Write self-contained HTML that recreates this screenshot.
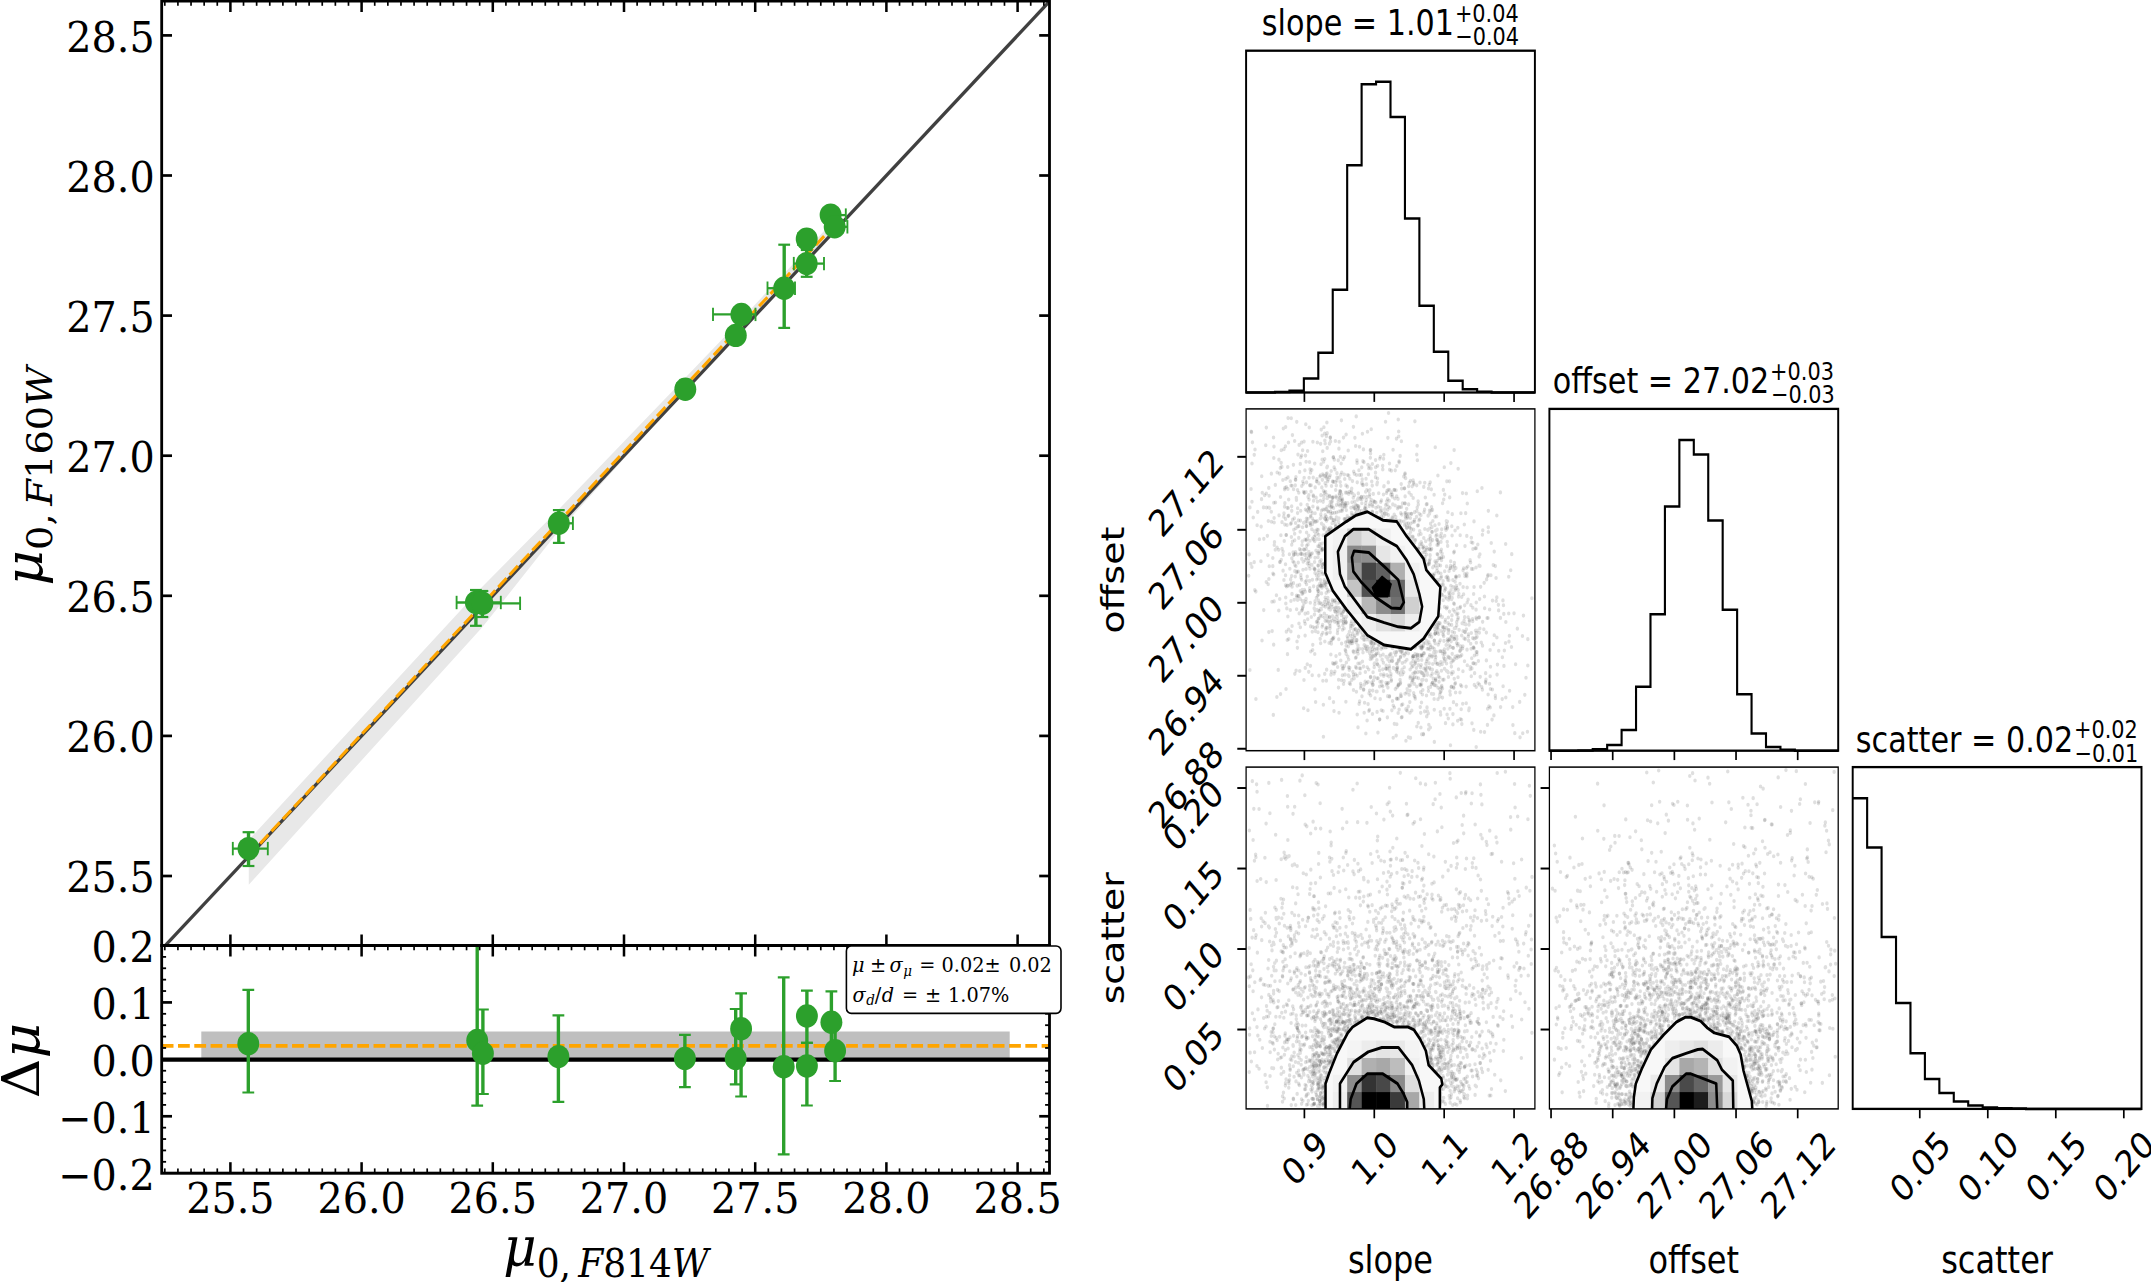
<!DOCTYPE html>
<html lang="en"><head><meta charset="utf-8"><title>mu0 F814W vs F160W and posterior corner plot</title>
<style>html,body{margin:0;padding:0;background:#fff}svg{display:block}text{fill:#000}</style></head><body>
<svg width="2151" height="1282" viewBox="0 0 2151 1282">
<defs><filter id="bl" x="-5%" y="-5%" width="110%" height="110%"><feGaussianBlur stdDeviation="0.45"/></filter><clipPath id="clipMain"><rect x="172.66" y="1" width="948" height="944.5"/></clipPath><clipPath id="clipLow"><rect x="172.66" y="945.5" width="948" height="227.7"/></clipPath><clipPath id="c10"><polygon points="1614.95,511.76 1633.19,520.18 1649.76,521.58 1661.37,536.32 1672.97,548.96 1681.26,558.78 1684.58,570.01 1701.16,586.86 1698.67,616.33 1681.26,638.79 1666.34,649.32 1634.84,645.11 1614.95,635.28 1590.08,609.31 1574.33,591.07 1565.21,572.82 1565.21,536.32 1590.08,521.58 1601.69,515.27"/></clipPath><clipPath id="c20"><polygon points="1565.53,1108.9 1565.53,1083.57 1569.91,1072.85 1579.12,1053.35 1591.78,1032.88 1597.53,1027.04 1614.8,1017.78 1622.86,1018.75 1635.52,1022.16 1647.03,1027.04 1663.15,1027.04 1670.05,1029.96 1676.96,1038.73 1683.87,1050.43 1687.32,1065.05 1702.29,1078.69 1703.44,1084.54 1700.56,1087.47 1700.56,1108.9"/></clipPath><clipPath id="c21"><polygon points="1929.13,1108.9 1929.7,1097.21 1932,1083.57 1939.49,1067.97 1949.85,1049.45 1964.81,1034.83 1979.78,1022.16 1990.14,1017.29 1997.04,1017.29 2008.55,1021.19 2016.61,1028.01 2024.67,1032.88 2041.94,1036.78 2051.15,1045.56 2055.75,1054.33 2059.2,1070.9 2064.96,1088.44 2068.99,1101.11 2069.56,1108.9"/></clipPath></defs>
<rect width="2151" height="1282" fill="#fff"/>
<g transform="scale(0.9365,1)">
<polygon points="265.64,839.85 509.4,592.48 515.01,586.83 596.26,509.87 730.75,378.72 786.79,323.9 893.27,217.81 893.27,226.81 786.79,334.2 730.75,391.72 596.26,531.37 515.01,627.33 509.4,632.98 265.64,884.85" fill="#e8e8e8"/>
<line x1="161.96" y1="960.06" x2="1131.43" y2="-9.43" stroke="#404040" stroke-width="3.4" clip-path="url(#clipMain)"/>
<line x1="265.64" y1="855.85" x2="893.27" y2="222.81" stroke="#ffa500" stroke-width="3.2" stroke-dasharray="12.6 4.6"/>
<line x1="248.59" y1="848.6" x2="285.96" y2="848.6" stroke="#2ca02c" stroke-width="2.3"/>
<line x1="248.59" y1="841.9" x2="248.59" y2="855.3" stroke="#2ca02c" stroke-width="2.0"/>
<line x1="285.96" y1="841.9" x2="285.96" y2="855.3" stroke="#2ca02c" stroke-width="2.0"/>
<line x1="265.35" y1="832.2" x2="265.35" y2="866" stroke="#2ca02c" stroke-width="3.6"/>
<line x1="259.05" y1="832.2" x2="271.65" y2="832.2" stroke="#2ca02c" stroke-width="2.2"/>
<line x1="259.05" y1="866" x2="271.65" y2="866" stroke="#2ca02c" stroke-width="2.2"/>
<line x1="487.56" y1="602.5" x2="534.76" y2="602.5" stroke="#2ca02c" stroke-width="2.3"/>
<line x1="487.56" y1="595.8" x2="487.56" y2="609.2" stroke="#2ca02c" stroke-width="2.0"/>
<line x1="534.76" y1="595.8" x2="534.76" y2="609.2" stroke="#2ca02c" stroke-width="2.0"/>
<line x1="508.17" y1="590" x2="508.17" y2="625.8" stroke="#2ca02c" stroke-width="3.6"/>
<line x1="501.87" y1="590" x2="514.47" y2="590" stroke="#2ca02c" stroke-width="2.2"/>
<line x1="501.87" y1="625.8" x2="514.47" y2="625.8" stroke="#2ca02c" stroke-width="2.2"/>
<line x1="508.28" y1="603.3" x2="555.37" y2="603.3" stroke="#2ca02c" stroke-width="2.3"/>
<line x1="508.28" y1="596.6" x2="508.28" y2="610" stroke="#2ca02c" stroke-width="2.0"/>
<line x1="555.37" y1="596.6" x2="555.37" y2="610" stroke="#2ca02c" stroke-width="2.0"/>
<line x1="515.11" y1="591" x2="515.11" y2="617" stroke="#2ca02c" stroke-width="3.6"/>
<line x1="508.81" y1="591" x2="521.41" y2="591" stroke="#2ca02c" stroke-width="2.2"/>
<line x1="508.81" y1="617" x2="521.41" y2="617" stroke="#2ca02c" stroke-width="2.2"/>
<line x1="589.43" y1="523.3" x2="611.75" y2="523.3" stroke="#2ca02c" stroke-width="2.3"/>
<line x1="589.43" y1="516.6" x2="589.43" y2="530" stroke="#2ca02c" stroke-width="2.0"/>
<line x1="611.75" y1="516.6" x2="611.75" y2="530" stroke="#2ca02c" stroke-width="2.0"/>
<line x1="596.69" y1="510.1" x2="596.69" y2="542.9" stroke="#2ca02c" stroke-width="3.6"/>
<line x1="590.39" y1="510.1" x2="602.99" y2="510.1" stroke="#2ca02c" stroke-width="2.2"/>
<line x1="590.39" y1="542.9" x2="602.99" y2="542.9" stroke="#2ca02c" stroke-width="2.2"/>
<line x1="722.9" y1="389.3" x2="739.99" y2="389.3" stroke="#2ca02c" stroke-width="2.3"/>
<line x1="722.9" y1="382.6" x2="722.9" y2="396" stroke="#2ca02c" stroke-width="2.0"/>
<line x1="739.99" y1="382.6" x2="739.99" y2="396" stroke="#2ca02c" stroke-width="2.0"/>
<line x1="731.77" y1="380" x2="731.77" y2="398" stroke="#2ca02c" stroke-width="3.6"/>
<line x1="725.47" y1="380" x2="738.07" y2="380" stroke="#2ca02c" stroke-width="2.2"/>
<line x1="725.47" y1="398" x2="738.07" y2="398" stroke="#2ca02c" stroke-width="2.2"/>
<line x1="777.36" y1="335.4" x2="794.45" y2="335.4" stroke="#2ca02c" stroke-width="2.3"/>
<line x1="777.36" y1="328.7" x2="777.36" y2="342.1" stroke="#2ca02c" stroke-width="2.0"/>
<line x1="794.45" y1="328.7" x2="794.45" y2="342.1" stroke="#2ca02c" stroke-width="2.0"/>
<line x1="785.69" y1="327" x2="785.69" y2="344" stroke="#2ca02c" stroke-width="3.6"/>
<line x1="779.39" y1="327" x2="791.99" y2="327" stroke="#2ca02c" stroke-width="2.2"/>
<line x1="779.39" y1="344" x2="791.99" y2="344" stroke="#2ca02c" stroke-width="2.2"/>
<line x1="761.35" y1="314.4" x2="806.73" y2="314.4" stroke="#2ca02c" stroke-width="2.3"/>
<line x1="761.35" y1="307.7" x2="761.35" y2="321.1" stroke="#2ca02c" stroke-width="2.0"/>
<line x1="806.73" y1="307.7" x2="806.73" y2="321.1" stroke="#2ca02c" stroke-width="2.0"/>
<line x1="791.67" y1="308" x2="791.67" y2="322" stroke="#2ca02c" stroke-width="3.6"/>
<line x1="785.37" y1="308" x2="797.97" y2="308" stroke="#2ca02c" stroke-width="2.2"/>
<line x1="785.37" y1="322" x2="797.97" y2="322" stroke="#2ca02c" stroke-width="2.2"/>
<line x1="819.54" y1="288.2" x2="848.91" y2="288.2" stroke="#2ca02c" stroke-width="2.3"/>
<line x1="819.54" y1="281.5" x2="819.54" y2="294.9" stroke="#2ca02c" stroke-width="2.0"/>
<line x1="848.91" y1="281.5" x2="848.91" y2="294.9" stroke="#2ca02c" stroke-width="2.0"/>
<line x1="837.37" y1="244.7" x2="837.37" y2="327.9" stroke="#2ca02c" stroke-width="3.6"/>
<line x1="831.07" y1="244.7" x2="843.67" y2="244.7" stroke="#2ca02c" stroke-width="2.2"/>
<line x1="831.07" y1="327.9" x2="843.67" y2="327.9" stroke="#2ca02c" stroke-width="2.2"/>
<line x1="847.62" y1="263.6" x2="879.87" y2="263.6" stroke="#2ca02c" stroke-width="2.3"/>
<line x1="847.62" y1="256.9" x2="847.62" y2="270.3" stroke="#2ca02c" stroke-width="2.0"/>
<line x1="879.87" y1="256.9" x2="879.87" y2="270.3" stroke="#2ca02c" stroke-width="2.0"/>
<line x1="861.4" y1="250" x2="861.4" y2="276.8" stroke="#2ca02c" stroke-width="3.6"/>
<line x1="855.1" y1="250" x2="867.7" y2="250" stroke="#2ca02c" stroke-width="2.2"/>
<line x1="855.1" y1="276.8" x2="867.7" y2="276.8" stroke="#2ca02c" stroke-width="2.2"/>
<line x1="852.11" y1="239.1" x2="869.19" y2="239.1" stroke="#2ca02c" stroke-width="2.3"/>
<line x1="852.11" y1="232.4" x2="852.11" y2="245.8" stroke="#2ca02c" stroke-width="2.0"/>
<line x1="869.19" y1="232.4" x2="869.19" y2="245.8" stroke="#2ca02c" stroke-width="2.0"/>
<line x1="861.4" y1="230" x2="861.4" y2="248" stroke="#2ca02c" stroke-width="3.6"/>
<line x1="855.1" y1="230" x2="867.7" y2="230" stroke="#2ca02c" stroke-width="2.2"/>
<line x1="855.1" y1="248" x2="867.7" y2="248" stroke="#2ca02c" stroke-width="2.2"/>
<line x1="884.14" y1="215.1" x2="903.15" y2="215.1" stroke="#2ca02c" stroke-width="2.3"/>
<line x1="884.14" y1="208.4" x2="884.14" y2="221.8" stroke="#2ca02c" stroke-width="2.0"/>
<line x1="903.15" y1="208.4" x2="903.15" y2="221.8" stroke="#2ca02c" stroke-width="2.0"/>
<line x1="886.92" y1="209" x2="886.92" y2="222" stroke="#2ca02c" stroke-width="3.6"/>
<line x1="880.62" y1="209" x2="893.22" y2="209" stroke="#2ca02c" stroke-width="2.2"/>
<line x1="880.62" y1="222" x2="893.22" y2="222" stroke="#2ca02c" stroke-width="2.2"/>
<line x1="886.28" y1="226.8" x2="904.86" y2="226.8" stroke="#2ca02c" stroke-width="2.3"/>
<line x1="886.28" y1="220.1" x2="886.28" y2="233.5" stroke="#2ca02c" stroke-width="2.0"/>
<line x1="904.86" y1="220.1" x2="904.86" y2="233.5" stroke="#2ca02c" stroke-width="2.0"/>
<line x1="891.3" y1="220" x2="891.3" y2="232" stroke="#2ca02c" stroke-width="3.6"/>
<line x1="885" y1="220" x2="897.6" y2="220" stroke="#2ca02c" stroke-width="2.2"/>
<line x1="885" y1="232" x2="897.6" y2="232" stroke="#2ca02c" stroke-width="2.2"/>
<circle cx="265.35" cy="848.6" r="11.7" fill="#2ca02c"/>
<circle cx="508.17" cy="602.5" r="11.7" fill="#2ca02c"/>
<circle cx="515.11" cy="603.3" r="11.7" fill="#2ca02c"/>
<circle cx="596.69" cy="523.3" r="11.7" fill="#2ca02c"/>
<circle cx="731.77" cy="389.3" r="11.7" fill="#2ca02c"/>
<circle cx="785.69" cy="335.4" r="11.7" fill="#2ca02c"/>
<circle cx="791.67" cy="314.4" r="11.7" fill="#2ca02c"/>
<circle cx="837.37" cy="288.2" r="11.7" fill="#2ca02c"/>
<circle cx="861.4" cy="263.6" r="11.7" fill="#2ca02c"/>
<circle cx="861.4" cy="239.1" r="11.7" fill="#2ca02c"/>
<circle cx="886.92" cy="215.1" r="11.7" fill="#2ca02c"/>
<circle cx="891.3" cy="226.8" r="11.7" fill="#2ca02c"/>
<rect x="214.95" y="1031.5" width="863.21" height="27.9" fill="#bfbfbf"/>
<line x1="172.66" y1="1059.65" x2="1120.66" y2="1059.65" stroke="#000" stroke-width="4.1"/>
<line x1="172.66" y1="1045.9" x2="1120.66" y2="1045.9" stroke="#ffa500" stroke-width="3.7" stroke-dasharray="12.6 4.8"/>
<line x1="265.14" y1="989.8" x2="265.14" y2="1092.5" stroke="#2ca02c" stroke-width="3.6" clip-path="url(#clipLow)"/>
<line x1="258.84" y1="989.8" x2="271.44" y2="989.8" stroke="#2ca02c" stroke-width="2.2" clip-path="url(#clipLow)"/>
<line x1="258.84" y1="1092.5" x2="271.44" y2="1092.5" stroke="#2ca02c" stroke-width="2.2" clip-path="url(#clipLow)"/>
<line x1="509.56" y1="900" x2="509.56" y2="1105.7" stroke="#2ca02c" stroke-width="3.6" clip-path="url(#clipLow)"/>
<line x1="503.26" y1="900" x2="515.86" y2="900" stroke="#2ca02c" stroke-width="2.2" clip-path="url(#clipLow)"/>
<line x1="503.26" y1="1105.7" x2="515.86" y2="1105.7" stroke="#2ca02c" stroke-width="2.2" clip-path="url(#clipLow)"/>
<line x1="515.64" y1="1009.5" x2="515.64" y2="1094" stroke="#2ca02c" stroke-width="3.6" clip-path="url(#clipLow)"/>
<line x1="509.34" y1="1009.5" x2="521.94" y2="1009.5" stroke="#2ca02c" stroke-width="2.2" clip-path="url(#clipLow)"/>
<line x1="509.34" y1="1094" x2="521.94" y2="1094" stroke="#2ca02c" stroke-width="2.2" clip-path="url(#clipLow)"/>
<line x1="596.26" y1="1015.3" x2="596.26" y2="1101.9" stroke="#2ca02c" stroke-width="3.6" clip-path="url(#clipLow)"/>
<line x1="589.96" y1="1015.3" x2="602.56" y2="1015.3" stroke="#2ca02c" stroke-width="2.2" clip-path="url(#clipLow)"/>
<line x1="589.96" y1="1101.9" x2="602.56" y2="1101.9" stroke="#2ca02c" stroke-width="2.2" clip-path="url(#clipLow)"/>
<line x1="731.34" y1="1034.9" x2="731.34" y2="1087.2" stroke="#2ca02c" stroke-width="3.6" clip-path="url(#clipLow)"/>
<line x1="725.04" y1="1034.9" x2="737.64" y2="1034.9" stroke="#2ca02c" stroke-width="2.2" clip-path="url(#clipLow)"/>
<line x1="725.04" y1="1087.2" x2="737.64" y2="1087.2" stroke="#2ca02c" stroke-width="2.2" clip-path="url(#clipLow)"/>
<line x1="785.58" y1="1009" x2="785.58" y2="1084.4" stroke="#2ca02c" stroke-width="3.6" clip-path="url(#clipLow)"/>
<line x1="779.28" y1="1009" x2="791.88" y2="1009" stroke="#2ca02c" stroke-width="2.2" clip-path="url(#clipLow)"/>
<line x1="779.28" y1="1084.4" x2="791.88" y2="1084.4" stroke="#2ca02c" stroke-width="2.2" clip-path="url(#clipLow)"/>
<line x1="791.35" y1="993.4" x2="791.35" y2="1096.5" stroke="#2ca02c" stroke-width="3.6" clip-path="url(#clipLow)"/>
<line x1="785.05" y1="993.4" x2="797.65" y2="993.4" stroke="#2ca02c" stroke-width="2.2" clip-path="url(#clipLow)"/>
<line x1="785.05" y1="1096.5" x2="797.65" y2="1096.5" stroke="#2ca02c" stroke-width="2.2" clip-path="url(#clipLow)"/>
<line x1="836.84" y1="977.3" x2="836.84" y2="1154.4" stroke="#2ca02c" stroke-width="3.6" clip-path="url(#clipLow)"/>
<line x1="830.54" y1="977.3" x2="843.14" y2="977.3" stroke="#2ca02c" stroke-width="2.2" clip-path="url(#clipLow)"/>
<line x1="830.54" y1="1154.4" x2="843.14" y2="1154.4" stroke="#2ca02c" stroke-width="2.2" clip-path="url(#clipLow)"/>
<line x1="861.61" y1="990.6" x2="861.61" y2="1042.8" stroke="#2ca02c" stroke-width="3.6" clip-path="url(#clipLow)"/>
<line x1="855.31" y1="990.6" x2="867.91" y2="990.6" stroke="#2ca02c" stroke-width="2.2" clip-path="url(#clipLow)"/>
<line x1="855.31" y1="1042.8" x2="867.91" y2="1042.8" stroke="#2ca02c" stroke-width="2.2" clip-path="url(#clipLow)"/>
<line x1="861.61" y1="1042.8" x2="861.61" y2="1105.5" stroke="#2ca02c" stroke-width="3.6" clip-path="url(#clipLow)"/>
<line x1="855.31" y1="1042.8" x2="867.91" y2="1042.8" stroke="#2ca02c" stroke-width="2.2" clip-path="url(#clipLow)"/>
<line x1="855.31" y1="1105.5" x2="867.91" y2="1105.5" stroke="#2ca02c" stroke-width="2.2" clip-path="url(#clipLow)"/>
<line x1="887.77" y1="991.4" x2="887.77" y2="1055" stroke="#2ca02c" stroke-width="3.6" clip-path="url(#clipLow)"/>
<line x1="881.47" y1="991.4" x2="894.07" y2="991.4" stroke="#2ca02c" stroke-width="2.2" clip-path="url(#clipLow)"/>
<line x1="881.47" y1="1055" x2="894.07" y2="1055" stroke="#2ca02c" stroke-width="2.2" clip-path="url(#clipLow)"/>
<line x1="891.72" y1="1022" x2="891.72" y2="1081" stroke="#2ca02c" stroke-width="3.6" clip-path="url(#clipLow)"/>
<line x1="885.42" y1="1022" x2="898.02" y2="1022" stroke="#2ca02c" stroke-width="2.2" clip-path="url(#clipLow)"/>
<line x1="885.42" y1="1081" x2="898.02" y2="1081" stroke="#2ca02c" stroke-width="2.2" clip-path="url(#clipLow)"/>
<circle cx="265.14" cy="1043.7" r="11.7" fill="#2ca02c"/>
<circle cx="509.56" cy="1040.5" r="11.7" fill="#2ca02c"/>
<circle cx="515.64" cy="1053.3" r="11.7" fill="#2ca02c"/>
<circle cx="596.26" cy="1056.6" r="11.7" fill="#2ca02c"/>
<circle cx="731.34" cy="1058.4" r="11.7" fill="#2ca02c"/>
<circle cx="785.58" cy="1058.4" r="11.7" fill="#2ca02c"/>
<circle cx="791.35" cy="1028.7" r="11.7" fill="#2ca02c"/>
<circle cx="836.84" cy="1066.8" r="11.7" fill="#2ca02c"/>
<circle cx="861.61" cy="1016" r="11.7" fill="#2ca02c"/>
<circle cx="861.61" cy="1066" r="11.7" fill="#2ca02c"/>
<circle cx="887.77" cy="1022.2" r="11.7" fill="#2ca02c"/>
<circle cx="891.72" cy="1050.8" r="11.7" fill="#2ca02c"/>
<line x1="246.02" y1="1" x2="246.02" y2="12" stroke="#000" stroke-width="2.7"/>
<line x1="246.02" y1="934.5" x2="246.02" y2="956.5" stroke="#000" stroke-width="2.7"/>
<line x1="246.02" y1="1162.2" x2="246.02" y2="1173.2" stroke="#000" stroke-width="2.7"/>
<line x1="386.12" y1="1" x2="386.12" y2="12" stroke="#000" stroke-width="2.7"/>
<line x1="386.12" y1="934.5" x2="386.12" y2="956.5" stroke="#000" stroke-width="2.7"/>
<line x1="386.12" y1="1162.2" x2="386.12" y2="1173.2" stroke="#000" stroke-width="2.7"/>
<line x1="526.21" y1="1" x2="526.21" y2="12" stroke="#000" stroke-width="2.7"/>
<line x1="526.21" y1="934.5" x2="526.21" y2="956.5" stroke="#000" stroke-width="2.7"/>
<line x1="526.21" y1="1162.2" x2="526.21" y2="1173.2" stroke="#000" stroke-width="2.7"/>
<line x1="666.31" y1="1" x2="666.31" y2="12" stroke="#000" stroke-width="2.7"/>
<line x1="666.31" y1="934.5" x2="666.31" y2="956.5" stroke="#000" stroke-width="2.7"/>
<line x1="666.31" y1="1162.2" x2="666.31" y2="1173.2" stroke="#000" stroke-width="2.7"/>
<line x1="806.41" y1="1" x2="806.41" y2="12" stroke="#000" stroke-width="2.7"/>
<line x1="806.41" y1="934.5" x2="806.41" y2="956.5" stroke="#000" stroke-width="2.7"/>
<line x1="806.41" y1="1162.2" x2="806.41" y2="1173.2" stroke="#000" stroke-width="2.7"/>
<line x1="946.5" y1="1" x2="946.5" y2="12" stroke="#000" stroke-width="2.7"/>
<line x1="946.5" y1="934.5" x2="946.5" y2="956.5" stroke="#000" stroke-width="2.7"/>
<line x1="946.5" y1="1162.2" x2="946.5" y2="1173.2" stroke="#000" stroke-width="2.7"/>
<line x1="1086.6" y1="1" x2="1086.6" y2="12" stroke="#000" stroke-width="2.7"/>
<line x1="1086.6" y1="934.5" x2="1086.6" y2="956.5" stroke="#000" stroke-width="2.7"/>
<line x1="1086.6" y1="1162.2" x2="1086.6" y2="1173.2" stroke="#000" stroke-width="2.7"/>
<line x1="175.97" y1="1" x2="175.97" y2="5.8" stroke="#000" stroke-width="1.8"/>
<line x1="175.97" y1="945.5" x2="175.97" y2="950.3" stroke="#000" stroke-width="1.8"/>
<line x1="175.97" y1="1168.4" x2="175.97" y2="1173.2" stroke="#000" stroke-width="1.8"/>
<line x1="189.98" y1="1" x2="189.98" y2="5.8" stroke="#000" stroke-width="1.8"/>
<line x1="189.98" y1="945.5" x2="189.98" y2="950.3" stroke="#000" stroke-width="1.8"/>
<line x1="189.98" y1="1168.4" x2="189.98" y2="1173.2" stroke="#000" stroke-width="1.8"/>
<line x1="203.99" y1="1" x2="203.99" y2="5.8" stroke="#000" stroke-width="1.8"/>
<line x1="203.99" y1="945.5" x2="203.99" y2="950.3" stroke="#000" stroke-width="1.8"/>
<line x1="203.99" y1="1168.4" x2="203.99" y2="1173.2" stroke="#000" stroke-width="1.8"/>
<line x1="218" y1="1" x2="218" y2="5.8" stroke="#000" stroke-width="1.8"/>
<line x1="218" y1="945.5" x2="218" y2="950.3" stroke="#000" stroke-width="1.8"/>
<line x1="218" y1="1168.4" x2="218" y2="1173.2" stroke="#000" stroke-width="1.8"/>
<line x1="232.01" y1="1" x2="232.01" y2="5.8" stroke="#000" stroke-width="1.8"/>
<line x1="232.01" y1="945.5" x2="232.01" y2="950.3" stroke="#000" stroke-width="1.8"/>
<line x1="232.01" y1="1168.4" x2="232.01" y2="1173.2" stroke="#000" stroke-width="1.8"/>
<line x1="260.03" y1="1" x2="260.03" y2="5.8" stroke="#000" stroke-width="1.8"/>
<line x1="260.03" y1="945.5" x2="260.03" y2="950.3" stroke="#000" stroke-width="1.8"/>
<line x1="260.03" y1="1168.4" x2="260.03" y2="1173.2" stroke="#000" stroke-width="1.8"/>
<line x1="274.04" y1="1" x2="274.04" y2="5.8" stroke="#000" stroke-width="1.8"/>
<line x1="274.04" y1="945.5" x2="274.04" y2="950.3" stroke="#000" stroke-width="1.8"/>
<line x1="274.04" y1="1168.4" x2="274.04" y2="1173.2" stroke="#000" stroke-width="1.8"/>
<line x1="288.05" y1="1" x2="288.05" y2="5.8" stroke="#000" stroke-width="1.8"/>
<line x1="288.05" y1="945.5" x2="288.05" y2="950.3" stroke="#000" stroke-width="1.8"/>
<line x1="288.05" y1="1168.4" x2="288.05" y2="1173.2" stroke="#000" stroke-width="1.8"/>
<line x1="302.06" y1="1" x2="302.06" y2="5.8" stroke="#000" stroke-width="1.8"/>
<line x1="302.06" y1="945.5" x2="302.06" y2="950.3" stroke="#000" stroke-width="1.8"/>
<line x1="302.06" y1="1168.4" x2="302.06" y2="1173.2" stroke="#000" stroke-width="1.8"/>
<line x1="316.07" y1="1" x2="316.07" y2="5.8" stroke="#000" stroke-width="1.8"/>
<line x1="316.07" y1="945.5" x2="316.07" y2="950.3" stroke="#000" stroke-width="1.8"/>
<line x1="316.07" y1="1168.4" x2="316.07" y2="1173.2" stroke="#000" stroke-width="1.8"/>
<line x1="330.08" y1="1" x2="330.08" y2="5.8" stroke="#000" stroke-width="1.8"/>
<line x1="330.08" y1="945.5" x2="330.08" y2="950.3" stroke="#000" stroke-width="1.8"/>
<line x1="330.08" y1="1168.4" x2="330.08" y2="1173.2" stroke="#000" stroke-width="1.8"/>
<line x1="344.09" y1="1" x2="344.09" y2="5.8" stroke="#000" stroke-width="1.8"/>
<line x1="344.09" y1="945.5" x2="344.09" y2="950.3" stroke="#000" stroke-width="1.8"/>
<line x1="344.09" y1="1168.4" x2="344.09" y2="1173.2" stroke="#000" stroke-width="1.8"/>
<line x1="358.1" y1="1" x2="358.1" y2="5.8" stroke="#000" stroke-width="1.8"/>
<line x1="358.1" y1="945.5" x2="358.1" y2="950.3" stroke="#000" stroke-width="1.8"/>
<line x1="358.1" y1="1168.4" x2="358.1" y2="1173.2" stroke="#000" stroke-width="1.8"/>
<line x1="372.11" y1="1" x2="372.11" y2="5.8" stroke="#000" stroke-width="1.8"/>
<line x1="372.11" y1="945.5" x2="372.11" y2="950.3" stroke="#000" stroke-width="1.8"/>
<line x1="372.11" y1="1168.4" x2="372.11" y2="1173.2" stroke="#000" stroke-width="1.8"/>
<line x1="400.13" y1="1" x2="400.13" y2="5.8" stroke="#000" stroke-width="1.8"/>
<line x1="400.13" y1="945.5" x2="400.13" y2="950.3" stroke="#000" stroke-width="1.8"/>
<line x1="400.13" y1="1168.4" x2="400.13" y2="1173.2" stroke="#000" stroke-width="1.8"/>
<line x1="414.14" y1="1" x2="414.14" y2="5.8" stroke="#000" stroke-width="1.8"/>
<line x1="414.14" y1="945.5" x2="414.14" y2="950.3" stroke="#000" stroke-width="1.8"/>
<line x1="414.14" y1="1168.4" x2="414.14" y2="1173.2" stroke="#000" stroke-width="1.8"/>
<line x1="428.15" y1="1" x2="428.15" y2="5.8" stroke="#000" stroke-width="1.8"/>
<line x1="428.15" y1="945.5" x2="428.15" y2="950.3" stroke="#000" stroke-width="1.8"/>
<line x1="428.15" y1="1168.4" x2="428.15" y2="1173.2" stroke="#000" stroke-width="1.8"/>
<line x1="442.16" y1="1" x2="442.16" y2="5.8" stroke="#000" stroke-width="1.8"/>
<line x1="442.16" y1="945.5" x2="442.16" y2="950.3" stroke="#000" stroke-width="1.8"/>
<line x1="442.16" y1="1168.4" x2="442.16" y2="1173.2" stroke="#000" stroke-width="1.8"/>
<line x1="456.17" y1="1" x2="456.17" y2="5.8" stroke="#000" stroke-width="1.8"/>
<line x1="456.17" y1="945.5" x2="456.17" y2="950.3" stroke="#000" stroke-width="1.8"/>
<line x1="456.17" y1="1168.4" x2="456.17" y2="1173.2" stroke="#000" stroke-width="1.8"/>
<line x1="470.18" y1="1" x2="470.18" y2="5.8" stroke="#000" stroke-width="1.8"/>
<line x1="470.18" y1="945.5" x2="470.18" y2="950.3" stroke="#000" stroke-width="1.8"/>
<line x1="470.18" y1="1168.4" x2="470.18" y2="1173.2" stroke="#000" stroke-width="1.8"/>
<line x1="484.19" y1="1" x2="484.19" y2="5.8" stroke="#000" stroke-width="1.8"/>
<line x1="484.19" y1="945.5" x2="484.19" y2="950.3" stroke="#000" stroke-width="1.8"/>
<line x1="484.19" y1="1168.4" x2="484.19" y2="1173.2" stroke="#000" stroke-width="1.8"/>
<line x1="498.2" y1="1" x2="498.2" y2="5.8" stroke="#000" stroke-width="1.8"/>
<line x1="498.2" y1="945.5" x2="498.2" y2="950.3" stroke="#000" stroke-width="1.8"/>
<line x1="498.2" y1="1168.4" x2="498.2" y2="1173.2" stroke="#000" stroke-width="1.8"/>
<line x1="512.21" y1="1" x2="512.21" y2="5.8" stroke="#000" stroke-width="1.8"/>
<line x1="512.21" y1="945.5" x2="512.21" y2="950.3" stroke="#000" stroke-width="1.8"/>
<line x1="512.21" y1="1168.4" x2="512.21" y2="1173.2" stroke="#000" stroke-width="1.8"/>
<line x1="540.22" y1="1" x2="540.22" y2="5.8" stroke="#000" stroke-width="1.8"/>
<line x1="540.22" y1="945.5" x2="540.22" y2="950.3" stroke="#000" stroke-width="1.8"/>
<line x1="540.22" y1="1168.4" x2="540.22" y2="1173.2" stroke="#000" stroke-width="1.8"/>
<line x1="554.23" y1="1" x2="554.23" y2="5.8" stroke="#000" stroke-width="1.8"/>
<line x1="554.23" y1="945.5" x2="554.23" y2="950.3" stroke="#000" stroke-width="1.8"/>
<line x1="554.23" y1="1168.4" x2="554.23" y2="1173.2" stroke="#000" stroke-width="1.8"/>
<line x1="568.24" y1="1" x2="568.24" y2="5.8" stroke="#000" stroke-width="1.8"/>
<line x1="568.24" y1="945.5" x2="568.24" y2="950.3" stroke="#000" stroke-width="1.8"/>
<line x1="568.24" y1="1168.4" x2="568.24" y2="1173.2" stroke="#000" stroke-width="1.8"/>
<line x1="582.25" y1="1" x2="582.25" y2="5.8" stroke="#000" stroke-width="1.8"/>
<line x1="582.25" y1="945.5" x2="582.25" y2="950.3" stroke="#000" stroke-width="1.8"/>
<line x1="582.25" y1="1168.4" x2="582.25" y2="1173.2" stroke="#000" stroke-width="1.8"/>
<line x1="596.26" y1="1" x2="596.26" y2="5.8" stroke="#000" stroke-width="1.8"/>
<line x1="596.26" y1="945.5" x2="596.26" y2="950.3" stroke="#000" stroke-width="1.8"/>
<line x1="596.26" y1="1168.4" x2="596.26" y2="1173.2" stroke="#000" stroke-width="1.8"/>
<line x1="610.27" y1="1" x2="610.27" y2="5.8" stroke="#000" stroke-width="1.8"/>
<line x1="610.27" y1="945.5" x2="610.27" y2="950.3" stroke="#000" stroke-width="1.8"/>
<line x1="610.27" y1="1168.4" x2="610.27" y2="1173.2" stroke="#000" stroke-width="1.8"/>
<line x1="624.28" y1="1" x2="624.28" y2="5.8" stroke="#000" stroke-width="1.8"/>
<line x1="624.28" y1="945.5" x2="624.28" y2="950.3" stroke="#000" stroke-width="1.8"/>
<line x1="624.28" y1="1168.4" x2="624.28" y2="1173.2" stroke="#000" stroke-width="1.8"/>
<line x1="638.29" y1="1" x2="638.29" y2="5.8" stroke="#000" stroke-width="1.8"/>
<line x1="638.29" y1="945.5" x2="638.29" y2="950.3" stroke="#000" stroke-width="1.8"/>
<line x1="638.29" y1="1168.4" x2="638.29" y2="1173.2" stroke="#000" stroke-width="1.8"/>
<line x1="652.3" y1="1" x2="652.3" y2="5.8" stroke="#000" stroke-width="1.8"/>
<line x1="652.3" y1="945.5" x2="652.3" y2="950.3" stroke="#000" stroke-width="1.8"/>
<line x1="652.3" y1="1168.4" x2="652.3" y2="1173.2" stroke="#000" stroke-width="1.8"/>
<line x1="680.32" y1="1" x2="680.32" y2="5.8" stroke="#000" stroke-width="1.8"/>
<line x1="680.32" y1="945.5" x2="680.32" y2="950.3" stroke="#000" stroke-width="1.8"/>
<line x1="680.32" y1="1168.4" x2="680.32" y2="1173.2" stroke="#000" stroke-width="1.8"/>
<line x1="694.33" y1="1" x2="694.33" y2="5.8" stroke="#000" stroke-width="1.8"/>
<line x1="694.33" y1="945.5" x2="694.33" y2="950.3" stroke="#000" stroke-width="1.8"/>
<line x1="694.33" y1="1168.4" x2="694.33" y2="1173.2" stroke="#000" stroke-width="1.8"/>
<line x1="708.34" y1="1" x2="708.34" y2="5.8" stroke="#000" stroke-width="1.8"/>
<line x1="708.34" y1="945.5" x2="708.34" y2="950.3" stroke="#000" stroke-width="1.8"/>
<line x1="708.34" y1="1168.4" x2="708.34" y2="1173.2" stroke="#000" stroke-width="1.8"/>
<line x1="722.35" y1="1" x2="722.35" y2="5.8" stroke="#000" stroke-width="1.8"/>
<line x1="722.35" y1="945.5" x2="722.35" y2="950.3" stroke="#000" stroke-width="1.8"/>
<line x1="722.35" y1="1168.4" x2="722.35" y2="1173.2" stroke="#000" stroke-width="1.8"/>
<line x1="736.36" y1="1" x2="736.36" y2="5.8" stroke="#000" stroke-width="1.8"/>
<line x1="736.36" y1="945.5" x2="736.36" y2="950.3" stroke="#000" stroke-width="1.8"/>
<line x1="736.36" y1="1168.4" x2="736.36" y2="1173.2" stroke="#000" stroke-width="1.8"/>
<line x1="750.37" y1="1" x2="750.37" y2="5.8" stroke="#000" stroke-width="1.8"/>
<line x1="750.37" y1="945.5" x2="750.37" y2="950.3" stroke="#000" stroke-width="1.8"/>
<line x1="750.37" y1="1168.4" x2="750.37" y2="1173.2" stroke="#000" stroke-width="1.8"/>
<line x1="764.38" y1="1" x2="764.38" y2="5.8" stroke="#000" stroke-width="1.8"/>
<line x1="764.38" y1="945.5" x2="764.38" y2="950.3" stroke="#000" stroke-width="1.8"/>
<line x1="764.38" y1="1168.4" x2="764.38" y2="1173.2" stroke="#000" stroke-width="1.8"/>
<line x1="778.39" y1="1" x2="778.39" y2="5.8" stroke="#000" stroke-width="1.8"/>
<line x1="778.39" y1="945.5" x2="778.39" y2="950.3" stroke="#000" stroke-width="1.8"/>
<line x1="778.39" y1="1168.4" x2="778.39" y2="1173.2" stroke="#000" stroke-width="1.8"/>
<line x1="792.4" y1="1" x2="792.4" y2="5.8" stroke="#000" stroke-width="1.8"/>
<line x1="792.4" y1="945.5" x2="792.4" y2="950.3" stroke="#000" stroke-width="1.8"/>
<line x1="792.4" y1="1168.4" x2="792.4" y2="1173.2" stroke="#000" stroke-width="1.8"/>
<line x1="820.42" y1="1" x2="820.42" y2="5.8" stroke="#000" stroke-width="1.8"/>
<line x1="820.42" y1="945.5" x2="820.42" y2="950.3" stroke="#000" stroke-width="1.8"/>
<line x1="820.42" y1="1168.4" x2="820.42" y2="1173.2" stroke="#000" stroke-width="1.8"/>
<line x1="834.43" y1="1" x2="834.43" y2="5.8" stroke="#000" stroke-width="1.8"/>
<line x1="834.43" y1="945.5" x2="834.43" y2="950.3" stroke="#000" stroke-width="1.8"/>
<line x1="834.43" y1="1168.4" x2="834.43" y2="1173.2" stroke="#000" stroke-width="1.8"/>
<line x1="848.44" y1="1" x2="848.44" y2="5.8" stroke="#000" stroke-width="1.8"/>
<line x1="848.44" y1="945.5" x2="848.44" y2="950.3" stroke="#000" stroke-width="1.8"/>
<line x1="848.44" y1="1168.4" x2="848.44" y2="1173.2" stroke="#000" stroke-width="1.8"/>
<line x1="862.45" y1="1" x2="862.45" y2="5.8" stroke="#000" stroke-width="1.8"/>
<line x1="862.45" y1="945.5" x2="862.45" y2="950.3" stroke="#000" stroke-width="1.8"/>
<line x1="862.45" y1="1168.4" x2="862.45" y2="1173.2" stroke="#000" stroke-width="1.8"/>
<line x1="876.45" y1="1" x2="876.45" y2="5.8" stroke="#000" stroke-width="1.8"/>
<line x1="876.45" y1="945.5" x2="876.45" y2="950.3" stroke="#000" stroke-width="1.8"/>
<line x1="876.45" y1="1168.4" x2="876.45" y2="1173.2" stroke="#000" stroke-width="1.8"/>
<line x1="890.46" y1="1" x2="890.46" y2="5.8" stroke="#000" stroke-width="1.8"/>
<line x1="890.46" y1="945.5" x2="890.46" y2="950.3" stroke="#000" stroke-width="1.8"/>
<line x1="890.46" y1="1168.4" x2="890.46" y2="1173.2" stroke="#000" stroke-width="1.8"/>
<line x1="904.47" y1="1" x2="904.47" y2="5.8" stroke="#000" stroke-width="1.8"/>
<line x1="904.47" y1="945.5" x2="904.47" y2="950.3" stroke="#000" stroke-width="1.8"/>
<line x1="904.47" y1="1168.4" x2="904.47" y2="1173.2" stroke="#000" stroke-width="1.8"/>
<line x1="918.48" y1="1" x2="918.48" y2="5.8" stroke="#000" stroke-width="1.8"/>
<line x1="918.48" y1="945.5" x2="918.48" y2="950.3" stroke="#000" stroke-width="1.8"/>
<line x1="918.48" y1="1168.4" x2="918.48" y2="1173.2" stroke="#000" stroke-width="1.8"/>
<line x1="932.49" y1="1" x2="932.49" y2="5.8" stroke="#000" stroke-width="1.8"/>
<line x1="932.49" y1="945.5" x2="932.49" y2="950.3" stroke="#000" stroke-width="1.8"/>
<line x1="932.49" y1="1168.4" x2="932.49" y2="1173.2" stroke="#000" stroke-width="1.8"/>
<line x1="960.51" y1="1" x2="960.51" y2="5.8" stroke="#000" stroke-width="1.8"/>
<line x1="960.51" y1="945.5" x2="960.51" y2="950.3" stroke="#000" stroke-width="1.8"/>
<line x1="960.51" y1="1168.4" x2="960.51" y2="1173.2" stroke="#000" stroke-width="1.8"/>
<line x1="974.52" y1="1" x2="974.52" y2="5.8" stroke="#000" stroke-width="1.8"/>
<line x1="974.52" y1="945.5" x2="974.52" y2="950.3" stroke="#000" stroke-width="1.8"/>
<line x1="974.52" y1="1168.4" x2="974.52" y2="1173.2" stroke="#000" stroke-width="1.8"/>
<line x1="988.53" y1="1" x2="988.53" y2="5.8" stroke="#000" stroke-width="1.8"/>
<line x1="988.53" y1="945.5" x2="988.53" y2="950.3" stroke="#000" stroke-width="1.8"/>
<line x1="988.53" y1="1168.4" x2="988.53" y2="1173.2" stroke="#000" stroke-width="1.8"/>
<line x1="1002.54" y1="1" x2="1002.54" y2="5.8" stroke="#000" stroke-width="1.8"/>
<line x1="1002.54" y1="945.5" x2="1002.54" y2="950.3" stroke="#000" stroke-width="1.8"/>
<line x1="1002.54" y1="1168.4" x2="1002.54" y2="1173.2" stroke="#000" stroke-width="1.8"/>
<line x1="1016.55" y1="1" x2="1016.55" y2="5.8" stroke="#000" stroke-width="1.8"/>
<line x1="1016.55" y1="945.5" x2="1016.55" y2="950.3" stroke="#000" stroke-width="1.8"/>
<line x1="1016.55" y1="1168.4" x2="1016.55" y2="1173.2" stroke="#000" stroke-width="1.8"/>
<line x1="1030.56" y1="1" x2="1030.56" y2="5.8" stroke="#000" stroke-width="1.8"/>
<line x1="1030.56" y1="945.5" x2="1030.56" y2="950.3" stroke="#000" stroke-width="1.8"/>
<line x1="1030.56" y1="1168.4" x2="1030.56" y2="1173.2" stroke="#000" stroke-width="1.8"/>
<line x1="1044.57" y1="1" x2="1044.57" y2="5.8" stroke="#000" stroke-width="1.8"/>
<line x1="1044.57" y1="945.5" x2="1044.57" y2="950.3" stroke="#000" stroke-width="1.8"/>
<line x1="1044.57" y1="1168.4" x2="1044.57" y2="1173.2" stroke="#000" stroke-width="1.8"/>
<line x1="1058.58" y1="1" x2="1058.58" y2="5.8" stroke="#000" stroke-width="1.8"/>
<line x1="1058.58" y1="945.5" x2="1058.58" y2="950.3" stroke="#000" stroke-width="1.8"/>
<line x1="1058.58" y1="1168.4" x2="1058.58" y2="1173.2" stroke="#000" stroke-width="1.8"/>
<line x1="1072.59" y1="1" x2="1072.59" y2="5.8" stroke="#000" stroke-width="1.8"/>
<line x1="1072.59" y1="945.5" x2="1072.59" y2="950.3" stroke="#000" stroke-width="1.8"/>
<line x1="1072.59" y1="1168.4" x2="1072.59" y2="1173.2" stroke="#000" stroke-width="1.8"/>
<line x1="1100.61" y1="1" x2="1100.61" y2="5.8" stroke="#000" stroke-width="1.8"/>
<line x1="1100.61" y1="945.5" x2="1100.61" y2="950.3" stroke="#000" stroke-width="1.8"/>
<line x1="1100.61" y1="1168.4" x2="1100.61" y2="1173.2" stroke="#000" stroke-width="1.8"/>
<line x1="1114.62" y1="1" x2="1114.62" y2="5.8" stroke="#000" stroke-width="1.8"/>
<line x1="1114.62" y1="945.5" x2="1114.62" y2="950.3" stroke="#000" stroke-width="1.8"/>
<line x1="1114.62" y1="1168.4" x2="1114.62" y2="1173.2" stroke="#000" stroke-width="1.8"/>
<line x1="172.66" y1="876" x2="183.66" y2="876" stroke="#000" stroke-width="2.7"/>
<line x1="1109.66" y1="876" x2="1120.66" y2="876" stroke="#000" stroke-width="2.7"/>
<line x1="172.66" y1="735.9" x2="183.66" y2="735.9" stroke="#000" stroke-width="2.7"/>
<line x1="1109.66" y1="735.9" x2="1120.66" y2="735.9" stroke="#000" stroke-width="2.7"/>
<line x1="172.66" y1="595.8" x2="183.66" y2="595.8" stroke="#000" stroke-width="2.7"/>
<line x1="1109.66" y1="595.8" x2="1120.66" y2="595.8" stroke="#000" stroke-width="2.7"/>
<line x1="172.66" y1="455.7" x2="183.66" y2="455.7" stroke="#000" stroke-width="2.7"/>
<line x1="1109.66" y1="455.7" x2="1120.66" y2="455.7" stroke="#000" stroke-width="2.7"/>
<line x1="172.66" y1="315.6" x2="183.66" y2="315.6" stroke="#000" stroke-width="2.7"/>
<line x1="1109.66" y1="315.6" x2="1120.66" y2="315.6" stroke="#000" stroke-width="2.7"/>
<line x1="172.66" y1="175.5" x2="183.66" y2="175.5" stroke="#000" stroke-width="2.7"/>
<line x1="1109.66" y1="175.5" x2="1120.66" y2="175.5" stroke="#000" stroke-width="2.7"/>
<line x1="172.66" y1="35.4" x2="183.66" y2="35.4" stroke="#000" stroke-width="2.7"/>
<line x1="1109.66" y1="35.4" x2="1120.66" y2="35.4" stroke="#000" stroke-width="2.7"/>
<line x1="172.66" y1="1161.81" x2="177.36" y2="1161.81" stroke="#000" stroke-width="1.8"/>
<line x1="1115.96" y1="1161.81" x2="1120.66" y2="1161.81" stroke="#000" stroke-width="1.8"/>
<line x1="172.66" y1="1150.43" x2="177.36" y2="1150.43" stroke="#000" stroke-width="1.8"/>
<line x1="1115.96" y1="1150.43" x2="1120.66" y2="1150.43" stroke="#000" stroke-width="1.8"/>
<line x1="172.66" y1="1139.04" x2="177.36" y2="1139.04" stroke="#000" stroke-width="1.8"/>
<line x1="1115.96" y1="1139.04" x2="1120.66" y2="1139.04" stroke="#000" stroke-width="1.8"/>
<line x1="172.66" y1="1127.66" x2="177.36" y2="1127.66" stroke="#000" stroke-width="1.8"/>
<line x1="1115.96" y1="1127.66" x2="1120.66" y2="1127.66" stroke="#000" stroke-width="1.8"/>
<line x1="172.66" y1="1116.27" x2="183.66" y2="1116.27" stroke="#000" stroke-width="2.7"/>
<line x1="1109.66" y1="1116.27" x2="1120.66" y2="1116.27" stroke="#000" stroke-width="2.7"/>
<line x1="172.66" y1="1104.89" x2="177.36" y2="1104.89" stroke="#000" stroke-width="1.8"/>
<line x1="1115.96" y1="1104.89" x2="1120.66" y2="1104.89" stroke="#000" stroke-width="1.8"/>
<line x1="172.66" y1="1093.5" x2="177.36" y2="1093.5" stroke="#000" stroke-width="1.8"/>
<line x1="1115.96" y1="1093.5" x2="1120.66" y2="1093.5" stroke="#000" stroke-width="1.8"/>
<line x1="172.66" y1="1082.12" x2="177.36" y2="1082.12" stroke="#000" stroke-width="1.8"/>
<line x1="1115.96" y1="1082.12" x2="1120.66" y2="1082.12" stroke="#000" stroke-width="1.8"/>
<line x1="172.66" y1="1070.73" x2="177.36" y2="1070.73" stroke="#000" stroke-width="1.8"/>
<line x1="1115.96" y1="1070.73" x2="1120.66" y2="1070.73" stroke="#000" stroke-width="1.8"/>
<line x1="172.66" y1="1059.35" x2="183.66" y2="1059.35" stroke="#000" stroke-width="2.7"/>
<line x1="1109.66" y1="1059.35" x2="1120.66" y2="1059.35" stroke="#000" stroke-width="2.7"/>
<line x1="172.66" y1="1047.96" x2="177.36" y2="1047.96" stroke="#000" stroke-width="1.8"/>
<line x1="1115.96" y1="1047.96" x2="1120.66" y2="1047.96" stroke="#000" stroke-width="1.8"/>
<line x1="172.66" y1="1036.58" x2="177.36" y2="1036.58" stroke="#000" stroke-width="1.8"/>
<line x1="1115.96" y1="1036.58" x2="1120.66" y2="1036.58" stroke="#000" stroke-width="1.8"/>
<line x1="172.66" y1="1025.19" x2="177.36" y2="1025.19" stroke="#000" stroke-width="1.8"/>
<line x1="1115.96" y1="1025.19" x2="1120.66" y2="1025.19" stroke="#000" stroke-width="1.8"/>
<line x1="172.66" y1="1013.81" x2="177.36" y2="1013.81" stroke="#000" stroke-width="1.8"/>
<line x1="1115.96" y1="1013.81" x2="1120.66" y2="1013.81" stroke="#000" stroke-width="1.8"/>
<line x1="172.66" y1="1002.42" x2="183.66" y2="1002.42" stroke="#000" stroke-width="2.7"/>
<line x1="1109.66" y1="1002.42" x2="1120.66" y2="1002.42" stroke="#000" stroke-width="2.7"/>
<line x1="172.66" y1="991.04" x2="177.36" y2="991.04" stroke="#000" stroke-width="1.8"/>
<line x1="1115.96" y1="991.04" x2="1120.66" y2="991.04" stroke="#000" stroke-width="1.8"/>
<line x1="172.66" y1="979.65" x2="177.36" y2="979.65" stroke="#000" stroke-width="1.8"/>
<line x1="1115.96" y1="979.65" x2="1120.66" y2="979.65" stroke="#000" stroke-width="1.8"/>
<line x1="172.66" y1="968.27" x2="177.36" y2="968.27" stroke="#000" stroke-width="1.8"/>
<line x1="1115.96" y1="968.27" x2="1120.66" y2="968.27" stroke="#000" stroke-width="1.8"/>
<line x1="172.66" y1="956.88" x2="177.36" y2="956.88" stroke="#000" stroke-width="1.8"/>
<line x1="1115.96" y1="956.88" x2="1120.66" y2="956.88" stroke="#000" stroke-width="1.8"/>
<rect x="172.66" y="1" width="948" height="944.5" fill="none" stroke="#000" stroke-width="3"/>
<rect x="172.66" y="945.5" width="948" height="227.7" fill="none" stroke="#000" stroke-width="3"/>
<text x="165.19" y="892.3" font-family="'DejaVu Serif', 'Liberation Serif', serif" font-size="42.4" text-anchor="end">25.5</text>
<text x="165.19" y="752.2" font-family="'DejaVu Serif', 'Liberation Serif', serif" font-size="42.4" text-anchor="end">26.0</text>
<text x="165.19" y="612.1" font-family="'DejaVu Serif', 'Liberation Serif', serif" font-size="42.4" text-anchor="end">26.5</text>
<text x="165.19" y="472" font-family="'DejaVu Serif', 'Liberation Serif', serif" font-size="42.4" text-anchor="end">27.0</text>
<text x="165.19" y="331.9" font-family="'DejaVu Serif', 'Liberation Serif', serif" font-size="42.4" text-anchor="end">27.5</text>
<text x="165.19" y="191.8" font-family="'DejaVu Serif', 'Liberation Serif', serif" font-size="42.4" text-anchor="end">28.0</text>
<text x="165.19" y="51.7" font-family="'DejaVu Serif', 'Liberation Serif', serif" font-size="42.4" text-anchor="end">28.5</text>
<text x="165.19" y="1189.7" font-family="'DejaVu Serif', 'Liberation Serif', serif" font-size="42.4" text-anchor="end">−0.2</text>
<text x="165.19" y="1132.77" font-family="'DejaVu Serif', 'Liberation Serif', serif" font-size="42.4" text-anchor="end">−0.1</text>
<text x="165.19" y="1075.85" font-family="'DejaVu Serif', 'Liberation Serif', serif" font-size="42.4" text-anchor="end">0.0</text>
<text x="165.19" y="1018.92" font-family="'DejaVu Serif', 'Liberation Serif', serif" font-size="42.4" text-anchor="end">0.1</text>
<text x="165.19" y="962" font-family="'DejaVu Serif', 'Liberation Serif', serif" font-size="42.4" text-anchor="end">0.2</text>
<text x="246.02" y="1213.5" font-family="'DejaVu Serif', 'Liberation Serif', serif" font-size="42.4" text-anchor="middle">25.5</text>
<text x="386.12" y="1213.5" font-family="'DejaVu Serif', 'Liberation Serif', serif" font-size="42.4" text-anchor="middle">26.0</text>
<text x="526.21" y="1213.5" font-family="'DejaVu Serif', 'Liberation Serif', serif" font-size="42.4" text-anchor="middle">26.5</text>
<text x="666.31" y="1213.5" font-family="'DejaVu Serif', 'Liberation Serif', serif" font-size="42.4" text-anchor="middle">27.0</text>
<text x="806.41" y="1213.5" font-family="'DejaVu Serif', 'Liberation Serif', serif" font-size="42.4" text-anchor="middle">27.5</text>
<text x="946.5" y="1213.5" font-family="'DejaVu Serif', 'Liberation Serif', serif" font-size="42.4" text-anchor="middle">28.0</text>
<text x="1086.6" y="1213.5" font-family="'DejaVu Serif', 'Liberation Serif', serif" font-size="42.4" text-anchor="middle">28.5</text>
<text x="647.09" y="1266.2" font-family="'DejaVu Serif', 'Liberation Serif', serif" text-anchor="middle"><tspan font-size="55" font-style="italic">μ</tspan><tspan font-size="38.4" dy="10.5">0,</tspan><tspan font-size="38.4" font-style="italic"> F</tspan><tspan font-size="38.4">814</tspan><tspan font-size="38.4" font-style="italic">W</tspan></text>
<text transform="translate(45.38,476) rotate(-90)" font-family="'DejaVu Serif', 'Liberation Serif', serif" text-anchor="middle"><tspan font-size="55" font-style="italic">μ</tspan><tspan font-size="38.4" dy="10.5">0,</tspan><tspan font-size="38.4" font-style="italic"> F</tspan><tspan font-size="38.4">160</tspan><tspan font-size="38.4" font-style="italic">W</tspan></text>
<text transform="translate(41.32,1060.4) rotate(-90)" font-family="'DejaVu Serif', 'Liberation Serif', serif" text-anchor="middle"><tspan font-size="55">Δ</tspan><tspan font-size="55" font-style="italic">μ</tspan></text>
<rect x="903.79" y="946" width="229.15" height="67.3" rx="5.2" ry="5" fill="#fff" stroke="#000" stroke-width="1.7"/>
<text x="909.74" y="972.1" font-family="'DejaVu Serif', 'Liberation Serif', serif" font-size="20.6" text-anchor="start" font-style="italic">μ</text>
<text x="928.93" y="972.1" font-family="'DejaVu Serif', 'Liberation Serif', serif" font-size="20.6" text-anchor="start">±</text>
<text x="949.71" y="972.1" font-family="'DejaVu Serif', 'Liberation Serif', serif" font-size="20.6" text-anchor="start" font-style="italic">σ</text>
<text x="964.55" y="975.9" font-family="'DejaVu Serif', 'Liberation Serif', serif" font-size="14.4" text-anchor="start" font-style="italic">μ</text>
<text x="981.45" y="972.1" font-family="'DejaVu Serif', 'Liberation Serif', serif" font-size="20.6" text-anchor="start">=</text>
<text x="1005.43" y="972.1" font-family="'DejaVu Serif', 'Liberation Serif', serif" font-size="20.6" text-anchor="start">0.02±</text>
<text x="1077.36" y="972.1" font-family="'DejaVu Serif', 'Liberation Serif', serif" font-size="20.6" text-anchor="start">0.02</text>
<text x="910.2" y="1001.7" font-family="'DejaVu Serif', 'Liberation Serif', serif" font-size="20.6" text-anchor="start" font-style="italic">σ</text>
<text x="925.04" y="1005.5" font-family="'DejaVu Serif', 'Liberation Serif', serif" font-size="14.4" text-anchor="start" font-style="italic">d</text>
<text x="934.18" y="1001.7" font-family="'DejaVu Serif', 'Liberation Serif', serif" font-size="20.6" text-anchor="start">/</text>
<text x="941.49" y="1001.7" font-family="'DejaVu Serif', 'Liberation Serif', serif" font-size="20.6" text-anchor="start" font-style="italic">d</text>
<text x="963.18" y="1001.7" font-family="'DejaVu Serif', 'Liberation Serif', serif" font-size="20.6" text-anchor="start">=</text>
<text x="987.73" y="1001.7" font-family="'DejaVu Serif', 'Liberation Serif', serif" font-size="20.6" text-anchor="start">±</text>
<text x="1012.28" y="1001.7" font-family="'DejaVu Serif', 'Liberation Serif', serif" font-size="20.6" text-anchor="start">1.07%</text>
</g>
<g transform="scale(0.8467,1)">
<path d="M1471.71 392.5V392.5H1488.77V392.5H1505.82V391.88H1522.88V390.64H1539.93V378.52H1556.99V352.73H1574.04V289.65H1591.09V165.36H1608.15V84.26H1625.2V81.77H1642.26V116.88H1659.31V218.49H1676.37V305.81H1693.42V351.79H1710.48V380.85H1727.53V389.18H1744.58V391.66H1761.64V392.5H1778.69V392.5H1795.75V392.5H1812.8V392.5" fill="none" stroke="#000" stroke-width="2.5" stroke-linejoin="miter"/>
<path d="M1829.93 750.7V750.7H1846.98V750.7H1864.04V750.39H1881.09V749.3H1898.15V745.11H1915.2V729.88H1932.25V686.69H1949.31V614.29H1966.36V506.47H1983.42V439.97H2000.47V454.58H2017.53V520.45H2034.58V609.63H2051.64V694.15H2068.69V733.45H2085.74V747.1H2102.8V749.86H2119.85V750.7H2136.91V750.7H2153.96V750.7H2171.02V750.7" fill="none" stroke="#000" stroke-width="2.5" stroke-linejoin="miter"/>
<path d="M2188.14 798.17V798.17H2205.2V847.58H2222.25V937.07H2239.31V1002.94H2256.36V1053.28H2273.41V1079.07H2290.47V1093.05H2307.52V1101.44H2324.58V1105.54H2341.63V1107.5H2358.69V1108.28H2375.74V1108.59H2392.8V1108.9H2409.85V1108.9H2426.9V1108.9H2443.96V1108.9H2461.01V1108.9H2478.07V1108.9H2495.12V1108.9H2512.18V1108.9H2529.23V1108.9" fill="none" stroke="#000" stroke-width="2.5" stroke-linejoin="miter"/>
<path d="M1585.41 508.83h0M1743.35 617.6h0M1535.05 670.94h0M1720.31 545.25h0M1659.54 496.42h0M1549.32 469.99h0M1701.07 692.3h0M1580.66 622.45h0M1718.85 587.08h0M1716.28 659.96h0M1671.75 656.65h0M1546.68 554.56h0M1680 647.62h0M1552.78 628.04h0M1533.3 562.59h0M1552.59 561.93h0M1608.61 482.62h0M1641.64 507.72h0M1584.46 680.28h0M1554.87 621.94h0M1666.28 684.8h0M1670.76 512.16h0M1572.27 471h0M1693.46 652.27h0M1669.04 498.03h0M1645.05 517.96h0M1733.89 599.45h0M1694.97 623.87h0M1576.61 663.47h0M1561.21 567.49h0M1611.19 645.11h0M1737.68 632.98h0M1710.01 512.32h0M1578.91 480.5h0M1774.38 657.19h0M1675.06 504.47h0M1558.71 561.54h0M1590.02 645.69h0M1574.74 519.87h0M1485.39 511.9h0M1564.26 518.24h0M1606.29 663.35h0M1516.45 513.22h0M1506.19 549.8h0M1570.06 505.37h0M1697.25 544.93h0M1608.85 479.18h0M1618.82 695.47h0M1518.33 518.94h0M1629.28 719.6h0M1702.44 558.96h0M1676.21 513.79h0M1686.82 713.39h0M1583.06 505.23h0M1649.09 669.75h0M1574.32 496.93h0M1557.12 594.39h0M1697.92 633.24h0M1553.81 701.97h0M1614.61 720.5h0M1695.49 662.46h0M1703.94 679.68h0M1681.83 668.54h0M1639.19 659.5h0M1679.12 544.16h0M1700.34 608.39h0M1555.12 579.57h0M1694.97 660.54h0M1613.37 508.72h0M1675.2 525.31h0M1711.68 597.76h0M1533.9 596.13h0M1623.01 667.14h0M1577.53 527.61h0M1648.69 519.99h0M1694.79 525.25h0M1694.51 629.33h0M1731.59 686.61h0M1559.97 586.08h0M1703.18 584.66h0M1696.7 539.71h0M1708.39 670.87h0M1685.1 640.99h0M1663.79 685.33h0M1517.14 506.76h0M1536.51 577.77h0M1559.56 475.39h0M1540.16 441.59h0M1538.68 481.43h0M1698.75 676.47h0M1645.29 449.72h0M1555.45 539.01h0M1715.19 514.16h0M1526.51 541.53h0M1661.92 527.47h0M1776.74 650.44h0M1585.99 625.37h0M1655.41 488.62h0M1685.84 711.41h0M1654.51 651.94h0M1595.13 625.75h0M1680.4 690.06h0M1599.57 473.85h0M1478.17 432.17h0M1527.85 555.1h0M1753.44 608.19h0M1719.63 577.86h0M1745.63 683.34h0M1695.12 447.28h0M1625.51 691.51h0M1602.73 632.62h0M1729.97 573.93h0M1584.34 420.36h0M1629.59 458.77h0M1671.05 663.94h0M1600.19 635.51h0M1683.37 497.56h0M1673.39 726.57h0M1595.67 492.44h0M1517.17 489.44h0M1698.5 628.98h0M1766.06 695.64h0M1589.56 701.78h0M1715.96 724.38h0M1720.22 585.73h0M1720.58 639.12h0M1529.99 479.56h0M1658.04 521.53h0M1698.1 554.61h0M1583.37 491.89h0M1529.04 441.05h0M1546.1 555.19h0M1480.17 517.46h0M1786.61 707.09h0M1609.11 661.52h0M1628.92 666.3h0M1666.61 513.68h0M1595.2 635.8h0M1483.3 698.96h0M1550.08 524.26h0M1727.4 648.45h0M1677.5 647.82h0M1566.27 477.67h0M1685.82 643.79h0M1647.74 505.52h0M1610.28 449.4h0M1730.26 576.16h0M1633.96 647.66h0M1556 589.42h0M1691.65 682.76h0M1548.74 616.94h0M1542.55 602.04h0M1581.89 493.47h0M1478.63 501.73h0M1754.43 681.74h0M1564.56 673.9h0M1565.66 584.41h0M1647.7 669.09h0M1614.16 649.25h0M1675.93 520.39h0M1481.98 590.11h0M1518.27 564.23h0M1598.25 515.99h0M1757.08 576.08h0M1625.08 507.75h0M1492.32 507.42h0M1744.55 630.6h0M1678.09 655.86h0M1688.54 528.45h0M1586.09 605.38h0M1586.89 616.88h0M1594.79 684.21h0M1546.99 591.04h0M1694.04 741.91h0M1644.28 519.16h0M1732.62 649.67h0M1474.75 575.76h0M1562.04 474.28h0M1605.19 510.63h0M1565.32 519.44h0M1761.23 542.97h0M1641.65 654.54h0M1531.39 609.31h0M1706.06 668.69h0M1560.82 510.54h0M1543.95 504.73h0M1556.62 632.25h0M1809.22 598.31h0M1747.82 554.33h0M1587.94 665.88h0M1661.32 527.2h0M1589.94 622.24h0M1638.15 675.1h0M1747.8 628.43h0M1711.28 639.3h0M1636.48 505.07h0M1538.15 609.72h0M1733.55 566.49h0M1720.45 636.6h0M1645.66 667.9h0M1623.93 698.21h0M1567.18 620.58h0M1732.93 503.43h0M1673.18 485.37h0M1746.9 556.6h0M1552.2 536.7h0M1546.55 580.91h0M1570.32 698.17h0M1577.47 526.01h0M1627.05 664.52h0M1670.12 484.34h0M1710.42 672.44h0M1698.57 644.72h0M1524.21 584.83h0M1608.41 503.19h0M1557.9 539.22h0M1639.75 515.03h0M1547.92 516.04h0M1569.63 607.22h0M1545.65 535.5h0M1537.42 486.02h0M1703.18 537.65h0M1561.91 548.92h0M1626.34 691.57h0M1664.49 538.73h0M1541.55 667.89h0M1685.37 707.4h0M1659.45 473.29h0M1628.41 645.48h0M1617.34 709.85h0M1606.51 498.43h0M1589.3 642.26h0M1663.68 486.22h0M1728.58 594.31h0M1478.53 567.06h0M1559.69 443.85h0M1713.69 637.13h0M1549.88 631.72h0M1715.99 714.11h0M1724.92 656.24h0M1709.74 545.91h0M1570.42 496.5h0M1713.54 585.71h0M1758.58 706.3h0M1587.24 606.96h0M1532.06 585.63h0M1677.58 684.48h0M1545.57 561.01h0M1709.55 639.42h0M1737.96 568.91h0M1477.34 563.8h0M1530.49 566.24h0M1552.79 541.22h0M1689.12 482.29h0M1542.72 548.93h0M1553.73 631.22h0M1689.99 675.79h0M1504.44 458.01h0M1508.26 547.5h0M1581.61 441.81h0M1655.92 717.03h0M1718.94 682.93h0M1617.06 506.1h0M1519.19 535.05h0M1527.78 489.28h0M1498.49 487.89h0M1604.77 506.44h0M1564.13 613.52h0M1576.88 600.17h0M1567.38 627.72h0M1719.02 588.64h0M1675.81 655.15h0M1646.91 490.04h0M1549.82 522.53h0M1568 604.39h0M1707.22 723.15h0M1525.02 418.21h0M1580.85 687.62h0M1618.57 656.19h0M1727.55 703.74h0M1704.45 600.29h0M1798.45 733.26h0M1775.26 686.3h0M1547.66 523.6h0M1572.3 640.17h0M1641.07 661.57h0M1558.03 611.1h0M1608.3 483.11h0M1713.98 637.45h0M1642.81 674.06h0M1561.12 604.17h0M1676.84 655.63h0M1705.25 627.39h0M1534.81 549.12h0M1707.18 619.83h0M1551.58 520.77h0M1529.06 533.69h0M1668.89 661h0M1562.36 632.76h0M1513.1 462.83h0M1688.16 562.42h0M1611.18 712.79h0M1634.4 486.54h0M1693.02 575.21h0M1734.39 634.18h0M1644.98 504.41h0M1557.56 534.91h0M1557.69 603.36h0M1724.49 650.51h0M1576.16 520.13h0M1781.88 613.46h0M1553.47 627.8h0M1634.61 486.02h0M1642.67 494.66h0M1742.69 630.57h0M1660.52 518.53h0M1639.14 437.86h0M1552.72 463.62h0M1718.09 636.9h0M1535.87 520.59h0M1516.46 449.17h0M1553.08 572.99h0M1678.24 534.02h0M1528.68 518.33h0M1605.47 511.23h0M1511.44 598.97h0M1695.39 659.52h0M1601.07 446.05h0M1574.6 457.56h0M1667.41 682.32h0M1549.36 529.18h0M1633.01 465.69h0M1495.84 507.59h0M1723.37 575.94h0M1699.58 681.71h0M1699.04 634.12h0M1490.15 476.21h0M1755.51 660.41h0M1527.27 552.34h0M1522 515.59h0M1668.6 656.16h0M1683.26 560.84h0M1566.53 436.14h0M1674.45 672.13h0M1531.8 571.6h0M1581.8 627.26h0M1564.05 563.72h0M1518.33 585.37h0M1532.51 513.09h0M1742.36 548.37h0M1504.42 502.81h0M1610.48 689.88h0M1476.21 507.42h0M1528.06 529.71h0M1691.5 656.76h0M1481.33 454.84h0M1580.55 460.33h0M1504.64 446.58h0M1545.69 671.83h0M1702.52 560.16h0M1605.71 668.27h0M1701.35 565.47h0M1686.42 529.92h0M1511.23 473.67h0M1618.78 695.24h0M1716.34 609.75h0M1759.89 649.97h0M1673.77 445.82h0M1594.15 667.81h0M1566.59 533.05h0M1683.05 642.93h0M1722.23 617.78h0M1709.71 671.6h0M1747.19 617.18h0M1620.35 658.51h0M1717.36 659.4h0M1691.84 509.92h0M1603.94 653.73h0M1624.6 477.13h0M1706.08 606.87h0M1695.67 680.11h0M1597.26 643.29h0M1582.41 505.68h0M1606.66 499.08h0" stroke="#000" stroke-opacity="0.125" stroke-width="4.1" stroke-linecap="round" fill="none" filter="url(#bl)"/>
<path d="M1682.7 638.24h0M1627.06 465.68h0M1712.47 708.86h0M1549.38 564.9h0M1597.8 671.69h0M1775.69 605.31h0M1633.15 669.35h0M1711.71 624.7h0M1525.19 537h0M1696.01 536.07h0M1544 563.47h0M1586.58 668.35h0M1603.62 505.77h0M1712.55 593.66h0M1626.93 478.49h0M1696.8 516.39h0M1770.07 650.75h0M1757.77 527.35h0M1567.08 615.75h0M1685.68 659.53h0M1589.59 622.04h0M1701.47 714.71h0M1623.09 663.9h0M1538.91 592.02h0M1715.06 597.91h0M1706.63 587.72h0M1569.73 528.19h0M1684.05 669.84h0M1546.33 427.55h0M1680.49 552.49h0M1643.85 710.35h0M1728.66 568.28h0M1714.37 599.16h0M1525.61 510.83h0M1732.94 665.27h0M1551.01 477.59h0M1541.58 582.08h0M1605.64 648.69h0M1571.54 527.56h0M1678.13 727.48h0M1559.59 580.11h0M1680.25 547.48h0M1619.49 429.31h0M1506.41 502.56h0M1735.02 624.7h0M1537.53 558.89h0M1572.91 604.44h0M1601.69 657.23h0M1632.36 659.66h0M1697.01 571.02h0M1565.04 604.57h0M1572.07 507.55h0M1741.27 684.88h0M1603.86 727.33h0M1800.87 694.83h0M1714.31 686.66h0M1600.29 514.38h0M1537.28 579.82h0M1566.54 680.63h0M1530.48 528.32h0M1565.04 583.26h0M1529.3 571.15h0M1703.77 503.19h0M1710.52 718.56h0M1650.57 508.45h0M1542.71 553.75h0M1601.1 629.42h0M1717.28 639.14h0M1613.2 646.42h0M1703.18 553.62h0M1623.6 663.27h0M1605.73 446.77h0M1714.49 620.12h0M1531.29 572.39h0M1532.47 490.03h0M1632.3 513.24h0M1700.41 677.45h0M1565.23 515.08h0M1701.11 711.96h0M1643.22 680.97h0M1618.97 643.3h0M1584.58 494.57h0M1679.05 646.6h0M1750.81 534.73h0M1553.33 487.42h0M1648.78 652.03h0M1666.21 523.52h0M1690 549.75h0M1555.51 529.55h0M1651.94 431.48h0M1504.76 518.01h0M1536.46 554.07h0M1578.18 497.5h0M1711.26 657.3h0M1618 641.12h0M1668.78 666.07h0M1609.18 648.93h0M1552.43 614.6h0M1661.92 689.03h0M1580.4 498.53h0M1653.25 507.29h0M1712.48 568.24h0M1669 480.41h0M1530.76 670.6h0M1713.18 565.85h0M1564.19 617.55h0M1638.92 509.79h0M1708.46 524.24h0M1636.42 647.42h0M1637.74 684.88h0M1606.97 668.5h0M1659.83 516.7h0M1729.88 605.34h0M1620.71 485.6h0M1620.19 682.65h0M1585.55 629.81h0M1646.64 514.5h0M1665.3 527.93h0M1656.48 503.39h0M1615.61 464.69h0M1592.91 493.88h0M1518.62 603.48h0M1542.52 598.89h0M1652.57 650.29h0M1564.19 564.26h0M1718.34 611.67h0M1519.27 631.64h0M1681.82 512.23h0M1607.22 631.64h0M1569.08 600.93h0M1708.62 598.5h0M1639.17 687.58h0M1566.42 633.93h0M1730.66 639.08h0M1786.86 725.08h0M1739.41 542.85h0M1545.79 495.15h0M1751.26 530.34h0M1618.81 449.88h0M1630.72 502.07h0M1558.69 583.86h0M1601.03 509.55h0M1588.84 504.74h0M1685.12 549.74h0M1553.52 535.1h0M1576.7 469.56h0M1641.26 469.82h0M1591.86 656.6h0M1678.33 685.56h0M1633.1 469.38h0M1673.27 686.49h0M1706.02 654.27h0M1519.22 487h0M1748.21 676.83h0M1717.57 551.62h0M1663.63 504.4h0M1601.79 416.39h0M1693.82 699.02h0M1697.41 571.01h0M1759.96 676.22h0M1556.77 578.56h0M1571.08 437.87h0M1699.13 565.15h0M1601.67 630.04h0M1592.34 450.52h0M1575.79 609.16h0M1619.32 468.54h0M1693.92 648.98h0M1612.98 502.93h0M1695.18 633.19h0M1647.04 652.39h0M1735.42 621.34h0M1766.16 698.18h0M1722.62 596.76h0M1570.25 477.3h0M1690.91 636.97h0M1541.5 613.66h0M1484.74 525.25h0M1736.56 667.06h0M1675.76 547.2h0M1691.39 532.06h0M1676.74 530.96h0M1671.15 647.85h0M1698.25 475.46h0M1620.49 651.8h0M1656.67 704.32h0M1605.62 475.07h0M1542.96 518.54h0M1710.11 656.63h0M1737.54 648.7h0M1778.11 642.93h0M1483.24 591.59h0M1593.58 669.94h0M1709.55 641.53h0M1582.83 497.75h0M1713.36 561.32h0M1729.17 620.86h0M1755.45 632.6h0M1757.48 618.07h0M1545.83 551.72h0M1706.64 622.07h0M1650.56 520.82h0M1578.98 607.29h0M1714.11 597.19h0M1680.19 655.73h0M1739.71 568.98h0M1570.35 530.79h0M1658.46 488.54h0M1772.1 617.91h0M1702.22 687.39h0M1563.96 579.97h0M1739.19 619.05h0M1651.49 684.38h0M1687.91 663.31h0M1641 696.02h0M1591.82 638.41h0M1637.56 492.93h0M1663.35 653.34h0M1590.13 662.57h0M1566.28 474.11h0M1703.75 626.68h0M1539.38 483.75h0M1556.99 618.86h0M1692.26 520.99h0M1577.9 656.08h0M1714.17 666.61h0M1661.51 513.76h0M1652.97 520.7h0M1614.19 496.88h0M1588.49 674.66h0M1719.79 576.54h0M1639.53 489.78h0M1616.69 711.04h0M1655.62 514.6h0M1692.15 664.02h0M1682.68 559.26h0M1598.8 471.44h0M1541.62 591.67h0M1579.83 630.15h0M1604.63 649.48h0M1734.12 636.46h0M1736.38 669.19h0M1531.87 641.43h0M1538.35 527.28h0M1653.67 683.84h0M1744.23 654.44h0M1541.87 455.58h0M1504.34 574.44h0M1573.78 513h0M1740.33 647.26h0M1539.62 522.83h0M1701.69 662.03h0M1583.07 456.71h0M1567.31 582.06h0M1613.62 636.77h0M1539.77 549.22h0M1650.52 669.2h0M1725.41 513.18h0M1781.92 576.68h0M1594.22 478.76h0M1594.05 642.65h0M1560.59 563.63h0M1584.51 643.58h0M1724.93 606.83h0M1766.08 566.12h0M1734.51 640.64h0M1526.45 435.12h0M1584.95 498.97h0M1512.8 535.31h0M1565.33 582.68h0M1670.75 542.52h0M1555.31 478.95h0M1611.63 509.36h0M1525.9 593.89h0M1580.05 611.3h0M1564.54 458.95h0M1535.78 627.3h0M1558.03 585.32h0M1778.41 697.47h0M1538.07 541.22h0M1703.92 651.19h0M1527.6 464.84h0M1583.8 620.71h0M1544.95 496.91h0M1721.14 655.69h0M1710.9 599.64h0M1686.63 658.68h0M1638.9 498.94h0M1740.88 521.42h0M1745.37 544.54h0M1564.7 641.48h0M1698.28 699.27h0M1544.32 450.96h0M1708.3 627.73h0M1693.13 575.91h0M1573.9 481.2h0M1695.76 656.93h0M1685.78 667.67h0M1596.95 626.03h0M1617.64 466.66h0M1638.96 696.15h0M1712.87 658.35h0M1598.57 676.97h0M1688.08 656.91h0M1587.94 457.08h0M1752.9 582.85h0M1689.9 647.15h0M1625.99 512.74h0M1736.82 562.56h0M1541.98 521.85h0M1562.06 624.83h0M1616.56 669.52h0M1651.46 672.79h0M1568.03 481.36h0M1607.51 686h0M1614.01 484.41h0M1750.02 687.01h0M1646.53 489.71h0M1541.14 470.33h0M1585.14 498.29h0M1546.91 590.99h0M1530.28 480.03h0M1720.63 614.52h0M1720.42 622.15h0M1717.62 604.1h0M1706.51 653.33h0M1567.8 616.91h0M1690.67 684.27h0M1567.59 498.3h0M1624.44 655.69h0M1561.38 543.62h0M1501.71 521.68h0M1497.78 584.27h0M1601.69 642.44h0M1689.01 558.98h0M1525.97 485.79h0M1722.59 669.31h0M1561.35 550.51h0M1543.03 558.03h0M1675.28 678.19h0M1611.64 702.74h0M1750.24 487.95h0M1713.82 662.78h0M1660.33 513.04h0M1603.8 645.44h0M1694.94 580.48h0M1661.14 651.88h0M1661.36 508.86h0M1585 503.42h0M1527.07 561.48h0M1599.29 678.54h0M1477.69 431.5h0M1609.03 484.85h0M1517.43 524.62h0M1547.53 602.82h0M1658.48 667.25h0M1623.78 501.76h0M1688.8 629.75h0M1671.04 540.18h0M1578.2 616.57h0M1676.2 645.34h0M1524.35 579.42h0M1629.91 681.81h0M1575.21 637.6h0M1579.48 617.77h0M1589.35 651.07h0M1565.68 491.88h0M1668.81 679.66h0M1647.33 498.57h0M1517.47 503.14h0M1720.29 643.12h0M1515.39 570.66h0M1554.21 521.63h0M1539.21 561.7h0M1560.75 593.38h0M1624.56 472.66h0M1601.09 666.92h0M1555.81 533.35h0M1652.47 462.38h0M1586.58 611h0M1594.48 517.76h0M1671.5 698.8h0M1699.2 625h0M1713.78 590.04h0" stroke="#000" stroke-opacity="0.125" stroke-width="4.1" stroke-linecap="round" fill="none" filter="url(#bl)"/>
<path d="M1713.09 745.27h0M1740.42 593.95h0M1684.78 554.52h0M1599.67 637.73h0M1681.21 643.27h0M1582.98 609.2h0M1651.31 685.62h0M1638.58 717.42h0M1532.32 647.85h0M1726.31 635.49h0M1700.74 536.18h0M1535.58 531.75h0M1556.62 565.36h0M1668.72 537.2h0M1570.81 626.06h0M1699.69 642.37h0M1732.81 602.44h0M1550.02 579.79h0M1646.8 723.83h0M1673.8 507.49h0M1660.51 709.15h0M1602.62 460.42h0M1717.03 688.06h0M1712.81 694.65h0M1489.22 561.3h0M1697.3 529.65h0M1544.49 619.24h0M1567.3 473.2h0M1665.67 676.5h0M1735.42 620.12h0M1560.44 429.62h0M1640.69 500.69h0M1665.66 535.97h0M1701.74 573.59h0M1743.47 687.02h0M1617.55 496.66h0M1714.55 636.04h0M1547.93 626.4h0M1784.24 570.27h0M1705.94 649.19h0M1516.18 516.65h0M1591.25 641.47h0M1757.79 532.06h0M1561.62 573.85h0M1538.05 554.12h0M1689.09 544.87h0M1689.08 555.15h0M1585.09 665.75h0M1624.66 643.15h0M1596.7 515.16h0M1709.56 526.8h0M1606.99 683.73h0M1565.2 597.53h0M1689.74 634.42h0M1759.31 609.46h0M1554.1 531.27h0M1684.77 565.98h0M1727.35 493.12h0M1607.96 474.9h0M1635.3 513.59h0M1518.18 446.34h0M1511.8 561.74h0M1649.73 465.97h0M1579.98 620.95h0M1769.95 610.41h0M1545.64 507.98h0M1567.3 633.01h0M1688.34 513.68h0M1621.68 672.26h0M1536.17 510.79h0M1647.99 689.1h0M1699.6 524.01h0M1697.09 628.47h0M1651.82 659.68h0M1724.24 607.91h0M1637.7 513.71h0M1695.28 565.38h0M1635.61 508.95h0M1670.42 683.88h0M1575.9 459.64h0M1596.82 502.2h0M1601.37 640.22h0M1530.14 523.04h0M1596.44 488.49h0M1598.87 651.59h0M1577.99 496.34h0M1679.54 556.57h0M1524.78 485.49h0M1670.3 677.15h0M1565.12 483.14h0M1697.36 553.94h0M1637.17 665.62h0M1600.87 674.18h0M1623.42 649.83h0M1654.91 484.12h0M1616.18 474.19h0M1720.45 625.54h0M1715.76 566.6h0M1507.54 595.32h0M1695.52 530.77h0M1574.05 638.42h0M1615.79 704.11h0M1594.48 641.05h0M1596.02 490.34h0M1542.86 580.53h0M1501.56 473.67h0M1716.06 660.99h0M1741.04 648.34h0M1552.19 531.35h0M1709.93 648.82h0M1570.94 475.28h0M1543.96 664.28h0M1538.28 601.08h0M1639.65 482.41h0M1647.84 470.36h0M1697.58 539.82h0M1585.48 675.29h0M1536.42 504.33h0M1684.62 504.38h0M1577.39 612.05h0M1638.11 491.04h0M1579.64 633.18h0M1599.41 637.8h0M1663.43 737.29h0M1606.97 687.95h0M1503.26 558.05h0M1537.81 545.02h0M1587.7 506.51h0M1557.59 570.24h0M1479.19 442.36h0M1729.18 638.41h0M1573.77 616.31h0M1630.27 456.71h0M1566.2 627.62h0M1633.87 662.8h0M1567.14 467.56h0M1710.5 578.17h0M1565.43 606.78h0M1510.13 549.73h0M1670.6 521.79h0M1583.51 660.52h0M1565.15 621.07h0M1598.24 640.96h0M1629.44 686.43h0M1691.7 669.54h0M1621.64 684.43h0M1571.23 437.25h0M1524.34 523.98h0M1592.77 667.38h0M1717.72 562.85h0M1678.97 683.98h0M1544.76 710.29h0M1694.06 640.67h0M1743.49 548.19h0M1704.76 557h0M1513.95 466.89h0M1575.68 467.24h0M1658.93 525.02h0M1721.16 608.55h0M1677.95 712.87h0M1687.12 648.43h0M1687.08 690.97h0M1665.85 737.89h0M1566.76 520.83h0M1543.63 521.68h0M1521.04 616.52h0M1531.29 595.53h0M1701.39 551.56h0M1601.96 640.14h0M1569.76 643.01h0M1600.23 437.87h0M1651.41 419.43h0M1599.99 621h0M1613.32 478.8h0M1709.27 541.85h0M1541.45 623.85h0M1520.05 525.09h0M1702.39 576.45h0M1729.82 631.87h0M1514.14 522.15h0M1534.94 584.91h0M1685.95 564.88h0M1788.16 613.36h0M1551.98 568.38h0M1599.57 495.18h0M1539.78 601.03h0M1604.27 493.42h0M1738.19 658.22h0M1648.24 654.96h0M1562.56 509.45h0M1551.45 586.36h0M1536.31 457.21h0M1590.1 609.47h0M1802.28 677.75h0M1534.94 471.91h0M1570.98 632.37h0M1661.09 710.03h0M1618.4 659.2h0M1686.7 515.63h0M1515.46 554.98h0M1697.41 560.71h0M1708.48 608.52h0M1689.54 669.19h0M1646.83 707.48h0M1743.61 642.8h0M1698.46 687.77h0M1477.57 488.98h0M1521.05 488.91h0M1803.98 731.74h0M1540.32 492.87h0M1711.18 580.15h0M1677.09 482.44h0M1567.72 466.54h0M1669.65 692.93h0M1533.49 520.41h0M1605.27 628.36h0M1542.6 461.78h0M1566.31 587.37h0M1690.29 510.58h0M1587.77 505.91h0M1624.69 467.29h0M1542.73 526.08h0M1559.93 514.4h0M1619.87 641.05h0M1681.41 653.19h0M1659.03 503.23h0M1589.84 505.91h0M1596.22 621.33h0M1763.68 565.1h0M1683.9 566.75h0M1603.2 499.74h0M1576.19 601.02h0M1621.33 506.2h0M1555.97 501.61h0M1702.72 529.26h0M1563.64 563.6h0M1634.37 454.78h0M1726.34 686.29h0M1663.52 534.79h0M1737.66 676.22h0M1572.52 590.26h0M1712.44 691.35h0M1547.82 525.15h0M1672.07 661.06h0M1518.27 575.19h0M1574.62 520.31h0M1543.09 584.22h0M1720.49 587.85h0M1679.94 694.49h0M1549.8 675.32h0M1578.56 512.54h0M1750.95 645.66h0M1679.27 680.11h0M1620.89 655.87h0M1682.71 482.72h0M1590.5 609.95h0M1609.78 652.56h0M1663.27 523.18h0M1583.53 485.83h0M1581.34 448.67h0M1624.82 467.22h0M1616.97 693.4h0M1693.01 578.19h0M1501.51 511.68h0M1559.84 608.92h0M1541.65 559.97h0M1680.66 679.78h0M1532.85 526.39h0M1530.06 552.05h0M1678.47 664.93h0M1746.69 617.45h0M1538.36 608.08h0M1717.55 678.76h0M1782.72 635.68h0M1665.27 690.73h0M1695.66 678.77h0M1598.96 652.54h0M1580.98 679.79h0M1540.01 603.59h0M1589.03 619.33h0M1566.28 593.03h0M1607.65 496.83h0M1667.82 486.37h0M1682.63 711.38h0M1555.71 621.2h0M1651.96 436.52h0M1705.04 657.62h0M1626.63 664.11h0M1687.48 539.49h0M1703.66 688.4h0M1716.28 672.17h0M1640.86 666.15h0M1731.8 575.26h0M1731.88 629.33h0M1742.91 663.81h0M1547.07 540.8h0M1547.2 485.01h0M1657.93 476.6h0M1529.27 673.85h0M1612.54 510.09h0M1700.74 558.21h0M1602.96 649.09h0M1684.06 663.89h0M1541.24 539.49h0M1611.97 508.08h0M1601.11 651.75h0M1597.76 493.71h0M1741.07 638.66h0M1604.13 498.33h0M1759.24 683.82h0M1546.06 563.2h0M1703.57 595.15h0M1619.43 642.65h0M1575.08 618.34h0M1598.37 506.54h0M1567.5 476.62h0M1695 643.33h0M1548.54 485.24h0M1591.57 475.06h0M1760.3 689.03h0M1615.75 681.92h0M1521.72 442.54h0M1661.64 692.51h0M1649.69 724.21h0M1618.7 453.57h0M1568.19 597.71h0M1718.65 656.63h0M1598.55 689.99h0M1601.91 512.48h0M1667.71 539.79h0M1710.24 623.01h0M1571.8 654.47h0M1725.16 646.18h0M1666.48 663.41h0M1620.36 657.01h0M1688.57 654.94h0M1538.9 569.75h0M1538.48 450.2h0M1711.81 639.56h0M1609.72 461.16h0M1591.38 486.63h0M1627.65 653.14h0M1717.01 552.58h0M1673.03 516.83h0M1675.1 660.2h0M1644.32 494.66h0M1665.68 518.07h0M1714.89 672.25h0M1626.57 642.14h0M1608.4 499.21h0M1727.98 570.35h0M1724.56 719h0M1586.61 612h0M1572.21 506.61h0M1649.28 652.21h0M1659.44 513.03h0M1706.47 629.87h0M1726.34 596.88h0M1675.84 549.13h0M1669.41 656.26h0M1620.95 713.93h0M1548.29 511.14h0M1628.93 517.52h0M1756.28 618.05h0M1598.89 629.82h0M1694.91 561.19h0M1587.66 522.77h0M1681.18 646h0M1757.58 694.44h0M1685.04 716.4h0M1792.09 628.67h0M1576.51 619.39h0M1694.57 573.53h0M1551.29 496.4h0M1636.4 421.82h0M1697.74 632.62h0M1708.82 481.33h0M1532.57 508.27h0M1518.53 597.57h0M1633.5 654.61h0M1724.89 646.34h0M1510.61 515.33h0M1560.45 609.57h0" stroke="#000" stroke-opacity="0.125" stroke-width="4.1" stroke-linecap="round" fill="none" filter="url(#bl)"/>
<path d="M1593.67 683.3h0M1653.65 455.88h0M1743.53 602.43h0M1656.26 663.05h0M1687.07 563.89h0M1705.4 640.92h0M1596.45 641.07h0M1581.54 477.67h0M1687.16 488.47h0M1747.15 632.77h0M1577.93 602.8h0M1757.82 510.87h0M1664.22 492.62h0M1649.54 671.6h0M1587.4 628.46h0M1557.13 600.18h0M1681.18 734.51h0M1617.87 503.99h0M1629.41 670.25h0M1573.01 529.05h0M1508.43 472.44h0M1615.09 431.73h0M1639.97 682.81h0M1737.74 537.72h0M1668.61 536.67h0M1559.19 602.86h0M1530.55 477h0M1608.18 637.71h0M1671.3 654.12h0M1681.55 538h0M1521.51 508.01h0M1715.12 653.86h0M1575 508.06h0M1557.78 618.32h0M1738.38 668.42h0M1556.6 557.14h0M1751.07 621.87h0M1579.81 666.97h0M1571.34 607.4h0M1658.92 488.21h0M1572.16 642.57h0M1706.28 535.7h0M1731.04 513.17h0M1627.43 732.59h0M1518.74 478.85h0M1716.1 593.47h0M1556.83 529.83h0M1581.37 525.14h0M1654.87 521.34h0M1608.28 637.83h0M1524.6 631.56h0M1706.37 652.18h0M1641.43 670.82h0M1550.47 644.84h0M1640.68 656.17h0M1563.15 525.35h0M1689.04 535.89h0M1574.12 522.71h0M1522.01 499.52h0M1724.34 583.72h0M1566.15 509.12h0M1528.59 599.7h0M1592.84 659.51h0M1694.02 640.58h0M1673.24 454.43h0M1589.23 492.66h0M1598.96 515.72h0M1494.91 445.26h0M1739.64 663.32h0M1710.58 640.56h0M1592.41 646.5h0M1695.36 631.9h0M1597.51 634.5h0M1706.26 571.3h0M1562.84 475.45h0M1545.55 558.3h0M1598.27 617.98h0M1534.37 444.89h0M1573.15 606.89h0M1756.98 708.69h0M1719.37 576.54h0M1532.53 600.03h0M1764.84 635.27h0M1555.72 521.04h0M1705.7 661.15h0M1525.01 522.98h0M1599.1 507.95h0M1700.83 623.23h0M1618.82 676.84h0M1653.82 523.31h0M1789.99 664.22h0M1531.79 597.26h0M1654.16 656.78h0M1623.12 501.93h0M1594.08 682.81h0M1645.48 737.69h0M1710.66 632.06h0M1651.45 506.89h0M1690.48 489.34h0M1526.65 519.64h0M1578.06 662.63h0M1543.47 510.48h0M1521.92 629.54h0M1655.28 705.1h0M1536.44 550h0M1621.19 690.58h0M1705.68 708.7h0M1695.23 633.62h0M1669.45 482.83h0M1706.07 590.81h0M1580.52 625.01h0M1673.99 460.27h0M1631.41 710.27h0M1698.58 673.38h0M1649.58 496.18h0M1711.54 595.58h0M1617.66 494.35h0M1504.77 601.41h0M1698.08 582.06h0M1689.16 644.94h0M1610.52 636.41h0M1553.01 689.33h0M1553.23 610.44h0M1537.84 593.92h0M1571.2 609.82h0M1702.49 557.38h0M1740.96 587.02h0M1629.71 642.82h0M1498.92 495.79h0M1601.23 504.65h0M1595.56 507.74h0M1690.82 548.84h0M1705.07 636.17h0M1574.49 481.9h0M1728.72 611.55h0M1726.52 724.08h0M1683.83 541.3h0M1602.81 675.82h0M1563.8 529.35h0M1716.48 648.02h0M1540.68 621.14h0M1687.39 729.38h0M1560.24 464.2h0M1573.39 497.88h0M1587.73 474.57h0M1569 591.57h0M1579.01 473.13h0M1724.53 535.29h0M1636.99 656.76h0M1713.83 686.99h0M1597.59 633.22h0M1573.96 663.16h0M1725.27 649.34h0M1572.4 643.75h0M1570.6 623.77h0M1665.44 669.46h0M1512.16 467.89h0M1600.97 658.07h0M1612.92 491.76h0M1672.86 668.03h0M1690.72 507.09h0M1601.99 691.71h0M1591.18 516.15h0M1557.83 483.42h0M1568.62 579.81h0M1564.45 492.65h0M1624.96 502.58h0M1654.92 696.21h0M1707.8 530.06h0M1717.15 570.09h0M1569.62 529.36h0M1688.87 649.47h0M1757.51 574.92h0M1679.12 660.01h0M1525.68 558.25h0M1694.48 685.21h0M1689.3 727.45h0M1658.42 655.59h0M1782.93 690.76h0M1564.23 601.74h0M1692.11 682.46h0M1614.67 650.99h0M1648.81 490.19h0M1567.37 582.57h0M1498.61 507.51h0M1586.64 621.76h0M1599.89 501.68h0M1743.25 567.53h0M1557.97 546.41h0M1732.36 535.91h0M1550.98 495.36h0M1562.37 567.12h0M1620.13 643.07h0M1591.08 518.68h0M1692.74 678.52h0M1710.77 630.41h0M1704.69 584.75h0M1565.22 527.58h0M1682.79 529.04h0M1584.27 615.14h0M1732.62 573.48h0M1517.59 487.87h0M1539.57 491.83h0M1592.99 475.58h0M1614.1 682.99h0M1639.95 413.05h0M1625.96 648.68h0M1659.48 693.78h0M1562.68 501.85h0M1520.9 467.07h0M1650.04 668.12h0M1754.99 679.67h0M1513.25 450.25h0M1644.05 661.16h0M1561.56 435.46h0M1649.4 698.58h0M1572.41 671.62h0M1685.48 504.06h0M1534.17 623.45h0M1582.37 498.06h0M1738.51 723.36h0M1572.4 517.78h0M1514.18 548.68h0M1660.5 740.68h0M1597.33 481.09h0M1698.83 542.91h0M1772.27 707.09h0M1693.05 694.02h0M1561.23 587.66h0M1622.23 647.58h0M1561.16 616.17h0M1662.27 516.49h0M1691.95 540.01h0M1587.42 609.06h0M1630.65 507.7h0M1675.03 722.86h0M1688.06 560.77h0M1664.85 686.12h0M1499.11 566.2h0M1702.45 670.71h0M1537.31 592.69h0M1640.77 668.05h0M1768.57 664.58h0M1740.61 729.89h0M1512.36 497.07h0M1621.07 649.09h0M1536.32 553.68h0M1571.17 621.92h0M1560.83 523.62h0M1654.38 513.14h0M1711.53 645.26h0M1755.75 579.38h0M1567.11 422.45h0M1580.44 602.95h0M1627.64 678.29h0M1520.35 639.97h0M1668.85 673.59h0M1588.37 506.81h0M1577.14 607.61h0M1596.28 512.91h0M1570.77 628.24h0M1752.51 629.24h0M1495.58 427.6h0M1561.52 626.71h0M1502.48 631.11h0M1578.53 505.12h0M1622.08 643.7h0M1535.58 599.02h0M1592.48 675.3h0M1642.8 653.91h0M1587.62 519.06h0M1602.77 462.9h0M1724.24 651.32h0M1525.97 626.02h0M1593.35 676.31h0M1546.34 509.02h0M1537.27 610.8h0M1557.1 610.5h0M1678.15 515.16h0M1769.68 604.83h0M1611.87 639.76h0M1573.31 523.28h0M1767.86 637.48h0M1570.49 495.83h0M1567.7 519.16h0M1571.2 501.86h0M1664.63 526.76h0M1739.36 638.12h0M1698.13 663.65h0M1697.65 627.12h0M1569.4 608.77h0M1741.35 655.47h0M1536.37 574.9h0M1568.78 511.71h0M1563.91 574.2h0M1684.64 680.34h0M1602.11 474.93h0M1552.9 604.25h0M1654.47 694.21h0M1711.87 481.35h0M1625.72 653.61h0M1739.91 647.82h0M1587.49 680.87h0M1768.12 674.62h0M1688.31 636.15h0M1637.86 647.32h0M1749.48 642.54h0M1572.59 486.02h0M1552.14 608.35h0M1555.6 481.81h0M1698.13 622.8h0M1543.17 545.69h0M1713.22 568.03h0M1702.25 533.61h0M1567.44 433.15h0M1766.93 577.98h0M1710.56 633.21h0M1628.8 644.69h0M1497.98 521.01h0M1744.48 652.06h0M1481.28 562.13h0M1618.69 502.28h0M1633.97 494.5h0M1665.38 677.95h0M1515.13 479.99h0M1555.88 442.44h0M1555.59 609.83h0M1556.2 595.71h0M1572.33 501.84h0M1547.78 472.63h0M1574.41 638.91h0M1690.75 693.69h0M1670.64 519.87h0M1688.3 510.49h0M1510.29 610.55h0M1593.58 491.91h0M1567.48 447.89h0M1709.76 579.78h0M1614.29 490.13h0M1794.82 701.92h0M1534.46 613.38h0M1591.57 612.36h0M1550.62 441.76h0M1561.15 487.41h0M1583.59 474.77h0M1706.72 596.7h0M1561.04 549.94h0M1721.3 645.54h0M1499.5 507.96h0M1701.68 651.23h0M1695.8 673.03h0M1732.56 576.37h0M1720.3 704.73h0M1747.36 684.64h0M1618.31 450.26h0M1546.74 555.86h0M1605.24 703.88h0M1775.07 600.4h0M1557.63 553.56h0M1710.56 617.53h0M1651.88 684.91h0M1674.23 525.62h0M1795.26 737.35h0M1726.37 655.02h0M1577.15 441.02h0M1687.51 724.68h0M1715.95 580.11h0M1678.95 654.85h0M1652.32 461.35h0M1614.44 639.45h0M1637.23 668.85h0M1583.02 499.92h0M1634.02 691.12h0M1767.09 600.97h0M1743.93 619.07h0M1753.2 596.44h0M1657.86 672.32h0M1760.81 575.31h0M1570.32 616.72h0M1631.92 510.24h0M1762.74 600.59h0M1561.17 583.67h0M1669.11 656.27h0" stroke="#000" stroke-opacity="0.125" stroke-width="4.1" stroke-linecap="round" fill="none" filter="url(#bl)"/>
<path d="M1695.21 680.77h0M1661.29 523.56h0M1631.98 681.6h0M1702.79 685.87h0M1637.83 501.34h0M1542.57 540.24h0M1539.01 606.49h0M1567.52 531.63h0M1553.2 513.19h0M1691.2 531.77h0M1585.54 668.64h0M1623.24 677.25h0M1643.29 470.67h0M1729.67 661.22h0M1515.73 428.56h0M1476.2 670.01h0M1543.28 526.12h0M1706.28 494.6h0M1605.81 701.35h0M1767.83 515.57h0M1545.86 507.84h0M1582.28 653.97h0M1713.23 646.9h0M1557.67 675.6h0M1691.4 655.67h0M1684.75 695.48h0M1622.17 680.4h0M1613.15 733.49h0M1720.58 658h0M1650.27 663.28h0M1560.03 547.54h0M1760.02 707.55h0M1545.23 511.79h0M1611.21 684.7h0M1564.97 476.15h0M1661.97 525.67h0M1586.86 619.34h0M1709.09 714.45h0M1595.16 628.37h0M1700.49 696.73h0M1588.85 503.05h0M1708.44 663.49h0M1518.4 427.07h0M1593.78 518.39h0M1740.67 663.36h0M1719.47 568.12h0M1634.04 458.79h0M1693.35 684.46h0M1746.06 660.98h0M1570.05 603.72h0M1694.57 634.11h0M1609.01 634.47h0M1588.18 479.02h0M1704.04 653.72h0M1520.61 654.15h0M1556.91 572.47h0M1575.83 481.8h0M1583.94 463.51h0M1556.55 546.18h0M1495.54 493.57h0M1716.9 603.21h0M1604.3 630.75h0M1585.34 510.82h0M1671.06 421.34h0M1570.31 617.52h0M1731.9 567.95h0M1700.38 664.93h0M1635.64 514.33h0M1678.83 702.56h0M1743.6 651.98h0M1603.48 633.87h0M1696 685.51h0M1673.77 654.6h0M1696.29 651.8h0M1543.17 532.49h0M1610.38 635.57h0M1653.74 649.45h0M1584.7 500.63h0M1682.1 653.4h0M1692.13 647.5h0M1620.13 646.6h0M1762.6 689.49h0M1711.18 657.58h0M1600.14 508.29h0M1705.33 679.65h0M1687.7 634.08h0M1543.92 576.5h0M1610.55 689.18h0M1512.41 694.1h0M1648.94 735.61h0M1565.29 518.85h0M1655.19 717.46h0M1709.37 528.33h0M1708.52 566.41h0M1561.53 564.73h0M1591.47 518.67h0M1603.39 651.18h0M1709.38 521.56h0M1688.12 548.86h0M1523.38 568.8h0M1586.32 459.13h0M1608.13 510.71h0M1562.98 704.74h0M1722.17 590.01h0M1630.16 699.12h0M1632.16 647.23h0M1644.49 657.47h0M1696.21 562.46h0M1655.17 506.96h0M1555.85 552.72h0M1602.02 668.02h0M1718.31 684.09h0M1716.76 686.95h0M1617.71 648.79h0M1617.62 653.21h0M1717.78 638.74h0M1764.78 551.6h0M1631.52 500.42h0M1531.03 497.88h0M1640.41 676.47h0M1618.36 651.33h0M1548.24 516.95h0M1527.64 583.15h0M1562.71 606.02h0M1610.59 496.89h0M1654.65 672.02h0M1731.7 703.19h0M1574.12 601.41h0M1490.51 640.52h0M1560.37 517.34h0M1683.89 668.22h0M1634.24 674.18h0M1698.62 544.65h0M1764.38 715.4h0M1544.73 612.88h0M1546.05 565.96h0M1653.95 674.63h0M1563.03 736.81h0M1661.97 710.58h0M1511.65 562.24h0M1703.55 617h0M1566.09 599.71h0M1564.73 440.51h0M1736.98 643.7h0M1525.6 544.69h0M1743.31 609.63h0M1681 674.23h0M1503.22 566.17h0M1604.98 470.22h0M1549.97 518.51h0M1620.1 481.48h0M1556.57 591.16h0M1542.51 569h0M1522.07 638.97h0M1548.35 554.04h0M1654.07 657.22h0M1554.87 575.35h0M1559.21 638.87h0M1563.13 491.06h0M1693.95 709.77h0M1582.33 490.95h0M1620.79 640.82h0M1571.4 441.4h0M1789.04 733.14h0M1677.88 692.12h0M1718.55 530.52h0M1551.52 539.71h0M1618.56 677.34h0M1620.99 684.33h0M1564.06 585.62h0M1763.87 644.25h0M1727.82 671.21h0M1533.72 636.62h0M1699.68 623.17h0M1609.07 433.72h0M1600.97 620.69h0M1549.87 513.16h0M1743.09 637.92h0M1659.85 653.81h0M1560.09 495.15h0M1697.35 664.06h0M1563.57 427.29h0M1689.66 523.67h0M1659.62 503.49h0M1515.3 551.51h0M1550.61 506.57h0M1542.19 424.21h0M1575.59 673.74h0M1547.31 523.07h0M1577.66 526.92h0M1701.8 577.92h0M1697.15 567.99h0M1660.8 524.47h0M1722.17 468.75h0M1671.24 672.89h0M1564.31 581.69h0M1546.12 477.76h0M1564.27 583.24h0M1564.96 542.19h0M1689.5 686.93h0M1602.97 714.52h0M1666.94 529.13h0M1589.38 623.27h0M1708.22 520.95h0M1571.92 674.65h0M1702.57 594.41h0M1553.14 569.21h0M1638.08 503.95h0M1674.89 501.23h0M1627.42 649.04h0M1798.11 636.06h0M1475.23 554.4h0M1616.59 468.2h0M1632.05 685.26h0M1590.79 492.62h0M1543.11 482.39h0M1558.94 476.54h0M1804.43 665.43h0M1648.5 516.74h0M1672.11 646.6h0M1642.59 676.18h0M1735.2 708.37h0M1633.97 516.67h0M1636.59 668.46h0M1560.21 585.5h0M1577.53 489.94h0M1733.92 617.3h0M1729.44 524.56h0M1644.69 660.74h0M1672.91 677.46h0M1556.27 507.61h0M1622.33 500.99h0M1750.79 689.63h0M1621.27 685.31h0M1518.87 689.01h0M1570.17 443.63h0M1553.22 601.16h0M1774.21 699.08h0M1704.49 627.75h0M1506.23 484.91h0M1528.15 554.56h0M1659.45 661.76h0M1578.23 485.45h0M1560.74 571.93h0M1540.07 680h0M1589.29 519.08h0M1520.5 585.49h0M1565.1 443.43h0M1685.66 648.73h0M1799.26 615.62h0M1541.42 635.62h0M1649.93 687.34h0M1529.74 576.53h0M1717.83 632.81h0M1696.94 670.99h0M1721.67 619.44h0M1523.92 610.06h0M1681.23 675.47h0M1690.88 574.91h0M1596.52 679.88h0M1693.79 494.69h0M1709.39 576.43h0M1562.24 451.31h0M1644.38 496.78h0M1564.62 509.62h0M1701.9 631h0M1576.29 512.79h0M1655.14 651.2h0M1562.41 680.79h0M1579.14 610.64h0M1670.11 695.73h0M1668.21 680.46h0M1571.07 517.87h0M1525.51 575.98h0M1498.57 632.11h0M1562.66 535.19h0M1688.01 484.79h0M1706.26 658.86h0M1516.39 579.96h0M1548.43 491.52h0M1620.98 512.01h0M1700.47 694.66h0M1707.61 659.87h0M1683.1 556.77h0M1697.29 625.39h0M1595.5 643.55h0M1665.91 480.7h0M1564.94 534.96h0M1531.19 499.88h0M1678.89 647.66h0M1704.24 634.58h0M1504.27 644.64h0M1585.15 613.36h0M1776.07 613.9h0M1644.62 700.96h0M1559.37 518.46h0M1675.56 534.74h0M1711.17 592.51h0M1582.68 602.31h0M1531.54 421.84h0M1532.99 454.61h0M1721.98 643.73h0M1593.23 641.65h0M1581 521.94h0M1736.3 560.13h0M1556.8 623.02h0M1682.49 509.64h0M1714.64 526.2h0M1552.79 654.01h0M1687.07 687.59h0M1718.6 581.75h0M1520.25 507.87h0M1635.63 513.1h0M1557.33 552.89h0M1645.52 705.6h0M1568.15 603h0M1595.75 623.65h0M1636.99 682.71h0M1644.58 648.13h0M1571.5 530.4h0M1694.75 516.7h0M1734.76 710.37h0M1532.71 554.52h0M1691.65 575.87h0M1604.38 507.71h0M1589.88 653.88h0M1546.63 462.05h0M1683.03 550.1h0M1676.79 519.28h0M1681.54 486.88h0M1567.43 507.05h0M1492.64 538.84h0M1737.22 605.13h0M1664.31 694.78h0M1681.43 548.34h0M1655.91 669.43h0M1762.21 719.6h0M1504.11 437.57h0M1677.39 671.72h0M1663.99 513.94h0M1602.6 640.17h0M1651.13 498.88h0M1671.72 539.93h0M1612.41 681.67h0M1579.13 622.81h0M1661.38 528.12h0M1691.61 574.46h0M1590.49 616.55h0M1665.21 712.75h0M1713.88 641.35h0M1619.55 499.83h0M1643.34 660.07h0M1674.25 657.75h0M1665.98 531.93h0M1574.19 497.76h0M1726.15 719.76h0M1685.01 661.23h0M1710.69 676.98h0M1548.14 651.55h0M1667.5 666.97h0M1651.5 698.67h0M1600.45 629.01h0M1537.2 442.66h0M1498.59 578.93h0M1718.41 590.24h0M1496.85 535.84h0M1653.54 679.73h0M1581.32 607.8h0M1656.52 674.36h0M1571.45 511.56h0M1577.46 482.37h0M1748.75 731.71h0M1776.22 665.92h0M1581.34 511.54h0M1588.8 649.92h0M1554.71 597.82h0M1618.45 457.82h0M1688.48 667.88h0M1573.06 620.6h0M1679.02 672.98h0M1702.2 616.62h0M1519.84 608.42h0M1610.93 462.17h0" stroke="#000" stroke-opacity="0.125" stroke-width="4.1" stroke-linecap="round" fill="none" filter="url(#bl)"/>
<path d="M1539.7 708.24h0M1698.97 572.66h0M1495.58 582.06h0M1544.66 518.72h0M1489.51 526.62h0M1743.55 633.98h0M1616.14 637.53h0M1678.55 541.95h0M1559.41 500.76h0M1713.54 463.08h0M1641.7 519.67h0M1589.63 485.39h0M1535.72 463.89h0M1688.45 549.45h0M1509.67 669.89h0M1725.74 709.19h0M1721.58 720.73h0M1669.54 529.67h0M1721.73 527.76h0M1563.49 498.69h0M1693.01 566.55h0M1588.03 519.36h0M1689.92 541.54h0M1684.18 671.61h0M1519 534.97h0M1639.63 506.8h0M1497.35 555.08h0M1533.02 595.81h0M1624.6 460.1h0M1606.26 673.32h0M1585.69 503.48h0M1705.11 499.53h0M1513.23 559.71h0M1739.6 549h0M1652.64 660.63h0M1521.13 477.42h0M1583.08 491.29h0M1566.43 516.72h0M1716.02 647.82h0M1728.03 631.02h0M1565.86 629.31h0M1696.86 534.76h0M1630.75 674.58h0M1654.41 696.06h0M1633.44 711.07h0M1677.41 707.08h0M1702.35 549.66h0M1715 535.53h0M1741.61 673.16h0M1555.77 626.66h0M1505 544.96h0M1676.91 684.83h0M1664.52 482.59h0M1564.54 433.59h0M1730.7 632.16h0M1711.44 570.96h0M1552.46 569.36h0M1760.33 666.76h0M1778.46 621.94h0M1650.07 698.71h0M1504.81 522.56h0M1624.74 654.5h0M1566.84 669.67h0M1638.76 683.41h0M1638.14 520.37h0M1547.9 556.66h0M1666.73 495.04h0M1577.14 523.9h0M1634.21 676.04h0M1667.39 710.56h0M1785.12 646.99h0M1739.46 607.72h0M1598.46 426.85h0M1714.54 673.92h0M1516.77 540.95h0M1610.24 485.08h0M1701.86 541.89h0M1482.24 449.56h0M1700.53 651.2h0M1699.46 558.27h0M1519.48 586.55h0M1586.76 683.93h0M1610.68 639.63h0M1754.62 673.17h0M1615.35 646.81h0M1701.94 691.36h0M1557.05 565.77h0M1533.89 537.91h0M1553.04 521.49h0M1671.1 696.83h0M1717.64 565.88h0M1547.66 665.87h0M1582.86 612.82h0M1715.18 631.73h0M1743.57 632.73h0M1551.45 500.71h0M1593.73 631.8h0M1730.24 546.09h0M1598.43 624.71h0M1722 677.19h0M1568.53 479.47h0M1521.66 585.82h0M1695.03 655.22h0M1744.75 491.21h0M1785.45 554.14h0M1700.56 597.18h0M1630.21 510.84h0M1700.56 585.21h0M1608.28 467.36h0M1707.98 577.18h0M1563.54 495.65h0M1668.9 678.04h0M1574.95 702.08h0M1589.82 434.44h0M1652.47 709.5h0M1607.84 497.34h0M1561.79 479.83h0M1574.87 456.94h0M1700.62 689.31h0M1621.91 493.9h0M1505.26 541.94h0M1588.69 610.07h0M1620.7 504.66h0M1641.31 520.36h0M1737.61 542.18h0M1699.53 579.8h0M1613.61 500.17h0M1682.98 552.21h0M1612.57 671.94h0M1592.65 634.49h0M1663.22 706.58h0M1567.41 494.99h0M1617.82 490.05h0M1649.34 438.63h0M1568.59 621.58h0M1492.55 610.1h0M1586.75 437.62h0M1584.95 505.31h0M1709.23 607.26h0M1660.49 514.88h0M1688.07 563.9h0M1711.93 611.59h0M1490.82 492.7h0M1575.53 711.09h0M1591.2 636.34h0M1682.29 675.54h0M1582.87 481.93h0M1700.12 603.42h0M1541.07 554.92h0M1576.26 621.8h0M1685.51 672.93h0M1641.03 463.49h0M1638.61 668.75h0M1673.91 655.33h0M1716.65 702.14h0M1679.98 672.88h0M1656.56 653.46h0M1563.14 528.21h0M1533.9 492.77h0M1590.07 510.12h0M1578.29 519.46h0M1714.79 615.38h0M1698.17 541.62h0M1553.17 557.75h0M1712.18 497.42h0M1668.4 657.59h0M1533.5 571.61h0M1529.8 554.07h0M1478.65 463.46h0M1541.78 509.51h0M1554.86 481.18h0M1744.48 636.85h0M1580.49 501.68h0M1772.06 492.38h0M1581.19 639.27h0M1707.4 589.1h0M1544.29 538.84h0M1540.51 589.8h0M1726.86 623.34h0M1722.81 656.67h0M1525.11 583.23h0M1561.92 585.77h0M1631.58 516.79h0M1729.82 617.13h0M1503.88 714.88h0M1747.56 599.11h0M1584.67 472.53h0M1697.16 580.11h0M1550.31 650.04h0M1571.91 513.86h0M1598.15 651.23h0M1727.69 646.29h0M1585.64 499.93h0M1529.8 485.35h0M1573.36 506.38h0M1630.38 655.78h0M1578.37 517.18h0M1561.57 459.43h0M1583.72 510.99h0M1656.47 650.82h0M1704.38 581.02h0M1685.8 674.84h0M1731.2 624.39h0M1549.74 553.24h0M1581.49 712.77h0M1631.27 648.83h0M1704.62 631.96h0M1538.76 593.31h0M1573.52 501.37h0M1673.43 510.92h0M1691.51 673.65h0M1510.51 459.65h0M1557.38 591.11h0M1559.74 643.22h0M1721.78 613.57h0M1714.42 624.88h0M1643.43 492.25h0M1612.48 648.28h0M1641.27 490.15h0M1502.27 601.74h0M1651.54 661.01h0M1614.77 667.29h0M1680.99 733.86h0M1572.8 502.16h0M1729.68 624.04h0M1589.45 503.34h0M1568 590.05h0M1554.29 550.56h0M1599.68 623.62h0M1694.16 626.37h0M1535.76 591h0M1616.46 490.87h0M1540.27 477.72h0M1701.07 615.15h0M1679.1 734.33h0M1594.15 518.57h0M1524.65 601.02h0M1655.13 441.27h0M1556.39 508.97h0M1661.6 659.75h0M1767.82 597.42h0M1651.29 712.99h0M1566.17 485.79h0M1692.18 567.43h0M1603.61 509.03h0M1626.75 482.59h0M1525.96 586.7h0M1778.27 544.07h0M1674.65 549h0M1716.15 586.98h0M1731.76 493.51h0M1542.38 492.08h0M1569.21 529.67h0M1754.79 682.88h0M1676.92 543.94h0M1719.14 692.49h0M1626.4 711.89h0M1707.95 645.03h0M1620.81 464.03h0M1521.34 516.08h0M1671.26 671.95h0M1687.63 642.35h0M1677.57 667.17h0M1573.71 600.09h0M1622.74 643.67h0M1579.49 614.46h0M1700.99 640.22h0M1503.43 573.61h0M1557.26 551.14h0M1739.35 621.2h0M1557.94 586.42h0M1650.53 666.94h0M1724.33 692.53h0M1620.63 511.64h0M1576.53 671.48h0M1575.26 664.02h0M1572.71 504.36h0M1725.04 684.97h0M1748.7 586.85h0M1596.96 638.74h0M1552.53 521.99h0M1557.72 575.22h0M1628.33 493.26h0M1581.31 518.18h0M1707.18 527.9h0M1627.66 506.65h0M1704.72 489.91h0M1728.06 586.99h0M1521.34 418.11h0M1753.28 732.12h0M1679.24 672.6h0M1546.87 587.97h0M1782.17 641.58h0M1681.39 546.6h0M1622.35 655.83h0M1608.57 696.37h0M1743.48 746.94h0M1717.73 628.2h0M1598.27 497.79h0M1543.21 539.55h0M1546.08 499.61h0M1508.05 696.99h0M1626.23 484.38h0M1644.31 517.19h0M1684.94 547.58h0M1540.57 549.75h0M1668.82 522.04h0M1534.09 526.14h0M1602.98 482.37h0M1528.37 562.56h0M1591.84 503.15h0M1723.32 629.86h0M1626.13 660.04h0M1667.22 513.86h0M1711.1 629.77h0M1633.05 686.44h0M1493.6 495.32h0M1705.78 467.22h0M1544.78 544.39h0M1582.08 494.74h0M1556.27 586.85h0M1679.13 648.75h0M1719.28 627.88h0M1581.17 504.33h0M1547.29 469.32h0M1563.18 461.67h0M1522.88 554.3h0M1660.13 478.15h0M1643.32 679.74h0M1560.34 560h0M1640.96 696.75h0M1559.41 615.48h0M1550.6 626.97h0M1538.05 589.89h0M1602.33 505.87h0M1558.73 543.99h0M1747.93 565.97h0M1662.69 517.81h0M1586.84 623h0M1547.14 568.78h0M1617.62 690.58h0M1537.34 455.5h0M1610.4 666.58h0M1732.76 587.53h0M1717.43 450.08h0M1487.48 539.23h0M1612.61 506.03h0M1691.16 527.14h0M1525.53 506.37h0M1654.1 682.64h0M1689.49 538.43h0M1568.23 511.12h0M1579.04 477.6h0M1547.13 485.44h0M1746.94 565.67h0M1665.05 702.08h0M1529.31 564.92h0M1554.38 497.65h0M1550.32 538.6h0M1671.64 662.81h0M1804.45 639.15h0M1678.78 655.45h0M1675.22 664.95h0M1529.11 540.37h0M1540.89 492.64h0M1598.54 674.52h0M1756.77 724.91h0M1722.94 593.73h0M1626.35 678.36h0M1679.52 646.08h0M1489.95 499.13h0M1703.25 664.27h0M1659.33 474.32h0M1523.91 481.25h0M1677.79 544.16h0M1603.89 663.51h0M1596.72 640.93h0M1562.05 549.02h0M1649.28 664.01h0M1703.61 697.59h0M1629.57 719.36h0M1560.8 635h0M1576.34 611.21h0" stroke="#000" stroke-opacity="0.125" stroke-width="4.1" stroke-linecap="round" fill="none" filter="url(#bl)"/>
<polygon points="1614.95,511.76 1633.19,520.18 1649.76,521.58 1661.37,536.32 1672.97,548.96 1681.26,558.78 1684.58,570.01 1701.16,586.86 1698.67,616.33 1681.26,638.79 1666.34,649.32 1634.84,645.11 1614.95,635.28 1590.08,609.31 1574.33,591.07 1565.21,572.82 1565.21,536.32 1590.08,521.58 1601.69,515.27" fill="#f8f8f8"/>
<g clip-path="url(#c10)">
<rect x="1574.04" y="528.53" width="17.35" height="17.39" fill="#f2f2f2"/>
<rect x="1591.09" y="528.53" width="17.35" height="17.39" fill="#cfcfcf"/>
<rect x="1608.15" y="528.53" width="17.35" height="17.39" fill="#e2e2e2"/>
<rect x="1625.2" y="528.53" width="17.35" height="17.39" fill="#f0f0f0"/>
<rect x="1574.04" y="545.62" width="17.35" height="17.39" fill="#f0f0f0"/>
<rect x="1591.09" y="545.62" width="17.35" height="17.39" fill="#8a8a8a"/>
<rect x="1608.15" y="545.62" width="17.35" height="17.39" fill="#8e8e8e"/>
<rect x="1625.2" y="545.62" width="17.35" height="17.39" fill="#e6e6e6"/>
<rect x="1642.26" y="545.62" width="17.35" height="17.39" fill="#f2f2f2"/>
<rect x="1574.04" y="562.71" width="17.35" height="17.39" fill="#f0f0f0"/>
<rect x="1591.09" y="562.71" width="17.35" height="17.39" fill="#999999"/>
<rect x="1608.15" y="562.71" width="17.35" height="17.39" fill="#444444"/>
<rect x="1625.2" y="562.71" width="17.35" height="17.39" fill="#606060"/>
<rect x="1642.26" y="562.71" width="17.35" height="17.39" fill="#b0b0b0"/>
<rect x="1659.31" y="562.71" width="17.35" height="17.39" fill="#f0f0f0"/>
<rect x="1591.09" y="579.8" width="17.35" height="17.39" fill="#c4c4c4"/>
<rect x="1608.15" y="579.8" width="17.35" height="17.39" fill="#505050"/>
<rect x="1625.2" y="579.8" width="17.35" height="17.39" fill="#1a1a1a"/>
<rect x="1642.26" y="579.8" width="17.35" height="17.39" fill="#666666"/>
<rect x="1659.31" y="579.8" width="17.35" height="17.39" fill="#e8e8e8"/>
<rect x="1591.09" y="596.89" width="17.35" height="17.39" fill="#f0f0f0"/>
<rect x="1608.15" y="596.89" width="17.35" height="17.39" fill="#b8b8b8"/>
<rect x="1625.2" y="596.89" width="17.35" height="17.39" fill="#8c8c8c"/>
<rect x="1642.26" y="596.89" width="17.35" height="17.39" fill="#707070"/>
<rect x="1659.31" y="596.89" width="17.35" height="17.39" fill="#d0d0d0"/>
<rect x="1608.15" y="613.98" width="17.35" height="17.39" fill="#f0f0f0"/>
<rect x="1625.2" y="613.98" width="17.35" height="17.39" fill="#e0e0e0"/>
<rect x="1642.26" y="613.98" width="17.35" height="17.39" fill="#d8d8d8"/>
<rect x="1659.31" y="613.98" width="17.35" height="17.39" fill="#eeeeee"/>
</g>
<polygon points="1614.95,511.76 1633.19,520.18 1649.76,521.58 1661.37,536.32 1672.97,548.96 1681.26,558.78 1684.58,570.01 1701.16,586.86 1698.67,616.33 1681.26,638.79 1666.34,649.32 1634.84,645.11 1614.95,635.28 1590.08,609.31 1574.33,591.07 1565.21,572.82 1565.21,536.32 1590.08,521.58 1601.69,515.27" fill="none" stroke="#000" stroke-width="3" stroke-linejoin="round"/>
<polygon points="1598.37,529.3 1616.61,529.3 1633.19,538.43 1649.76,546.15 1661.37,560.19 1669.66,574.22 1676.29,593.87 1679.61,606.51 1676.29,621.95 1666.34,628.27 1651.42,626.86 1634.84,622.65 1614.95,617.04 1588.42,586.86 1582.62,574.22 1580.13,551.76 1588.42,536.32" fill="none" stroke="#000" stroke-width="3" stroke-linejoin="round"/>
<polygon points="1599.2,551.06 1616.61,552.46 1634.84,566.5 1651.42,579.84 1658.05,602.3 1653.91,608.61 1643.13,607.91 1624.9,597.38 1608.32,582.64 1598.37,571.41 1596.71,557.38" fill="none" stroke="#000" stroke-width="3" stroke-linejoin="round"/>
<polygon points="1632.36,576.33 1643.13,584.05 1638.99,596.68 1624.9,596.68 1620.75,587.56" fill="#000" stroke="#000" stroke-width="1.5" stroke-linejoin="round"/>
<path d="M1723.2 1064.93h0M1748.01 1034.95h0M1513.88 918.26h0M1715.94 984.46h0M1735.77 1088.78h0M1570.61 1030.31h0M1677.86 1038.14h0M1762.95 916.73h0M1519.27 1004.42h0M1689.24 1053.47h0M1615.42 1006.45h0M1548.27 1081.5h0M1650.13 971.17h0M1660.08 932.36h0M1567.62 982.32h0M1574.3 1048.77h0M1544.67 1075.76h0M1627.87 913.13h0M1659.06 990.79h0M1761 1003.15h0M1713.28 1019.87h0M1732.22 1041.83h0M1701.88 1057.14h0M1716.26 1039.68h0M1605.12 1010.87h0M1622.59 997.21h0M1723.34 1086.64h0M1570.23 1020.09h0M1576.28 913.55h0M1696.71 1071.86h0M1596.98 959.76h0M1689.54 1060.44h0M1591.65 865.01h0M1749.65 920.84h0M1691.67 1064.8h0M1563.76 1094.18h0M1571.7 1056.56h0M1501.98 945.43h0M1630.19 971.73h0M1581.37 1040.05h0M1746.19 1078.36h0M1690.08 1059.51h0M1635.56 941.91h0M1556.33 1080.63h0M1682.25 1041.84h0M1632.68 974.51h0M1649.41 947.13h0M1670.11 1006.02h0M1577.26 1042.25h0M1742.33 1050.42h0M1746.75 1042.72h0M1762.92 1034.39h0M1698.09 1031.96h0M1503.93 942.52h0M1789.55 985.75h0M1701.43 1030.74h0M1749.57 954.71h0M1718.36 1104.06h0M1727.56 980.36h0M1665.8 977.58h0M1701.6 899.51h0M1533.84 915.49h0M1480.01 840.03h0M1676.92 906.06h0M1564.99 1048.95h0M1575.99 1024.35h0M1723.31 979.3h0M1761.49 992.5h0M1643.1 859.57h0M1494.19 985.05h0M1639.35 964h0M1597.01 991.62h0M1714.48 1085.73h0M1564.03 1092.44h0M1638.43 905.9h0M1579.01 930.47h0M1532.32 1028.17h0M1664.92 910.63h0M1555.41 1096.37h0M1525.72 1056.29h0M1648.63 907.74h0M1628.73 981.65h0M1552.6 1056.32h0M1728.55 943.44h0M1513.14 1074.05h0M1724.91 1018.68h0M1516.79 857.43h0M1638.05 889.67h0M1602.17 946.34h0M1735.84 1065.12h0M1684.94 992.34h0M1504.67 944.29h0M1563.97 956.35h0M1551.74 988.88h0M1615.33 998.23h0M1666.86 1000.19h0M1673.9 950.51h0M1531.34 969.99h0M1708.56 936h0M1656.51 919.65h0M1625.43 1015.13h0M1777.96 771.78h0M1728.47 1089.1h0M1530.95 932.13h0M1643.17 1008.22h0M1579.26 996.97h0M1504.99 1036.35h0M1543.41 826.37h0M1689.63 1066.55h0M1545.4 1015.46h0M1672.72 1004.16h0M1686.55 1019.95h0M1649.52 941.66h0M1652.99 1021.11h0M1707.66 1044.08h0M1575.33 1017.55h0M1625.41 918.18h0M1535.51 1044.97h0M1641.9 974.21h0M1758.93 1095.59h0M1705.61 1063.23h0M1656.51 1024.33h0M1576.67 962h0M1611.25 1011.61h0M1643.6 985.53h0M1547.84 978.03h0M1641.22 886.09h0M1564.45 1062.04h0M1659.47 852.85h0M1495.71 1016.73h0M1630.73 1007.3h0M1594.37 966.68h0M1514.69 1101.71h0M1730.28 949.85h0M1557.31 864.06h0M1581.05 1037.6h0M1595.12 971.68h0M1528.66 938.46h0M1477.68 964.23h0M1566.03 1065.9h0M1645.7 1014.63h0M1784.11 999.2h0M1586.72 949.54h0M1747.1 1024.06h0M1558.2 1088.35h0M1648.13 926.93h0M1550.18 1036.35h0M1654.18 860.21h0M1697.57 965.42h0M1647.34 942.87h0M1729.72 1098.24h0M1662.8 969.27h0M1717.79 908.94h0M1537.55 1044.76h0M1716.7 1086.79h0M1511.75 981h0M1752.07 1008.72h0M1681.23 1024.28h0M1555.3 1042.16h0M1681.64 899.85h0M1626.71 1007.08h0M1664.81 950.85h0M1713.2 948.69h0M1563.88 1023.96h0M1500.91 996.94h0M1710.45 1071h0M1809.39 876.91h0M1702.94 827.22h0M1601.05 1005.13h0M1494.19 1074.91h0M1606.17 981.57h0M1664.08 980.71h0M1600.51 969.33h0M1551.24 1098.85h0M1588.53 1026h0M1536.66 989.1h0M1475.38 947.96h0M1653.16 1004.28h0M1789.14 878.7h0M1563.79 1001.82h0M1706.36 1068.11h0M1627.57 963.82h0M1597.92 789.75h0M1499.82 813.29h0M1594.49 1014.29h0M1659.3 982.71h0M1710.18 1063.42h0M1517.6 1035.65h0M1771.69 968.02h0M1758.88 962.95h0M1654.32 1018.24h0M1562.9 1054.43h0M1681.24 1001.56h0M1742.22 999.27h0M1606.66 973.07h0M1748.93 834.74h0M1553.19 1039.21h0M1551.22 1103.97h0M1565.46 1023.91h0M1604.29 951.57h0M1628.36 922.79h0M1755.88 920.2h0M1515.14 1047.49h0M1546.63 972.14h0M1559.43 1064.59h0M1682.99 990.5h0M1638.8 953.43h0M1748.45 784.39h0M1664.27 966.51h0M1600.6 1010.89h0M1692.37 899.69h0M1687.54 1015.99h0M1559.78 1042.85h0M1627.22 1015.2h0M1679.71 920.7h0M1642.03 980.98h0M1733.98 942.71h0M1501.97 975.8h0M1801.75 934.47h0M1564.62 983.02h0M1733.72 1016.63h0M1563.88 1096.53h0M1757.84 1007.59h0M1538.49 1035.97h0M1614.15 963.78h0M1584.95 1034.64h0M1541.47 1084.77h0M1566.11 934.38h0M1575.99 966.58h0M1584.8 981.7h0M1661.61 870.19h0M1745.05 1072.41h0M1734 955.43h0M1686.8 995.06h0M1683.29 1024.77h0M1483.27 857.29h0M1699.85 1050.36h0M1623.32 1011.08h0M1553.97 1092.4h0M1699.52 1062.58h0M1680.62 1017.79h0M1700.97 1027.21h0M1789.94 939.31h0M1757.53 1005.36h0M1633.43 928.15h0M1690.57 1006.37h0M1650.58 967.11h0M1730.66 869.06h0M1646.62 927.56h0M1543.15 1039.2h0M1683.31 1035.34h0M1634.65 1003.71h0M1708.11 1043.61h0M1555.84 1099.02h0M1518.17 1011.67h0M1517.64 855.84h0M1558.73 993.39h0M1633.17 1007.03h0M1530.65 1081.38h0M1589.56 852.99h0M1598.75 993.14h0M1578.29 1031.2h0M1747.16 1056.21h0M1676.66 961.46h0M1542.61 1096.23h0M1594.88 989.56h0M1683.18 1046.82h0M1620.25 1011.69h0M1555.62 1053.31h0M1576.28 1051.21h0M1559.68 1093.41h0M1721.46 1048.41h0M1534.45 926.75h0M1522.31 1083.57h0M1691.76 1045.79h0M1578.31 936.29h0M1725.37 1090.88h0M1546.97 1012.08h0M1634.89 1020.64h0M1644.06 904.2h0M1701.51 897.96h0M1654.05 962.85h0M1698.79 1045.46h0M1703.66 999.79h0M1592.28 1026.08h0M1587.95 980.78h0M1509.57 1053.78h0M1594.89 911.96h0M1573.19 871.16h0M1571.69 1032.11h0M1622.71 998.08h0M1581.56 1024.01h0M1571.94 991.45h0M1731.36 1082.28h0M1677.73 896.5h0M1530.3 992.52h0M1671.98 976.39h0M1548.31 994.74h0M1552.15 985.97h0M1651.6 1005.01h0M1557.77 1045.52h0M1764.13 960.49h0M1592.09 975.27h0M1592.39 948.01h0M1613.47 929.51h0M1695.64 1071.88h0M1599.78 1022.66h0M1475.59 830.54h0M1513.16 951.27h0M1578.63 1021.55h0M1563.57 1067.21h0M1751.7 1002.67h0M1528.67 971.52h0M1597.92 871.41h0M1625.91 973.04h0M1548.84 1085.5h0M1586.77 1021.87h0M1610.8 999.84h0M1715.64 991.27h0M1665.27 1016.75h0M1566.98 977.24h0M1668.05 945.14h0M1671.31 1025.68h0M1579.86 1028.91h0M1574.91 927.59h0M1587.63 986.2h0M1801.07 1002.25h0M1518.08 1085.6h0M1552.18 1067.74h0M1708.49 970.08h0M1674.93 1015.86h0M1719.97 917.51h0M1557.46 1056.42h0M1639.24 966h0M1550.61 907.74h0M1661.08 803.72h0M1712.61 994.47h0M1692.68 804.15h0M1711.28 936.71h0M1769.8 919h0M1677.17 980.24h0M1638.05 1015.34h0M1677.69 1019.79h0M1560.75 1099.85h0M1490.93 1048.07h0M1694.99 1030.32h0M1786.03 928.81h0M1592.34 943.08h0M1516.74 1098.52h0M1633.96 973.36h0M1629.73 955.5h0M1678.43 1012.82h0M1546.81 1067.03h0M1705.27 1101.77h0M1722.12 1023.98h0M1581.9 1040.15h0M1651.92 1006.56h0M1671.84 892.67h0M1797.18 1019.52h0M1626.73 840.5h0M1554.33 1065.84h0M1553.86 970.73h0M1551.2 1065.09h0M1699.04 971.69h0M1653.69 1007.06h0M1558.14 1061.19h0M1594.59 953.81h0M1551.43 1071.13h0M1731.6 993.96h0M1606.76 905.34h0M1724.49 1100.49h0M1544.39 951.6h0M1681.47 1035.74h0M1593.48 958.89h0M1692 1067.36h0M1579.51 1008.87h0M1576.8 1016.26h0M1592.03 941.97h0M1646.84 1016.76h0M1676.2 1024.11h0M1739.8 920.65h0M1672.04 1013.03h0M1610.37 978.82h0M1593.73 995.38h0M1557.26 1084.06h0M1604.09 936.3h0M1508.82 989.83h0M1807.85 915.39h0M1727.37 1038.1h0M1553.21 937.35h0M1604.49 871.15h0M1615.53 941.81h0M1481.48 1019.51h0M1532.14 1038.06h0M1658.11 957.57h0M1570.59 1063h0M1550.84 1031.34h0M1580.17 1045.74h0M1692.6 975.91h0M1712.77 984.21h0M1685.69 1055.85h0M1687.09 1039.24h0M1569.12 1060.57h0M1550.18 1084.23h0M1656.62 1024.7h0M1549.52 1074.13h0M1786.33 1026.91h0M1527.75 1035.86h0M1513.72 1057.32h0M1588.28 1008.66h0M1677.19 972.35h0M1742.17 1094.88h0M1742.05 1064.19h0M1602.87 988.86h0M1722.25 946.88h0M1726.91 825h0M1580.05 1001.49h0M1647.79 959.62h0M1632.22 1013.79h0M1591.45 1009.37h0M1687.28 1022.42h0M1505.12 1049.59h0M1704.29 1049.89h0M1736.33 1022.91h0M1526.92 1013.45h0M1618.21 998.21h0M1553.77 828.53h0M1717.8 1029.88h0M1706.74 942.35h0M1620.31 994.5h0M1669.27 983.98h0M1545.23 1100.81h0M1533.73 922.93h0M1567.28 1079.2h0" stroke="#000" stroke-opacity="0.125" stroke-width="4.1" stroke-linecap="round" fill="none" filter="url(#bl)"/>
<path d="M1555.99 1002.29h0M1508.36 1040.32h0M1635.8 1005.25h0M1683.28 961.9h0M1541.98 1068.1h0M1575.97 1044.61h0M1582.11 968.9h0M1581.05 965.04h0M1688.24 992.27h0M1651.74 993.3h0M1523.95 1059.35h0M1675.49 867.97h0M1687.63 1057.26h0M1524.55 928.29h0M1720.56 1047.49h0M1701.53 1054.38h0M1720.13 867.82h0M1543.02 1104.68h0M1550.37 984.88h0M1574.64 1013.91h0M1714.48 1016.31h0M1722.66 1030.94h0M1527.42 1098.67h0M1737.46 1013.13h0M1509.35 1006.95h0M1662.01 952h0M1553.15 1054.6h0M1558.94 1078.57h0M1683.87 908.49h0M1723.15 907.97h0M1602.65 985.45h0M1699.61 1028.24h0M1568.03 947.52h0M1685.56 894.32h0M1729 1094.11h0M1695.14 1059.04h0M1658.42 876.27h0M1682.07 903.06h0M1551.46 1070.38h0M1675.62 984.23h0M1629.65 1019.2h0M1698.62 1058.79h0M1642.04 811.6h0M1608.46 999.94h0M1597.59 997.6h0M1699.77 1032.81h0M1565.31 1051.77h0M1724.98 1067.56h0M1649.63 944.36h0M1601.85 994h0M1713.4 1083.01h0M1611.3 967.86h0M1574.88 875.06h0M1740.5 966.98h0M1522.51 856.09h0M1587.01 870.5h0M1554.32 966.87h0M1600.38 1023.16h0M1709.72 1017.28h0M1495.27 1026.44h0M1560.33 1096.99h0M1592.24 1015.97h0M1785.91 901.67h0M1702.2 807.6h0M1675.5 944.14h0M1523.76 1068.7h0M1650.19 1023.18h0M1704.53 1051.92h0M1670.36 1027.42h0M1624.22 955.78h0M1715.7 1032.96h0M1655.56 1020.05h0M1564.61 1102.43h0M1728.94 1085.71h0M1806.91 890.75h0M1629.12 891.74h0M1550.75 929.68h0M1554.12 1077.39h0M1526.34 865.37h0M1530.68 941.04h0M1555.62 1036.21h0M1609.66 991.91h0M1631.63 984.01h0M1590.2 1030.23h0M1703 1071.26h0M1546.55 1081.23h0M1702.52 1001.91h0M1589.81 926.76h0M1690.86 1034.16h0M1581.64 1017.52h0M1521.28 1048.51h0M1735.14 1045.47h0M1507.55 932.71h0M1586.73 1003.85h0M1625.61 946.67h0M1550.5 996.36h0M1715.1 1018.05h0M1554.66 987.89h0M1600.32 939.78h0M1724.75 1102.44h0M1648.64 1009.31h0M1749.57 890.86h0M1674.57 1034.54h0M1562.18 1025.58h0M1644.55 938.79h0M1752.35 1054.12h0M1540.04 953.18h0M1582.06 1029.1h0M1564.87 1006.6h0M1477.17 918.9h0M1643.73 1012.16h0M1680.1 965.22h0M1534.25 1041.8h0M1561.43 1059.54h0M1715.49 1010.79h0M1769.2 998.88h0M1563.69 969.1h0M1699.87 1069.52h0M1711.48 1080.05h0M1700.04 977.34h0M1729.42 1067.42h0M1698.13 1034.96h0M1580.54 872.31h0M1745.2 1075.57h0M1574.77 945.99h0M1680.4 1043.35h0M1625.89 930.46h0M1730.72 1078.65h0M1596.2 1010.49h0M1721.38 957.45h0M1556.39 1032.25h0M1625.64 813.48h0M1644.05 1011.43h0M1617.49 936.35h0M1657.32 1020.73h0M1661.94 815.13h0M1658.04 951.72h0M1515.91 1006.45h0M1713.64 1097.29h0M1697.67 1064.09h0M1524.31 938.93h0M1683.67 784.38h0M1564.29 1098.81h0M1754.46 911.05h0M1755.87 965.14h0M1569.34 1064.88h0M1559.29 1103.72h0M1615.14 943.29h0M1572.23 842.54h0M1690.37 1030.63h0M1716.8 981.25h0M1653.74 1013.36h0M1689.99 927.09h0M1609.11 1019.76h0M1724.53 1013.31h0M1645.09 1007.78h0M1505.73 981.3h0M1701.09 1104.02h0M1569.93 1061.17h0M1713.7 942.23h0M1697.4 983.21h0M1622.92 995.67h0M1696.85 1023.22h0M1616.95 1012.91h0M1569.48 1028.01h0M1577.73 1039.62h0M1623.15 994.38h0M1541.91 926.22h0M1735.61 985.37h0M1528.89 915.24h0M1550.97 909.39h0M1587.75 1014.37h0M1590.92 1013.81h0M1559.74 952.1h0M1586.04 988.06h0M1720.49 857.51h0M1617.28 1013.7h0M1693.14 1021.99h0M1649.09 982.84h0M1537.98 775.39h0M1591.52 975.59h0M1522.99 1080.11h0M1667.36 876.9h0M1521.92 1039.47h0M1697.28 962.17h0M1796.81 1058.07h0M1534.17 993.03h0M1549.44 1047.04h0M1544.74 997.54h0M1738.49 1049.62h0M1691.97 1005.03h0M1593.88 1019.48h0M1555.7 920.11h0M1740.13 967.22h0M1698.5 1045.11h0M1526.01 941.07h0M1558.81 971.8h0M1711.16 981h0M1735.18 1002.26h0M1495.37 1082.24h0M1567.09 1046.82h0M1668.33 1026.85h0M1565.48 1084.55h0M1584.45 996.12h0M1732.79 1081.93h0M1640.96 982.08h0M1641.1 1017.41h0M1790.27 991.08h0M1579.72 1030.99h0M1559.03 1081.42h0M1644.78 815.62h0M1563.89 1061.55h0M1710.27 1006.67h0M1533.73 1070.67h0M1670.64 1027.01h0M1574.78 988.06h0M1677.43 966.75h0M1725.77 1047.92h0M1583.98 973.46h0M1660.39 1011.59h0M1757.45 986.62h0M1639.65 1021.87h0M1598.22 964.89h0M1606.12 967.11h0M1610.42 1008.86h0M1644.78 1015.59h0M1649.05 1002.47h0M1545.59 1081.4h0M1713.6 1060.79h0M1572 1035.36h0M1541.08 795.26h0M1553.07 959.74h0M1573.05 1059.01h0M1557.44 1010.43h0M1559.1 1096.78h0M1714.36 918.65h0M1500.43 999.08h0M1561.74 1003.22h0M1768.27 772.96h0M1694.53 953.61h0M1760.71 1095.47h0M1681.05 996.49h0M1533.79 1083.64h0M1728.88 1012.03h0M1565.92 1052.69h0M1707.17 1086.6h0M1630.76 979.33h0M1797.1 859.57h0M1596.34 979.74h0M1680.4 993.02h0M1791.8 941.59h0M1651.16 950.07h0M1501.91 1001.04h0M1725.73 972.45h0M1649.19 958.24h0M1539.05 991.77h0M1691.23 1032.43h0M1703.53 1101.3h0M1684.78 1021.4h0M1646.97 909.17h0M1539.61 999.59h0M1626.89 879.18h0M1689.23 1050.05h0M1722.47 904.8h0M1681.63 1031.23h0M1725.83 792.98h0M1553.83 1054.69h0M1675.53 1020.32h0M1572.89 858.71h0M1626.88 949.59h0M1601.1 996.45h0M1557.33 1086.83h0M1538.06 1025.58h0M1503.52 1028.86h0M1726.83 1041.55h0M1610.24 1008.57h0M1705.22 944.92h0M1716.44 1048.49h0M1636.38 1008.81h0M1550 1070.74h0M1691.07 1058.99h0M1766.94 837.27h0M1742.25 824.49h0M1678.17 980.24h0M1574.7 1042.52h0M1627.3 1012.59h0M1702.62 966.03h0M1608.59 1005.86h0M1560.57 1040.05h0M1750.49 996.48h0M1730.57 1002.65h0M1542.48 1037.1h0M1531.94 1022.85h0M1568.11 1057.07h0M1688.75 1062.63h0M1700.37 969.7h0M1728.85 1047.97h0M1528.8 864.35h0M1565.61 906.35h0M1518.22 1083.03h0M1652.22 1013.47h0M1690.19 1056.06h0M1704.77 1077.84h0M1570.69 861.77h0M1517.84 959.25h0M1609.87 957.71h0M1617.77 911.7h0M1553.05 991.88h0M1642.83 983.54h0M1585.09 1040.57h0M1560.72 1075.43h0M1561.81 1039.26h0M1601.15 992.93h0M1524.03 956.75h0M1586.33 941.05h0M1670.49 937.16h0M1643.42 874.01h0M1654.28 993.02h0M1688.06 1063.72h0M1741.47 935.74h0M1728.41 905.18h0M1619.89 940.79h0M1649.03 929.61h0M1611.05 1012.82h0M1597.16 932.91h0M1710 1064.44h0M1664.61 1025.07h0M1641.51 932.75h0M1690.81 1033.41h0M1575.93 1029.62h0M1621.81 980.46h0M1794.88 967.91h0M1555.12 1069.57h0M1646.66 930.93h0M1708.4 1064.61h0M1718.31 974.05h0M1607.34 979.16h0M1729.72 1094.51h0M1653.77 903.75h0M1657.13 919.98h0M1569.85 980.25h0M1489.95 997.35h0M1666.91 1001.64h0M1617.83 940.47h0M1594.85 1003.71h0M1591.47 1026.81h0M1495.8 1006.12h0M1705.06 1097.77h0M1686.83 1017.03h0M1476.46 1052.63h0M1562.23 1053.93h0M1657.49 1006.17h0M1485.74 1009.38h0M1595.58 988.52h0M1661.83 1006.69h0M1571 831.51h0M1506.62 834.7h0M1636.3 905.56h0M1549.51 1091.58h0M1700.64 793.98h0M1644.33 1013.62h0M1625.76 1008.9h0M1738.92 863.07h0M1553.96 965.81h0M1704.68 1088.99h0M1533.05 994.97h0M1701.67 1073.1h0M1688.11 1062.66h0M1514.83 976.79h0M1587.67 990.65h0M1521 856.65h0M1674.65 862.82h0M1738.6 1049.38h0M1615.44 1013.19h0M1535.81 981.02h0M1681.77 1015.55h0M1572.38 1035.26h0M1662.24 1001.25h0M1570.32 1012.31h0M1706.22 1059.22h0M1537.73 1009.97h0M1561.8 1087.94h0M1709.58 1025.19h0M1579.34 923.13h0M1679.13 910.7h0M1669.95 1006.65h0M1580.27 1047.4h0M1557.24 963.99h0M1500.8 1001.43h0M1760.41 1042.97h0M1656.24 887.73h0M1590.63 822.29h0M1550.17 1082.07h0M1557.03 1071.64h0M1569.52 994.41h0M1690.77 1010.23h0M1482.94 854.58h0M1714.49 1071.7h0M1554.9 1032.48h0M1628.81 985.83h0M1482.87 937.98h0M1722.53 1021.73h0M1756.23 1047.34h0M1630.39 989.18h0M1537.28 1103.85h0M1556.04 1084.15h0M1575.68 887.91h0M1749.57 993.77h0M1681.72 921.27h0M1550.85 821.63h0M1647.57 961.04h0M1739.01 867.23h0M1666.25 996.92h0M1490.19 940.16h0M1562.57 1087.17h0M1691.38 960.24h0M1727.33 954.55h0M1579.88 999.08h0M1579.65 971.08h0M1552.87 1040.63h0M1557.81 975.71h0M1721.54 1056.65h0M1641.03 977.19h0M1565.05 1014.75h0M1536.78 1015.04h0M1610.16 901.6h0M1737.7 803.43h0M1616.82 995.71h0M1558.95 1046.15h0M1720.37 946.88h0M1646.96 959.71h0M1563.77 1023.82h0M1589.45 1021.66h0M1563.18 1040.1h0" stroke="#000" stroke-opacity="0.125" stroke-width="4.1" stroke-linecap="round" fill="none" filter="url(#bl)"/>
<path d="M1629.02 966.32h0M1631.67 1019.64h0M1656.37 859.95h0M1643.87 1002.96h0M1582.78 1033.79h0M1673.68 1002.8h0M1573.57 1030.52h0M1507.5 960.64h0M1619.04 990.8h0M1537.01 1077.42h0M1520.81 806.81h0M1563.54 1027.36h0M1553.31 995.83h0M1701.65 1031.95h0M1552.05 1061.2h0M1637.32 1007.2h0M1570.8 1046.65h0M1739.35 1049.37h0M1683.73 1024.86h0M1699.41 1056.23h0M1513.34 1067.63h0M1615.52 905.48h0M1620.54 905.14h0M1775.53 1051h0M1548.11 1005.65h0M1768.54 921.12h0M1493.91 857.76h0M1764.52 1050.84h0M1566.4 1068.05h0M1743.48 961.53h0M1677.55 783.41h0M1525.65 942.93h0M1694.86 1041.38h0M1564.18 1011.95h0M1745.54 992.06h0M1618.6 1010.15h0M1586.84 1029.02h0M1727.04 985.88h0M1711.78 1048.62h0M1729.03 1078.95h0M1564.88 1103.33h0M1638.74 975.69h0M1521 839.99h0M1759.47 830.67h0M1478.87 937.61h0M1582.65 989.38h0M1571.73 1052.81h0M1721.72 1037.42h0M1743.61 1032.41h0M1716.89 1009.04h0M1552.92 1028.02h0M1703.53 907.78h0M1506.3 929.05h0M1564.29 1037.85h0M1550.15 1058.4h0M1556.15 1017.48h0M1570.23 857.58h0M1732.54 1054.78h0M1575.61 1031.12h0M1793.85 969.95h0M1535.32 1048.88h0M1507.17 880.02h0M1558.15 1103.37h0M1554.75 1060.63h0M1589.83 1006.02h0M1775.13 1019.08h0M1546.61 973.05h0M1542.7 1085.92h0M1615.15 975.19h0M1557.57 1036.81h0M1540 1045.42h0M1522.14 1000.23h0M1579.31 1039.96h0M1568.98 1033.19h0M1737.35 926h0M1780.92 975.42h0M1702.63 1069.26h0M1705.24 1084.52h0M1547 1060.97h0M1563.08 1103.62h0M1700.72 945h0M1717.72 1030.36h0M1567.16 994.1h0M1691.79 1068.1h0M1625.53 973.43h0M1756.45 977.72h0M1625.73 1001.76h0M1564.02 1100.31h0M1627.17 836.54h0M1762.78 853.81h0M1555.44 1046.19h0M1518.93 1079.28h0M1635.33 951.03h0M1727.53 951.71h0M1724.4 1011.51h0M1581.21 1021.77h0M1725.38 1016.04h0M1572.14 1023.12h0M1503.66 1043.66h0M1687.92 1047.6h0M1567.58 967.17h0M1647.04 1016.15h0M1695.93 1057.28h0M1648.24 994.86h0M1698.12 1062.21h0M1573.53 963.9h0M1746.43 1023.68h0M1750.74 969.24h0M1620.82 1006.08h0M1656.41 883.13h0M1512.26 940.52h0M1576.61 1027.07h0M1573.37 990.74h0M1585.63 1022.03h0M1685.83 1010.89h0M1624.59 925.58h0M1521.7 936.39h0M1776.1 1039.78h0M1732.89 1056.84h0M1715.74 1105.05h0M1576.87 1014.75h0M1557.74 1065.42h0M1681.33 869.8h0M1546.84 989.98h0M1637.01 939.44h0M1582.78 960.9h0M1615.66 1009.47h0M1694.12 1044.86h0M1551.63 1011.34h0M1564.65 1054.33h0M1751.31 966.23h0M1655.3 986.38h0M1712.72 1102.8h0M1695 1028.41h0M1738.85 993.78h0M1558.95 996.22h0M1601.39 1019.82h0M1492.14 984.45h0M1572.48 1029.38h0M1589.34 942.75h0M1530.33 987.66h0M1556.65 1084.96h0M1562.89 1096.94h0M1562.05 1086.28h0M1573.37 1041.2h0M1688.39 1066h0M1710.07 976.72h0M1575.11 985.38h0M1544.19 1069.26h0M1574.13 925.37h0M1584.74 1004.51h0M1720.07 889.36h0M1651.35 921.47h0M1561.81 1036.43h0M1480.65 930.17h0M1554.24 1005.78h0M1535.07 982.44h0M1556.51 914.59h0M1531.64 976.56h0M1691.87 959.28h0M1494.49 912.73h0M1672.08 778.21h0M1571.25 1045.64h0M1561.06 1032.84h0M1719.81 1005.08h0M1597.89 1005.39h0M1572.17 1048.37h0M1670.68 822h0M1548.28 980.65h0M1505.54 962.93h0M1559.37 1087.51h0M1475.44 1072.1h0M1616.98 1004.72h0M1799.87 968.48h0M1556.48 1090.11h0M1581.6 866.79h0M1729.42 1037.94h0M1544.24 921.05h0M1564.09 1037.16h0M1669.11 919.23h0M1765.57 935.85h0M1553.7 883.11h0M1716.27 1076.51h0M1530.91 1015.3h0M1598.9 918.09h0M1602.88 783.57h0M1683.28 898.59h0M1649.96 1007.28h0M1613.23 1000.18h0M1626.95 1001.61h0M1786.64 915.24h0M1643.44 967.79h0M1540.84 1089.32h0M1580.73 1001.41h0M1574.53 1014.48h0M1536.37 995.62h0M1732.76 1030.89h0M1689.12 1052.11h0M1484.12 784.37h0M1710.4 1086.99h0M1732.02 925.71h0M1723.31 1031.07h0M1643.63 911.22h0M1594.13 1011.12h0M1698.52 1017.77h0M1691.16 883.81h0M1585.82 971.34h0M1721.9 840.54h0M1711.01 1032.99h0M1565.11 1048.15h0M1577.47 1051.45h0M1562.35 1040.73h0M1632.86 933.13h0M1548.2 883.43h0M1755.51 1022.27h0M1510.9 923.55h0M1723.57 1072.13h0M1576.87 1029.51h0M1695.97 944.8h0M1697.97 1005.4h0M1588.1 962.82h0M1651.35 979.98h0M1615.49 921.91h0M1653.49 981.14h0M1689.02 1030.41h0M1520.51 795.95h0M1756.14 968.85h0M1584.99 984.49h0M1566.25 1072.34h0M1795.35 967.78h0M1571.29 944.79h0M1609.3 1004.94h0M1566.37 950.51h0M1796.5 975.86h0M1553.47 1019.21h0M1708.61 1045.87h0M1563.82 1043.72h0M1563.61 963.26h0M1653.06 996.79h0M1536.79 1059.98h0M1671.58 999.27h0M1516.64 852.43h0M1627.21 1011.15h0M1682.29 1022.6h0M1534.9 1033.01h0M1638.25 965.04h0M1637.71 1019.29h0M1621.5 992.49h0M1711.32 941.35h0M1657.61 953.24h0M1624.69 910.7h0M1773.44 917.05h0M1563.85 916.09h0M1593.37 1015.66h0M1712.71 1090.8h0M1554.26 1046.15h0M1681.87 1028.56h0M1563.01 958.91h0M1532.68 1030.12h0M1596.36 1025.27h0M1564.24 1039.4h0M1555 929.25h0M1491.8 921.25h0M1756.14 845.11h0M1591.06 967.88h0M1629.06 957.75h0M1547.09 965.99h0M1701.04 1052.73h0M1620.95 1012.29h0M1574.62 1056.63h0M1556.45 1012.57h0M1536.74 953.76h0M1509.02 1059.43h0M1571.85 1062.5h0M1606.6 970.23h0M1710.78 988.5h0M1570.83 1050.2h0M1488.34 980.28h0M1707.8 1020.53h0M1587.41 1039.63h0M1634.7 950h0M1738.71 1070.5h0M1519.65 1039.36h0M1558.73 1101.22h0M1809.25 1032.84h0M1721.24 1078.98h0M1543.79 954.98h0M1663.17 875.03h0M1707.8 988.28h0M1520.94 983.56h0M1727.3 911.44h0M1710.76 1008.83h0M1608.68 1016.63h0M1515.84 1092.58h0M1708.8 1047.23h0M1605.87 897.89h0M1620.46 973.85h0M1557.31 975.54h0M1618.01 996.64h0M1599.67 1002.57h0M1611.56 975.79h0M1565.22 990.38h0M1700.72 899.97h0M1515.17 961.79h0M1560.72 1061.66h0M1499.75 1013.03h0M1495.51 882.08h0M1790.48 980.43h0M1634.46 819.61h0M1686.74 968.76h0M1644.68 983.91h0M1668.44 983.77h0M1580.63 987.42h0M1594.98 998.89h0M1657.27 970.08h0M1695.93 992.24h0M1703.62 940.85h0M1549.3 1018.37h0M1570.66 1011.83h0M1730.38 987.52h0M1650.91 989.33h0M1487.01 1068.72h0M1594.39 987.82h0M1718.07 1013.9h0M1527.77 1009.24h0M1739.23 1076.48h0M1746.3 965.12h0M1699.2 1067.59h0M1523.53 1037.28h0M1579.06 1015.48h0M1552.53 1103.54h0M1681.68 885.62h0M1647.48 919.14h0M1697.31 1041.21h0M1672.67 1003.23h0M1702.21 1052.63h0M1625.34 996.03h0M1539.58 1069.32h0M1616.33 992.77h0M1625.15 925.54h0M1626.95 986.78h0M1599.59 859.92h0M1649.38 965.84h0M1736.9 1042.55h0M1765.31 1074.78h0M1545.43 917.69h0M1588.74 1023.29h0M1675.54 926.74h0M1643.26 986.36h0M1566.3 1003.48h0M1716.37 1077.28h0M1536.73 995.26h0M1695.55 991.78h0M1645 847.68h0M1641.01 973.43h0M1658.48 896.47h0M1662.81 934.29h0M1615.88 881.64h0M1556.63 784.53h0M1701.02 1102.16h0M1699.98 1015.73h0M1589.06 986.51h0M1665.71 995.83h0M1572.59 1046.64h0M1479.07 781.13h0M1604.35 1004.12h0M1531 1019.12h0M1496.76 1087.36h0M1616.39 946.89h0M1698.37 1007.11h0M1654.06 1003.84h0M1517.94 1033.39h0M1688.33 1019.28h0M1665.97 1013.3h0M1716.4 1042.96h0M1738.58 793.3h0M1686.62 995.24h0M1628.71 942.7h0M1563.89 1016.35h0M1571.25 1062.33h0M1629.08 991.57h0M1690.03 1032.44h0M1604.39 1020.47h0M1630.25 1011.7h0M1553.19 977.49h0M1690.12 996.71h0M1626.39 851.43h0M1634.99 861.47h0M1643.96 1005.32h0M1658.25 937.29h0M1693.67 1042.96h0M1600.35 933.63h0M1573.56 1010.24h0M1767.13 1007.87h0M1690.57 1047.99h0M1721.68 981.33h0M1527.14 813.87h0M1706.64 1040.11h0M1564.85 1072.75h0M1614.39 973.82h0M1538.48 919.73h0M1561.85 1038.36h0M1542.03 1062.16h0M1518.13 1049.95h0M1542.37 967.25h0M1574.16 1011.76h0M1556.06 934.92h0M1707.1 1103.94h0M1659.18 1020.12h0M1606.17 891.56h0M1723.29 893.4h0M1736.83 917.57h0M1729.8 1031.41h0M1718.3 1079.18h0M1581.81 1011.8h0M1780.53 892.05h0M1599.28 874.37h0M1649.67 838.47h0M1751.1 989.88h0M1552.01 1073.97h0M1675.36 896.88h0M1566.93 1027.44h0M1584.25 1007.51h0M1682.85 1024.33h0M1645.38 959.05h0M1644.35 987.79h0M1721.99 1034.03h0M1513.84 1012.71h0M1557.53 1055.55h0M1642.22 865.73h0M1645.92 997.53h0M1592.32 909.98h0M1552.23 896.32h0" stroke="#000" stroke-opacity="0.125" stroke-width="4.1" stroke-linecap="round" fill="none" filter="url(#bl)"/>
<path d="M1609.94 990.71h0M1621.11 1004.88h0M1775.2 907.79h0M1699.27 964.6h0M1664.34 980.02h0M1555 1065.41h0M1582.42 927.7h0M1560.97 1022.56h0M1520.23 1042.2h0M1580.28 942.63h0M1644.25 1023.29h0M1695.36 1071.44h0M1642.46 1017.27h0M1712.86 1002.76h0M1514.62 975.92h0M1489.55 918.29h0M1526.81 1006.36h0M1761.16 854.13h0M1584.07 1035.92h0M1744.98 918h0M1714.48 1029.38h0M1675.78 990.81h0M1683.46 963.1h0M1573.18 1061.47h0M1571.62 1024.17h0M1610.57 977.17h0M1499.55 941.45h0M1724.94 1051.89h0M1608.99 938.25h0M1543.33 1037.73h0M1590.81 1020.69h0M1788.3 966.58h0M1557.98 962.51h0M1589.18 1032.11h0M1630.36 987.8h0M1490.04 926.51h0M1587.71 1013.99h0M1701.53 1093.39h0M1691.09 941.73h0M1557.84 1031.78h0M1732.96 1016.6h0M1663.79 1000.26h0M1532 866.03h0M1639.03 960.16h0M1669.63 898.99h0M1631.4 984.58h0M1570.34 959.09h0M1719.96 797.4h0M1668.69 1019.9h0M1689.57 979.3h0M1807.38 795.87h0M1693.25 999.87h0M1553.11 909.64h0M1524.43 930.29h0M1698.68 1035.3h0M1748.51 879.48h0M1793.85 951.72h0M1564.86 977.32h0M1593.77 978.69h0M1592 971.92h0M1556.07 1105.99h0M1732.22 910.86h0M1549.4 1064.41h0M1580.65 996.28h0M1768.88 1024.93h0M1751.27 989.58h0M1618.87 853.95h0M1595.86 1020.17h0M1723.9 1000.81h0M1644.43 963.21h0M1669.15 954.07h0M1565.18 1089.76h0M1679.64 1024.15h0M1644.1 1005.78h0M1563.57 1087.62h0M1657.52 912.65h0M1562.74 1015.79h0M1628.02 989.36h0M1547.24 888.96h0M1516.14 967.64h0M1629.78 1000.03h0M1704.23 973.76h0M1702.74 1046.43h0M1592.36 1029.22h0M1708.68 980.83h0M1569.53 996.83h0M1743.25 867.91h0M1528.86 973.08h0M1594.75 1019.88h0M1715.42 1073.56h0M1631.46 1009.59h0M1721.8 1029.6h0M1670.11 1024.76h0M1732.91 1076.62h0M1586.66 943.18h0M1717.16 1035.25h0M1549.4 936.28h0M1593.17 1023.01h0M1789.43 807.51h0M1631.63 922.99h0M1554.55 1016.55h0M1672.42 1013.77h0M1575.96 1042.14h0M1559.61 1093.1h0M1594.17 919.45h0M1670.1 1028.89h0M1678.17 995.71h0M1577.23 1043.03h0M1558.32 1106.31h0M1656.24 1017.48h0M1596.96 974.55h0M1673.22 951.54h0M1664.34 977.05h0M1557.76 1077.55h0M1505.73 907.49h0M1532.01 1093.88h0M1502.68 1042.73h0M1540.79 1044.27h0M1692.77 1047.99h0M1523.04 1065.13h0M1725.34 1036.81h0M1578.62 1041.99h0M1761.52 1088.97h0M1730.34 1066.51h0M1547.28 1071.8h0M1474.78 977.42h0M1606.94 1007.34h0M1644.62 907.04h0M1562.05 918.83h0M1682.55 1025.99h0M1690.33 1008.8h0M1662.78 1021.51h0M1602.47 1021.89h0M1658.93 1008.04h0M1728.7 833.37h0M1589.91 1031.35h0M1702.29 962.16h0M1749.77 1068.65h0M1524.57 1014.26h0M1595.62 998.12h0M1568.41 1062.3h0M1691.52 969.3h0M1642.05 859.79h0M1608.99 1017.53h0M1700.81 1052.37h0M1516.21 913.7h0M1531.72 967.94h0M1561.46 993.86h0M1519.11 947.43h0M1708.29 1041.25h0M1551.13 1099.31h0M1571.51 893.4h0M1709.19 1036.66h0M1669.33 1006.5h0M1714.43 909.21h0M1594.57 968.46h0M1537.4 1036.92h0M1687.5 954.75h0M1734.74 1085.96h0M1638.58 1007.78h0M1711.69 1095.89h0M1586.13 1013.64h0M1700.76 1067.84h0M1723.92 1044.56h0M1556.57 1082.98h0M1560.55 994.36h0M1718.13 998.39h0M1555.05 1030.19h0M1636.02 917.3h0M1527.39 1045.98h0M1720.14 1079.91h0M1699.27 1031.88h0M1716.11 1024h0M1476.47 909.88h0M1741.21 916.4h0M1713.34 986.09h0M1547.05 1047.14h0M1730.92 793.38h0M1722.11 936.3h0M1523.26 927.68h0M1561.68 1104.52h0M1555.56 1058.51h0M1561.68 1098.42h0M1720.66 842.07h0M1684.73 1028.56h0M1697.55 1070.75h0M1710.16 909.57h0M1668.95 823.82h0M1659.86 1014.33h0M1706.91 1063.85h0M1707.69 1080.48h0M1712.43 1098.77h0M1510.76 991.14h0M1549.61 1098.79h0M1653.87 947.98h0M1792.52 944.67h0M1546.85 985.91h0M1694.38 965.68h0M1548.28 1061.14h0M1552.01 1054.35h0M1556.81 1078.36h0M1729.65 898.51h0M1655.09 980.03h0M1698.42 1040.26h0M1543.9 1007.26h0M1660.78 897.74h0M1498.57 994.92h0M1582.87 1007.08h0M1499.99 1076.06h0M1627.42 944.6h0M1737.11 1022.76h0M1507.09 970.51h0M1686.35 1029.57h0M1519.19 1041.42h0M1693.74 882.42h0M1504.91 970.38h0M1748.04 1063.16h0M1792.71 891.27h0M1707.61 988.26h0M1522.1 1087.82h0M1576.94 922.25h0M1606.65 1010.48h0M1617.52 1006.15h0M1535.27 780.65h0M1737.76 1022.66h0M1558.03 1055.83h0M1598.97 971.41h0M1645.02 1017.39h0M1591.52 1005.5h0M1689.47 1006.56h0M1619.95 999.64h0M1747.48 1036.34h0M1689.12 927.88h0M1515.68 945.17h0M1726.03 1063.34h0M1700.44 1070.45h0M1774.09 958.59h0M1671.15 1007.2h0M1578.18 1021.23h0M1566.73 1076.62h0M1624.2 949.29h0M1628.12 856.86h0M1758.92 994.89h0M1662.8 895.86h0M1543.22 1015.61h0M1633.45 920.03h0M1671.11 1020.45h0M1695.23 782.74h0M1704.39 1076.14h0M1692 999.66h0M1570.18 1047.59h0M1621.41 1014.31h0M1684.71 1051.91h0M1623.01 1014.87h0M1515.88 899.51h0M1630.29 939.47h0M1684.83 1053.09h0M1646.49 997.33h0M1581.26 1038.83h0M1655.37 991.49h0M1681.03 1027.44h0M1530.03 1061.95h0M1546.36 1078.4h0M1760.79 1032.67h0M1572.1 1035h0M1573.99 1061.39h0M1706.65 962.08h0M1687.81 988.32h0M1759.24 1052.68h0M1670.59 947.91h0M1763.11 1036.55h0M1706.03 987.06h0M1569.19 1020.6h0M1690.74 1023.69h0M1589.39 889.21h0M1605.93 975.09h0M1663.8 1012.61h0M1586.79 996.22h0M1552.41 1103.72h0M1524.17 980.57h0M1552.08 1066.16h0M1568.37 1063.36h0M1674.73 1015.29h0M1479.62 970.37h0M1771.63 1017.03h0M1696.21 976.55h0M1550.58 1049.8h0M1663.33 1024.72h0M1604.3 891.77h0M1672.92 995.78h0M1572.94 1060.59h0M1649.54 1021.8h0M1536.05 1007.35h0M1711.49 1062.09h0M1597.36 923.49h0M1707.32 969.17h0M1541.52 824.61h0M1678.65 984.29h0M1623.79 1015.96h0M1480.83 808.85h0M1576.11 1040.12h0M1536.62 1049.85h0M1655.63 869h0M1650.62 1010.14h0M1683.96 1004.47h0M1660.67 981.3h0M1540.55 988.02h0M1600.61 975.58h0M1534.31 1057.77h0M1675.78 1004.48h0M1665.96 1027.54h0M1585.97 1041.35h0M1591.51 936.54h0M1693.07 1046.2h0M1742.11 910.21h0M1596.62 995.73h0M1694.81 1033.06h0M1740.73 994.7h0M1577.34 989.04h0M1556.04 1099.28h0M1550.41 1076.66h0M1630.3 908.62h0M1511.63 1016.7h0M1583.76 1023.84h0M1525.06 1105.11h0M1518.59 858.83h0M1679.77 976.27h0M1579.52 952.05h0M1697.61 831.41h0M1642.34 955.94h0M1527.75 989.2h0M1605.24 996.44h0M1646.77 1012.14h0M1730.82 894.92h0M1745.86 1018.82h0M1675.67 1024h0M1751.27 998.04h0M1514.71 1096.27h0M1561.23 1062.52h0M1661.8 1026.74h0M1571.11 981.89h0M1608.1 963.93h0M1705.64 905.23h0M1533.48 1062.73h0M1548.34 1089.5h0M1551.53 915.58h0M1773.46 861.72h0M1670.54 1029.49h0M1610.13 957.05h0M1569.41 1054.56h0M1755.92 899.01h0M1685.06 946.3h0M1749.06 794.87h0M1713.62 997.09h0M1675.12 1022.88h0M1600.79 1016.54h0M1596.85 994.55h0M1503.92 1028.34h0M1747.27 947.77h0M1658.87 965.66h0M1731.54 1065.44h0M1732.92 945.77h0M1566.37 1047.16h0M1560.8 952.46h0M1650.04 974.55h0M1523.09 1075.42h0M1527.13 1045.04h0M1674.55 1025.25h0M1641.95 876.71h0M1600.15 1015.84h0M1571.16 1019.87h0M1687.39 923.67h0M1639.46 979.48h0M1611.48 973.76h0M1614.2 1009.12h0M1719.29 1088.33h0M1516.08 1071.91h0M1635.45 1010.48h0M1720.63 997.17h0M1664.97 882h0M1679.55 965.32h0M1557.51 852.88h0M1580.11 1020.09h0M1744.43 1021.55h0M1595.44 958.81h0M1658.45 986.12h0M1741.96 958.91h0M1689.33 1057.27h0M1582.14 967.22h0M1721.24 1032.58h0M1641.41 997.98h0M1481.56 860.81h0M1554.81 1052.87h0M1657.95 933.98h0M1632.91 957.84h0M1589.37 997.52h0M1595.09 1023.27h0M1782.5 903.76h0M1497.99 1016.47h0M1599.82 1004.68h0M1673.17 960.58h0M1581.88 1002.79h0M1634.02 1019.26h0M1551.62 896.3h0M1594 991.98h0M1613.84 1011.67h0M1531.51 1072.79h0M1484.55 1066.01h0M1678.23 981.52h0M1632.43 886.49h0M1681.14 986.33h0M1716.41 1050.19h0M1717.44 1091.39h0M1688.4 988.53h0M1706.04 1083.07h0M1701.55 1087.82h0M1745.2 898.5h0M1501.41 1032.02h0M1533.28 984.84h0M1603.77 1021.52h0M1587.17 1012.75h0M1554.47 1064.04h0M1573.95 1028.72h0M1703.43 1064.91h0M1682.29 833.96h0M1578.4 969.26h0M1678.32 1012.9h0M1624.34 1000.49h0M1690.78 1016.4h0M1638.38 804.22h0M1554.14 1016.12h0M1581.88 912.42h0M1638.12 881.6h0" stroke="#000" stroke-opacity="0.125" stroke-width="4.1" stroke-linecap="round" fill="none" filter="url(#bl)"/>
<path d="M1713.81 865.88h0M1781.34 977.97h0M1499.93 1041.71h0M1680.13 1031.59h0M1808.71 939.55h0M1559.36 1081.25h0M1622.37 919.82h0M1693.42 1021.46h0M1767.89 1001.95h0M1774.94 926.45h0M1533.72 933.45h0M1526.94 989.6h0M1655.29 995.55h0M1533.73 1031.02h0M1558.75 1100.58h0M1755.44 990.31h0M1484.53 1027.12h0M1750.19 804.42h0M1748.38 1063h0M1656.07 887.74h0M1706.62 995.77h0M1669.79 984.11h0M1622.33 1010.79h0M1680.61 891.06h0M1636.93 953.91h0M1622.05 1011.31h0M1703.49 1006.02h0M1506.26 936.19h0M1534.76 1074.97h0M1635.76 1002.72h0M1681.63 867.46h0M1525.01 978.36h0M1650.23 996.43h0M1557.2 902.32h0M1541.76 1009.91h0M1553 1073.1h0M1689.66 1040.22h0M1738.28 996.12h0M1724.8 1018.12h0M1711.12 965.11h0M1628.49 959.7h0M1664.91 938.42h0M1677.61 1020.62h0M1739.81 951.11h0M1710.13 985.64h0M1582.98 974.43h0M1607.51 1018.31h0M1554.51 783h0M1618.74 1012.4h0M1669.38 1017.52h0M1559 1070.92h0M1542.13 1011.3h0M1724.9 891.96h0M1710.9 1046.32h0M1637.19 1015.48h0M1535.06 1051.4h0M1676.04 969.38h0M1584.3 1019.73h0M1570.39 1045.79h0M1640.93 1008.58h0M1706 1005.59h0M1557.68 908.28h0M1715.75 1082.12h0M1507.18 917.75h0M1720.05 911.3h0M1757.92 904.27h0M1590.64 1032.14h0M1634.07 1017.19h0M1605.48 1001.81h0M1544.94 917.58h0M1477.88 1061.57h0M1588.94 933.64h0M1583.01 934.73h0M1580.58 1027.66h0M1599.33 983.93h0M1724.71 1062.8h0M1481.98 982.24h0M1604.72 995.52h0M1666.61 923.58h0M1655.64 928.78h0M1711.37 1067.64h0M1610.78 879.39h0M1514.09 907.73h0M1553.04 1021.28h0M1561.71 1091.77h0M1565.26 1001.31h0M1663.02 1024.87h0M1675.04 986.23h0M1743.62 1086.47h0M1689.36 1063.09h0M1676.56 964.15h0M1658.11 1014.11h0M1559.16 803.25h0M1583.23 959.43h0M1722.72 1090.2h0M1754.88 914.2h0M1690.99 1060.13h0M1721.14 864.07h0M1645.67 985.3h0M1685.04 1027.5h0M1578.99 1045.5h0M1658.93 925.39h0M1645.8 940.49h0M1641.25 949.26h0M1505.59 1024.24h0M1585.59 987.96h0M1733.33 1095.54h0M1558.74 1060.71h0M1742.4 1085.45h0M1576.88 912.53h0M1687.44 1033.38h0M1537.15 1099.24h0M1705.17 1055.4h0M1498.38 959.93h0M1498.02 985.86h0M1713.63 1055.9h0M1669.43 990.73h0M1567.75 1005.7h0M1682.97 948.02h0M1668.69 916.82h0M1732.02 858.43h0M1608.47 944.67h0M1593.36 916.92h0M1639.61 995.08h0M1794.22 895.99h0M1535.69 1053.06h0M1503.56 1000.06h0M1700.79 1020.64h0M1587.81 1027.2h0M1718.9 1019.54h0M1658.36 1023.62h0M1693.46 856.62h0M1693.21 1064.78h0M1544.97 1093.69h0M1704.16 946.21h0M1723.89 1047.9h0M1516.78 947.52h0M1639.02 1016.54h0M1492.46 1017.99h0M1616.13 1015.91h0M1704.84 1030.48h0M1663.71 1022.83h0M1533.52 1024.69h0M1720.65 1104.8h0M1578.34 1021.78h0M1806.31 785.7h0M1698.65 1047.92h0M1564.84 1013.35h0M1634.01 872.93h0M1608.48 980.21h0M1551.21 1045.1h0M1680.04 878.44h0M1592.52 971.04h0M1544.23 1015.19h0M1587.42 1010.23h0M1679.31 1031.97h0M1598.38 969.06h0M1554.79 1005.01h0M1579.49 1046.65h0M1763.52 1016.88h0M1535.32 956.41h0M1641.43 992.84h0M1555.05 1013.44h0M1497.62 968.43h0M1737.48 1070.62h0M1659.11 868.93h0M1698.16 998.42h0M1538.66 1069.95h0M1574.88 942.17h0M1772.04 941.09h0M1542.78 874.51h0M1546.48 1059.98h0M1767.99 842.59h0M1691.64 1062.58h0M1687.43 944.87h0M1563.83 1077.84h0M1584.57 1014.63h0M1787.67 863.27h0M1610.51 877.71h0M1718.95 1011.1h0M1701.51 1096.72h0M1565.21 1099.02h0M1699.05 1000.31h0M1635.04 1021.21h0M1559.61 1084.26h0M1513.17 859.3h0M1724 932.71h0M1533.88 970.55h0M1721.94 1066.04h0M1615.39 1012.34h0M1717.35 1073.9h0M1781.93 898.33h0M1524.86 1022.99h0M1556.08 962.15h0M1656.2 951.33h0M1698.33 941.65h0M1514.83 951.88h0M1766.94 1043.72h0M1619.64 986.55h0M1550.27 1066.84h0M1651.19 1017.25h0M1581.24 1045.65h0M1710.69 1029.84h0M1693.3 1038.72h0M1552.21 1080.44h0M1752.94 974.29h0M1750.53 1048.49h0M1599.41 964.88h0M1716.69 843.04h0M1571.62 1035.51h0M1728.19 1057.7h0M1538.39 1012.39h0M1600.37 1018.27h0M1691.27 894.51h0M1658.1 1022.94h0M1698.86 895.61h0M1697.17 1025.47h0M1607.19 976.25h0M1594.82 971.95h0M1509.89 917.62h0M1563.59 958.81h0M1650.6 1020.31h0M1701.46 1099.75h0M1703.96 876.67h0M1524.14 939.55h0M1583.64 1017.48h0M1705.92 1013.37h0M1627.69 977.17h0M1805.39 925.87h0M1563.2 1105.22h0M1630.65 1011.19h0M1679.79 1038.45h0M1702.11 1060.73h0M1683.37 942.81h0M1703.65 1033.09h0M1695.4 1037.1h0M1571.86 1061.69h0M1721.55 951.26h0M1554.31 975.23h0M1758.08 1030.97h0M1629.71 963.67h0M1563.51 1085.26h0M1628.71 972.51h0M1664.79 1001.12h0M1496.6 1010.76h0M1647.47 956.13h0M1610.9 1016.89h0M1575.48 1059.81h0M1622.31 922.05h0M1696.32 1064.96h0M1804.57 819.27h0M1564.84 1077.91h0M1668.11 1008.34h0M1669.03 933.97h0M1581.95 1042.64h0M1671.04 1004.16h0M1697.65 971.95h0M1659.35 993.22h0M1679.95 1043.45h0M1670.81 860.47h0M1527.7 1099.14h0M1536.67 973.52h0M1625.6 927.71h0M1619.48 1009.14h0M1799.56 943.58h0M1484.72 880.94h0M1690.26 1031.2h0M1593.71 1021.49h0M1728.6 815.65h0M1646.15 1021.88h0M1647.59 965.73h0M1521.88 1081.2h0M1507.53 918.96h0M1747.08 996.39h0M1556.78 965.96h0M1551.4 1017.05h0M1602.51 954.8h0M1626.66 999.42h0M1568.78 893.43h0M1517.03 925.82h0M1579.17 1038.92h0M1726.44 1083.93h0M1592.96 897.49h0M1576.36 927.68h0M1641.6 993.03h0M1559.8 939.07h0M1723.09 1006.38h0M1596.72 970.5h0M1557.22 994.21h0M1655 1009.19h0M1556.4 1043.08h0M1646.63 978.75h0M1719.33 920.92h0M1631.58 984.57h0M1576.2 1048.57h0M1710.37 870.36h0M1573.16 957.87h0M1721.48 913.08h0M1516.24 1017.73h0M1531.94 1027.78h0M1503.45 1032.23h0M1640.5 977.29h0M1703.4 994.42h0M1592.51 1020.68h0M1553.76 992.51h0M1690.58 1049.47h0M1656.92 940.1h0M1563.78 1067.56h0M1690.65 942.81h0M1475.92 1028.33h0M1718.79 988h0M1544.05 1061.52h0M1567.45 1003.61h0M1720.96 1086.32h0M1669.2 970.42h0M1713.09 1058.51h0M1707.78 975h0M1603.5 967.12h0M1552.92 1021.04h0M1701.56 1056.99h0M1568.44 971.62h0M1665.51 1022.68h0M1640.51 802.35h0M1620.95 1010.12h0M1720.25 1014.89h0M1805.02 955.78h0M1791.29 963.07h0M1743.9 1075.61h0M1587.73 1029.88h0M1504.14 966.69h0M1802.35 932.03h0M1733 1098.38h0M1570.34 1036.53h0M1676.73 996.23h0M1602.65 989.8h0M1614.41 822.83h0M1638.66 894.43h0M1553.68 1034.93h0M1585.52 1022.01h0M1606.72 996.7h0M1702.75 911.69h0M1679.35 845.97h0M1617.82 964.68h0M1576.74 927.65h0M1642.28 1019.98h0M1686.8 1044.5h0M1639.83 871.97h0M1744.99 1021.93h0M1682.71 942.49h0M1601.96 980.95h0M1559.42 1063.85h0M1623.97 988.7h0M1718.33 1077.88h0M1582.27 1047.14h0M1549.74 980.98h0M1606.98 869.41h0M1549.49 1105.25h0M1653.53 988.07h0M1679.71 939.28h0M1570.19 938.63h0M1713.81 1065.97h0M1648.85 901.71h0M1671.04 920.19h0M1714.36 1076.11h0M1653.86 772.87h0M1612.96 995.42h0M1712.79 778.82h0M1721.51 1098.29h0M1533.81 987.29h0M1501.43 1035.95h0M1676.63 920.28h0M1677.7 819.21h0M1658.89 962.33h0M1619.52 806.97h0M1609.8 967.24h0M1694.9 983.89h0M1615.99 906.74h0M1722.54 974.71h0M1628.63 1013.57h0M1611.84 942.44h0M1665.42 898.61h0M1725.59 949.89h0M1701.93 1039.5h0M1580.14 948.31h0M1558.77 1096.19h0M1781.56 893.59h0M1591.82 987.72h0M1705.65 1029.46h0M1579.28 1031.92h0M1529.58 953.21h0M1662.77 814.43h0M1785.09 1015.96h0M1710.04 1042.53h0M1677.22 949.76h0M1561.06 961.33h0M1592.31 1029.06h0M1658.01 883.7h0M1715.31 1079.06h0M1548.14 869.66h0M1581.18 948.27h0M1653.44 945.55h0M1569.44 981.48h0M1700.79 1013.88h0M1498.55 782.91h0M1559.41 1046.54h0M1641.19 787.69h0M1744.76 1046.59h0M1703.89 1017.03h0M1692.96 1044.02h0M1564.62 1084.11h0M1759.91 988.67h0M1760.35 1060.78h0M1536.72 1064.72h0M1643.78 937.26h0M1561.63 1053.57h0M1670.85 935.86h0M1569.2 1047.74h0M1488.93 878.97h0M1531.21 1041.48h0M1674.15 995.98h0M1531.85 887.99h0M1750.54 838.41h0M1743.49 1069.69h0M1605.52 992.32h0M1755.45 841.7h0M1726.82 1091.21h0M1740.58 858.29h0M1723.6 1009.37h0M1484.65 791.74h0M1533.07 894.22h0M1615.97 895.4h0M1541.88 1089.21h0M1572.1 845.43h0" stroke="#000" stroke-opacity="0.125" stroke-width="4.1" stroke-linecap="round" fill="none" filter="url(#bl)"/>
<path d="M1723.91 1014h0M1689.71 985.38h0M1684.82 1045.82h0M1735.27 1015.64h0M1552.03 1065.56h0M1804.94 975.47h0M1639.48 1013.73h0M1719.14 1079.85h0M1520.22 927.83h0M1802.62 887.66h0M1664.18 954.26h0M1582.35 891.34h0M1552.94 1074.74h0M1603.81 863.71h0M1728.9 1097.16h0M1715.91 1006.17h0M1634.53 976.78h0M1697.86 969.51h0M1762.31 926.08h0M1654.06 924.36h0M1557.51 1032.43h0M1547.96 1030.89h0M1775.41 940.86h0M1639.17 1018.77h0M1698.9 961.32h0M1579.08 959.43h0M1599.92 949.08h0M1671.42 1023.34h0M1605.05 974.96h0M1627.88 981.78h0M1633.93 999.09h0M1633.09 1004.19h0M1714.91 1065.06h0M1543.1 1094.9h0M1715.47 957.41h0M1495.34 823.61h0M1504.16 1068.34h0M1499.11 927.58h0M1723.16 934.09h0M1709.52 1074.73h0M1642.01 1015.38h0M1745.77 875.53h0M1485.59 1035.62h0M1556.48 1030.55h0M1638.68 996.86h0M1539.99 1074.66h0M1568.43 1075.77h0M1529.05 806.7h0M1698.1 1059.42h0M1784.06 817.08h0M1643.89 1019.65h0M1673.79 960.22h0M1585.75 985.03h0M1724.29 905.44h0M1770.55 932.96h0M1714.29 1077.28h0M1729.27 1018.15h0M1526.71 887.23h0M1550.5 1055.14h0M1524.03 925.92h0M1792.44 816.55h0M1619.34 983.4h0M1618.53 894.62h0M1643.97 1014.58h0M1515.34 970.46h0M1494.12 923.15h0M1638.25 991.37h0M1563.64 1080.71h0M1547.47 953.29h0M1549.88 1098.78h0M1574.14 965.56h0M1519.58 965.83h0M1703.8 1020.3h0M1662.89 1007.67h0M1659.03 949.76h0M1753.75 992.95h0M1718.65 1049.78h0M1704.98 970.43h0M1679.2 999.18h0M1734.87 943.94h0M1507.36 909.86h0M1523.28 971.2h0M1753.68 1055.77h0M1528.48 1052.53h0M1540.73 1069.17h0M1625.82 1014.3h0M1476.84 976.38h0M1587.49 967.36h0M1567.82 1052.32h0M1525.82 912.84h0M1502.32 950.41h0M1636.54 1011.62h0M1570.83 1054.26h0M1559.75 1074.99h0M1573.54 1021.11h0M1570.42 1051.54h0M1579.7 1012.76h0M1717.86 916.52h0M1706.57 1020.26h0M1658.79 942.45h0M1624.38 1014.64h0M1706.67 984.55h0M1623.69 983.73h0M1502.11 1068h0M1577.11 973.79h0M1687.37 854.26h0M1707.57 1067.82h0M1644.68 1008.23h0M1655.02 937.12h0M1512.1 1057.87h0M1721.5 952.01h0M1533.9 1075.56h0M1485.03 952.65h0M1727.74 928.04h0M1523.73 1070.09h0M1601.88 941.9h0M1638.44 1021.92h0M1667.93 1028.31h0M1650.84 903.95h0M1571.15 1003.45h0M1517.35 966.28h0M1692.05 960.54h0M1527.49 1066.27h0M1623.46 1006.46h0M1528.48 1056.55h0M1681.64 916.7h0M1517.16 1042.38h0M1707.91 1086h0M1513.65 779.89h0M1587.49 992.92h0M1607.39 934.85h0M1690.37 1063.05h0M1653.13 1018.29h0M1730.68 1025.23h0M1577.94 964.45h0M1637.89 932.69h0M1688.09 1042.85h0M1805.76 1008.71h0M1483.49 935.08h0M1677.81 1032.93h0M1655.78 973.3h0M1600.4 936.16h0M1619.65 980.12h0M1662.63 965.57h0M1658.5 1016.63h0M1498.17 926.2h0M1743.65 965.43h0M1701.34 1049.83h0M1683.83 967.85h0M1641.68 851.52h0M1742.3 953.48h0M1539.55 1012.4h0M1560.71 1078.98h0M1673.67 876.44h0M1638.47 989.02h0M1487.04 809.03h0M1668.93 1020.47h0M1558.91 1101.11h0M1603.48 822.15h0M1684.57 1010.09h0M1556.58 1088.46h0M1532.38 1036.15h0M1701.01 985.28h0M1738.25 1037.02h0M1721.11 1046.09h0M1565.23 982.4h0M1630.22 1018.93h0M1571.31 1019.13h0M1612 991.01h0M1534.6 1085.23h0M1559.45 877.56h0M1599.1 1005.15h0M1697.06 1012.54h0M1619.03 1002.51h0M1553.98 1044.29h0M1737.46 959.6h0M1699.67 1054.04h0M1579.01 1022.35h0M1560.48 1078.54h0M1750.55 980.62h0M1555.49 981.45h0M1680.65 997.57h0M1585.65 828.51h0M1630.94 860.46h0M1633.75 931.11h0M1559.78 828.62h0M1539.5 1073.22h0M1733.39 1016.52h0M1750.44 1031.58h0M1514.72 903.39h0M1479.97 991.28h0M1640.67 1006.07h0M1541.69 975.03h0M1691.43 978.28h0M1516.99 1054.73h0M1617.47 1007.51h0M1558.52 1060.97h0M1734.61 898.42h0M1692.34 1007.18h0M1721.42 1069.69h0M1663.04 1015.42h0M1649.62 1021.44h0M1566.96 1072.93h0M1493.56 1028.51h0M1724.8 906.36h0M1544.72 1104.28h0M1564.08 932.14h0M1601.23 897.63h0M1694.85 1028.06h0M1551.12 961.93h0M1575.22 961.15h0M1727.67 1084.91h0M1627.67 972.21h0M1551.41 1083.47h0M1750.87 1072.13h0M1662.25 856.43h0M1475.77 1034.8h0M1528.77 935.34h0M1757.62 1069.87h0M1603.76 1021.95h0M1716.16 941.1h0M1668.37 943.59h0M1649.89 872.85h0M1635.04 1011.77h0M1604.7 1013.67h0M1652.05 966.09h0M1500.53 985.7h0M1544.98 1037.98h0M1743.01 1004.96h0M1551.99 1063.17h0M1566.51 1060.32h0M1695.37 1015.11h0M1700.8 1047.1h0M1565.38 1060.09h0M1560.44 1052.86h0M1479.1 1013.18h0M1775.91 1011.25h0M1629.42 971.19h0M1587.98 1022.96h0M1542.05 1032.61h0M1581.15 1043.59h0M1638.22 982.03h0M1551.53 965.47h0M1550.07 1088.39h0M1665.35 964.84h0M1660.24 1017.98h0M1551.72 1017.37h0M1585.64 995.65h0M1530.27 903.39h0M1582.63 918.08h0M1626.21 1014.97h0M1692.21 1049.98h0M1545.43 967.31h0M1610.72 896.43h0M1651.63 1027h0M1715.55 1003.09h0M1712.42 773.13h0M1570.94 1069.22h0M1705.94 982.19h0M1542.87 1057.18h0M1729.73 1066.55h0M1736.85 900.23h0M1731.34 792.06h0M1716.66 989.28h0M1546.72 894.1h0M1788.62 899.28h0M1715.63 1012.15h0M1725.29 1081.79h0M1701.24 995.5h0M1795.48 993.44h0M1536.12 955.14h0M1576.07 989.35h0M1667.81 871.15h0M1586.52 857.53h0M1614.21 978.86h0M1569.1 1048.08h0M1808.33 949.55h0M1581.38 1044.32h0M1772.75 958.17h0M1714.77 1045.06h0M1520.88 1039.53h0M1679 879.88h0M1538.75 1100.68h0M1663.61 996.51h0M1710.01 996.55h0M1705.57 1047.76h0M1717.64 1064.98h0M1569.77 965.15h0M1555 1064.71h0M1554.73 1094.91h0M1689.31 1058.59h0M1698.94 1049.46h0M1504.22 993.6h0M1580.34 1020.73h0M1661.86 1002.62h0M1715.32 993.28h0M1707.04 861.87h0M1525.62 1060.03h0M1602.77 1012.34h0M1641.78 1002.38h0M1512.91 898.73h0M1489.2 978.81h0M1584.1 1040.94h0M1710 1052.13h0M1600.89 1012.22h0M1686.61 1004.66h0M1553.8 1073.56h0M1715.18 1052.11h0M1740.53 988.01h0M1526.03 944.6h0M1550.73 1073.34h0M1515.66 952.49h0M1584.79 1029.49h0M1557.99 922.1h0M1678.68 1031.49h0M1571.46 1047.08h0M1722.76 1032.43h0M1607.1 962.1h0M1808.5 964.02h0M1504.2 990.68h0M1691.09 898.17h0M1574.73 1010.33h0M1664.25 970.1h0M1541.49 987.07h0M1712.73 1073.82h0M1487.82 1039.78h0M1585.41 1040.85h0M1644.26 916.68h0M1718.38 1089.34h0M1685.85 1011.12h0M1714.09 1094.42h0M1611.06 988.44h0M1570.8 1054.44h0M1577.9 986.79h0M1475.53 986.29h0M1504.36 1002.42h0M1702.26 1057.55h0M1635.73 954.14h0M1698.05 972.46h0M1539.27 873.23h0M1645.51 942.87h0M1481.71 1052.19h0M1524.28 945.86h0M1581.65 1015.82h0M1637.15 988.31h0M1702.39 1089.22h0M1563.37 1103.44h0M1615.4 1013.92h0M1613.93 1015.89h0M1511.21 1036.72h0M1554.61 1047.08h0M1769.35 1025.88h0M1561.73 1012.85h0M1542.12 1025.54h0M1643.85 980.14h0M1755.18 1044.18h0M1639.1 1002.14h0M1520.54 1005.21h0M1788.77 784.02h0M1623.62 988.67h0M1558.15 1067.08h0M1551.8 1104.43h0M1583.01 1043.83h0M1735.52 1045.85h0M1507.3 1037.83h0M1631.46 1012.86h0M1649.96 899.38h0M1532.88 1055.03h0M1626.11 940.99h0M1679.14 922.5h0M1528.36 1076.73h0M1506.86 1016.82h0M1500.18 1052.29h0M1649.32 858.64h0M1620.57 863.04h0M1607.68 1015.42h0M1644.65 967.99h0M1658.97 1006.45h0M1508.29 1007.46h0M1632.39 907.32h0M1722.85 964.56h0M1580.66 1029.64h0M1509.8 1001.08h0M1545.31 1007.11h0M1732.26 988.39h0M1702.07 1049.6h0M1708.78 1067.67h0M1559.49 976.42h0M1694.96 799.24h0M1736.08 1020.46h0M1695.33 934.83h0M1586.25 1022.58h0M1721.8 1016.93h0M1631.28 976.79h0M1634.82 997.83h0M1559.65 1019.36h0M1554.82 1065.72h0M1590.01 851h0M1530.34 1025.2h0M1650.05 999.69h0M1784.28 829.63h0M1693.23 956.56h0M1530.3 1104.95h0M1723.79 1069.51h0M1617.44 986.84h0M1738.74 968.7h0M1648.86 1015.74h0M1717.81 976.39h0M1721.37 1035.54h0M1563.21 1070.76h0M1611.62 968.13h0M1531.93 1027.56h0M1585.13 808.86h0M1566.76 1013.84h0M1708.27 904.89h0M1608.71 1001.3h0M1561.91 1088.13h0M1772.44 1080.35h0M1537.41 1005.93h0M1557.51 1066.34h0M1496.97 1105.88h0M1705.31 1068.26h0M1586.5 993.05h0M1707.88 1031.74h0M1731.23 1049.63h0M1751.4 1057.92h0M1547.98 833.47h0M1777.88 1091.09h0M1659.56 928.76h0M1723.78 1092.51h0M1640.44 948.84h0M1736.65 929.69h0M1568.62 1030.82h0" stroke="#000" stroke-opacity="0.125" stroke-width="4.1" stroke-linecap="round" fill="none" filter="url(#bl)"/>
<polygon points="1565.53,1108.9 1565.53,1083.57 1569.91,1072.85 1579.12,1053.35 1591.78,1032.88 1597.53,1027.04 1614.8,1017.78 1622.86,1018.75 1635.52,1022.16 1647.03,1027.04 1663.15,1027.04 1670.05,1029.96 1676.96,1038.73 1683.87,1050.43 1687.32,1065.05 1702.29,1078.69 1703.44,1084.54 1700.56,1087.47 1700.56,1108.9" fill="#f8f8f8"/>
<g clip-path="url(#c20)">
<rect x="1574.04" y="1091.81" width="17.35" height="17.39" fill="#eeeeee"/>
<rect x="1591.09" y="1091.81" width="17.35" height="17.39" fill="#555555"/>
<rect x="1608.15" y="1091.81" width="17.35" height="17.39" fill="#000000"/>
<rect x="1625.2" y="1091.81" width="17.35" height="17.39" fill="#000000"/>
<rect x="1642.26" y="1091.81" width="17.35" height="17.39" fill="#3a3a3a"/>
<rect x="1659.31" y="1091.81" width="17.35" height="17.39" fill="#a8a8a8"/>
<rect x="1676.37" y="1091.81" width="17.35" height="17.39" fill="#eeeeee"/>
<rect x="1574.04" y="1074.72" width="17.35" height="17.39" fill="#f2f2f2"/>
<rect x="1591.09" y="1074.72" width="17.35" height="17.39" fill="#8c8c8c"/>
<rect x="1608.15" y="1074.72" width="17.35" height="17.39" fill="#333333"/>
<rect x="1625.2" y="1074.72" width="17.35" height="17.39" fill="#484848"/>
<rect x="1642.26" y="1074.72" width="17.35" height="17.39" fill="#8a8a8a"/>
<rect x="1659.31" y="1074.72" width="17.35" height="17.39" fill="#dddddd"/>
<rect x="1591.09" y="1057.63" width="17.35" height="17.39" fill="#e0e0e0"/>
<rect x="1608.15" y="1057.63" width="17.35" height="17.39" fill="#b0b0b0"/>
<rect x="1625.2" y="1057.63" width="17.35" height="17.39" fill="#a8a8a8"/>
<rect x="1642.26" y="1057.63" width="17.35" height="17.39" fill="#bdbdbd"/>
<rect x="1659.31" y="1057.63" width="17.35" height="17.39" fill="#f0f0f0"/>
<rect x="1591.09" y="1040.54" width="17.35" height="17.39" fill="#f4f4f4"/>
<rect x="1608.15" y="1040.54" width="17.35" height="17.39" fill="#ececec"/>
<rect x="1625.2" y="1040.54" width="17.35" height="17.39" fill="#e4e4e4"/>
<rect x="1642.26" y="1040.54" width="17.35" height="17.39" fill="#e8e8e8"/>
<rect x="1659.31" y="1040.54" width="17.35" height="17.39" fill="#f4f4f4"/>
</g>
<polyline points="1565.53,1108.9 1565.53,1083.57 1569.91,1072.85 1579.12,1053.35 1591.78,1032.88 1597.53,1027.04 1614.8,1017.78 1622.86,1018.75 1635.52,1022.16 1647.03,1027.04 1663.15,1027.04 1670.05,1029.96 1676.96,1038.73 1683.87,1050.43 1687.32,1065.05 1702.29,1078.69 1703.44,1084.54 1700.56,1087.47 1700.56,1108.9" fill="none" stroke="#000" stroke-width="3" stroke-linejoin="round"/>
<polyline points="1582.57,1108.9 1582.57,1083.57 1598.68,1062.12 1615.95,1051.89 1632.07,1047.5 1651.64,1047.5 1667.75,1065.05 1675.81,1080.64 1681.57,1099.16 1682.14,1108.9" fill="none" stroke="#000" stroke-width="3" stroke-linejoin="round"/>
<polyline points="1594.08,1108.9 1595.23,1099.16 1602.14,1083.57 1614.8,1073.82 1633.22,1073.82 1650.49,1083.57 1657.39,1093.31 1662,1102.09 1662,1108.9" fill="none" stroke="#000" stroke-width="3" stroke-linejoin="round"/>
<path d="M1981.68 1001.85h0M1909.79 1038.4h0M1977.63 1018.23h0M2058.11 950.09h0M1994.85 1009.5h0M2023.46 1010.73h0M2076.31 938.69h0M1923.99 1068.46h0M2074.01 997.4h0M2072.79 1058.54h0M1907.87 1028.73h0M1950.73 852.87h0M2074.01 1062.8h0M1879.52 983.75h0M1909.69 1085.17h0M2136.29 933.26h0M2034.61 1031.04h0M2076.65 1100.32h0M1948.82 994.55h0M2089.96 944.54h0M2077.68 1091.78h0M1920.43 1065.2h0M1858.24 1021.83h0M2130.84 977.42h0M2104.59 1015.06h0M2015.13 863.39h0M1939.64 1003.44h0M2005.82 977.33h0M2086.79 1069.14h0M1930.51 1063.83h0M2069.73 1021.96h0M1966.15 960.82h0M2087.37 1030.68h0M2099.52 1096.37h0M2022.21 1009.73h0M1984.13 979.38h0M1971.81 946.72h0M1879.48 943.26h0M1850.63 995.17h0M2000.67 1017.92h0M1929.6 1018.53h0M2086.01 1106.11h0M2059.79 1068.03h0M2094.04 1058.69h0M1997.39 997.31h0M1997.28 954.38h0M2014.64 935.32h0M2003.13 1012.46h0M1914.73 1066.88h0M1918.44 995.91h0M2082.61 966.54h0M1867.74 1071.83h0M2134.79 994.14h0M1894.2 1000.67h0M1962.34 920.57h0M2122.43 901.33h0M1889.29 1051.31h0M2065.73 1020.91h0M2092.79 1093.38h0M2034.28 1031.6h0M1967.64 894.02h0M1945.88 820.18h0M2115.5 934.98h0M1855.49 1029.02h0M2015.09 988.61h0M1987.35 989.62h0M1923.17 950.69h0M1901.15 989.8h0M2167.03 998.48h0M2014.48 1011.7h0M2069.31 1012.62h0M1958.4 1012.15h0M2029.2 967.41h0M1975.95 958.52h0M2067.01 1048.65h0M1964.17 920.35h0M2014.45 1004.14h0M2141.09 1058.04h0M2122.32 1089.77h0M2039.65 1011.48h0M1953.09 1035.95h0M1835.87 1059.64h0M1936.08 1070.2h0M1994.51 864.3h0M2043.4 878.66h0M2017.36 1000.01h0M2095.7 964.31h0M1917.71 1079.84h0M2090.99 953.22h0M2042.22 995.33h0M1925.87 909.69h0M2040.46 1013.59h0M2053.29 1009.11h0M1989.8 928.22h0M1999.43 855.54h0M2041.86 802.36h0M1913.2 987.02h0M1924.01 1063.56h0M1920.22 993.46h0M2104.32 1086.79h0M1887.02 830.78h0M2041.59 953.18h0M2082.6 961.35h0M2104.9 1069.87h0M2072.88 1068.98h0M1970.62 1021.45h0M1984.41 1018.87h0M1939.28 1030.4h0M2092.13 824.41h0M2038.31 1018.31h0M1867.15 904.91h0M1962.19 940.68h0M2080.94 1074.66h0M1903.89 1011.22h0M1936.72 1066.5h0M2060.28 1036.72h0M2081.09 1044.19h0M1921.6 1057.24h0M1982.43 997.96h0M2079.25 1047.45h0M2121.75 944.18h0M1957.37 998.68h0M2070.83 926.96h0M2028.11 1018.27h0M2050.31 1009.04h0M2090.01 1038.35h0M2005.82 987.43h0M2011.98 981.91h0M1911.89 1093.53h0M2154.5 999.19h0M1941.93 1046.19h0M2008.33 874.57h0M1942.18 1051.71h0M1982.59 1018.93h0M1863.2 948.9h0M1919.85 981.13h0M1865.95 1096.68h0M1996.75 985.15h0M1894.1 1063.88h0M1840.44 971.6h0M2053.61 1028.89h0M2059.11 1066.52h0M2067.99 810.8h0M1941.34 1031.24h0M2033.06 945.99h0M1875.09 991.38h0M2040.04 966.65h0M2102.12 1059.75h0M1982.83 875.88h0M2024.31 1026.57h0M2004.22 993.61h0M1944.35 1043.48h0M2073.2 894.21h0M1946.17 1033.42h0M1963.42 1012.57h0M1854.81 980.27h0M2034.74 956.66h0M1998.68 860.21h0M1886.32 1066.67h0M1872.02 1006.98h0M1892.55 1090.03h0M1989.08 865.98h0M2065.78 1079.29h0M2078.48 1070.63h0M2076.38 1068.38h0M1854.88 1011.32h0M1903.03 974.51h0M1844.99 1092.33h0M1948.64 979.18h0M2079.09 1071.33h0M1903.93 1013.9h0M2111.51 989.95h0M1919.69 1028.17h0M1885.17 986.67h0M1915.33 1084.37h0M2079.08 1075.05h0M2139.57 1051.91h0M1903.79 1015.71h0M1910.13 1098.2h0M1915.14 1062.74h0M2077.02 1101.97h0M2070.49 1088.43h0M2093.16 1013.76h0M2046.1 956.06h0M2015.79 944.75h0M2042.73 1015.93h0M2131.23 982.23h0M2132.25 1059.8h0M1936.33 939.09h0M1953 905.44h0M2154.94 987.11h0M1898.96 915.63h0M2125.48 803.97h0M1906.91 967.61h0M2081.32 1035.92h0M2001.17 890.4h0M1860.63 816.72h0M1888.85 1074.8h0M2081.63 841.23h0M1955.45 1000.6h0M2138.48 1082.69h0M1963.07 1014.26h0M2071.07 1102.09h0M2028.72 999.59h0M2058.42 797.68h0M2008.81 987.32h0M1937.53 1023.06h0M1961.58 922.59h0M1934.01 938.86h0M2139.2 1020.04h0M1983.16 1014.74h0M1946.47 860.93h0M1903.08 972.7h0M2109.84 1044h0M2087.22 1034.06h0M2081.76 1011.49h0M1858.72 985.95h0M1894.48 919.89h0M2059.86 1038.36h0M1967.95 931.24h0M1907.46 950.88h0M1897.93 897.04h0M2073.85 1097.81h0M2068.31 827.84h0M1959.79 954.97h0M1935.32 1009.56h0M2057 1048.2h0M2071.79 978.29h0M2053.85 1037.2h0M2024.76 1024.8h0M1967.43 1012.05h0M1917.62 1050.53h0M2072.21 1041.4h0M1833.55 888.64h0M2049.15 960.97h0M1877.42 971.58h0M2072.14 950.19h0M1890.35 1092.26h0M2146.34 1001.52h0M1949.5 994.95h0M1916.47 967.59h0M1971.66 937.15h0M2130.23 993.71h0M2064.52 804.81h0M2091.85 1028.32h0M2001.92 780.48h0M1937.06 1049.58h0M1847.1 989.54h0M1910.68 1034.9h0M1934.61 1012.22h0M1938.91 1062.55h0M2040.48 955.78h0M2079.67 938.86h0M1916.09 1081.55h0M2131.51 1092.29h0M1884.06 1037.58h0M2024.67 952.52h0M1921.36 956.24h0M1954.16 1031.9h0M1901.49 1085.19h0M1957.67 995h0M2067.68 1080.8h0M1961.44 1034.17h0M1936.1 1068.05h0M2160.65 1075.27h0M1951.04 1031.44h0M2081.5 1082.02h0M2013.7 963.47h0M1980.27 1005.05h0M1899.31 1069.33h0M2028.04 965.15h0M1953.05 902.59h0M1933.87 1065.81h0M1906.6 996.87h0M1931.39 1031.1h0M1946.12 982.27h0M1907.53 1001.55h0M1895.8 1101.13h0M2048.73 969.32h0M2078.37 949.48h0M2089.89 1027.36h0M2129.8 962.91h0M1950.14 1037.41h0M1975.88 1008.82h0M2054.97 1002.41h0M1925.76 1047.65h0M2066.86 910.95h0M2048.73 1021.49h0M1920.91 992.94h0M2076.05 1063.75h0M1933.8 1036.41h0M1945.42 1014.62h0M1959.77 1027.48h0M2043.44 996.83h0M2058.91 1038.57h0M1929.84 1086.87h0M1986.78 1014.26h0M2000.83 979.27h0M2117.76 1007.89h0M1839.15 861.78h0M1994.14 982.43h0M2031.67 1024.94h0M1922.7 862.72h0M2022.4 992.07h0M1925.77 1050.16h0M2133.37 1072h0M1948.05 908.07h0M2054.14 1006.22h0M2052.31 1028.44h0M2082.81 942.36h0M1964.58 968.4h0M2094.41 1071.12h0M1924.4 959.75h0M1950.28 996.87h0M2014.2 1002.66h0M1928.52 1037.49h0M1847.09 942.38h0M1934.92 1049.12h0M2072.1 939.23h0M1934.3 1034.8h0M2070.26 1050.96h0M1940.55 1026.19h0M1849.82 877.08h0M1959.22 1040.03h0M2054.22 1034.88h0M2003.56 1005.65h0M1994.55 992.06h0M2073.48 849.37h0M1881.68 1028.23h0M2020.8 898.19h0M1965.71 879.08h0M1974.32 1006.7h0M2103.92 1071.42h0M1909.84 934.99h0M1932.17 997.04h0M1997.32 981.71h0M2076.72 1074.09h0M2001.08 903.68h0M1910.96 1049.43h0M2027.96 1028.56h0M1956.21 987.44h0M2037.32 996.48h0M1862.73 1000.07h0M2137.8 823.04h0M1872.46 959.73h0M1896.94 1011.61h0M2062.49 1058.81h0M2076.25 962.3h0M1939.24 1063.95h0M2044.23 945.07h0M1945.94 987.44h0M2083.12 965.85h0M1933.53 1015.77h0M1898.69 1021.72h0M1954.39 1004.32h0M1881.45 969.52h0M1960.51 1006.13h0M1928.9 971h0M1891.3 879.21h0M1942.05 1021h0M1918.95 1101.77h0M2088.27 1075.4h0M2072.36 1031.27h0M1943 1024.87h0M2059.18 1049.62h0M1972.62 995.3h0M1899.93 1106.18h0M2098.9 1000h0M2133.97 858.46h0M1970.06 959.3h0M2065.47 1035.87h0M2010.13 1009.45h0M2133.27 923.37h0M2002.57 918.94h0M1966.35 930.4h0M1914.47 1018.52h0M1939.45 1053.04h0M1945.9 898.04h0M1915.23 1080.83h0M1997.79 922.16h0M1956.69 1016.33h0M2061.39 1039.04h0M2072.14 982.3h0M1936.82 1036.54h0M1908.63 1096.89h0M2061.26 1045.52h0M2072.77 1054.14h0M1921.85 1005.96h0M2079.88 990.61h0M1931.59 953.3h0M1961.84 1035.34h0M2065.97 1055.75h0M1990.55 984.94h0M1846.66 909.4h0M2154.27 992.35h0M2092.54 1010.42h0M1992.39 907.7h0M2155.27 825.7h0M1886.95 1058.13h0M2010.34 937.9h0M2053.36 983.66h0M1975.85 1013.53h0M1986.49 932.53h0M1967.72 992.82h0M2075.92 1014.19h0M1979.72 970.57h0M2117.79 956.48h0M2100.88 958.57h0M1888.18 1042.46h0M1970.89 1026.06h0M1940.54 974.85h0M2159.5 840.62h0M1927.57 869.87h0M2081.55 1030.06h0M2136.61 989.83h0M1868.83 1016.29h0M1953.9 1010.84h0M2051.5 973.44h0M1919.35 1080.23h0M1971.17 970.25h0M2166.93 950.63h0M2002.39 983.53h0M2014.57 1009.26h0M1912.55 1042.14h0M2088.19 1015.23h0M1950.52 1031.42h0M2100.88 1047.73h0M1953.18 1016.82h0M2103.2 1062.2h0M2011 1020.47h0M2099.22 980.5h0M2065.07 952.72h0M1941.09 915.81h0M2019.89 992.73h0" stroke="#000" stroke-opacity="0.125" stroke-width="4.1" stroke-linecap="round" fill="none" filter="url(#bl)"/>
<path d="M1956.53 1023.7h0M2073.72 1089.83h0M1849.79 1048.04h0M2135.56 861.98h0M2044.42 1003.87h0M2071.32 1047.61h0M2115.85 810.87h0M1924.45 1091.64h0M2003.81 969.14h0M2015.96 934.35h0M2070.06 1080.97h0M1980.11 1015.42h0M2030.4 939.35h0M2012.57 993.29h0M2071.72 1079.56h0M2071.41 1003.19h0M2055.43 1001.84h0M2025.62 1011.84h0M1938.27 1067.24h0M2035.49 1017.53h0M2145.26 1047.56h0M1976.3 984.14h0M2060.01 1037.62h0M1907.46 997.73h0M1924.39 1020.14h0M2137.4 966.81h0M2020.19 1024.18h0M2034.64 1020.03h0M1927.42 1102.32h0M2099.18 1030.42h0M1931.11 1017.57h0M1983.88 990.4h0M2054.15 1035.62h0M2019.38 839.69h0M1935.72 1026.62h0M1966.58 1005.75h0M1944.18 983.65h0M1941.07 1053.08h0M1929.87 982.08h0M1962.83 873.3h0M2090.05 1036.07h0M2087 1035.93h0M1838.27 967.71h0M1942.79 1025.84h0M2108.34 1000.18h0M2014.82 1025.3h0M2024.94 917.42h0M1923.47 997.39h0M1941.5 874.13h0M1992.9 805.56h0M1869.02 958.77h0M2109.75 1051.33h0M1967.33 988.66h0M2044.17 894.86h0M1930.77 1043.24h0M1920.18 998.28h0M1936.68 1018h0M2043.49 970.03h0M2029.79 1022.65h0M1923.62 992.38h0M2038.12 822.37h0M1926.89 1042.49h0M1937.47 1047.14h0M1936.48 1048.1h0M2002.59 899.04h0M2063.96 1029.11h0M1977.44 948.49h0M1959.89 1024.65h0M1968.33 974.35h0M2043.01 934.04h0M2019.2 783.78h0M2148.42 1030.26h0M2081.07 1041.68h0M2000.16 982.36h0M1992.56 1007.64h0M1998 1003.85h0M1975.39 803.81h0M2082.81 1001.82h0M1922.29 1075.75h0M1950.69 805.25h0M2081.69 918.19h0M2080.93 1096.51h0M1951.81 904.22h0M2007.61 972.12h0M1925.95 1019.26h0M1962.04 851.76h0M1991.13 909.2h0M2058.76 918.85h0M2091.46 1101.77h0M1976.4 1006.57h0M2106.28 941.16h0M1995.88 896.61h0M1930.95 1033.9h0M1845.81 1032.88h0M1884.94 1001.33h0M2145.18 894.84h0M2088.85 1080.18h0M1836.63 890.73h0M2042.05 954.74h0M2100.04 1095.79h0M1935.34 1072.84h0M2057.57 1023.16h0M1863.18 994.41h0M2033.86 1032.16h0M1949.03 1021.19h0M2035.04 988.31h0M1998.16 888.01h0M1910.62 991.79h0M1998 973.92h0M2079.48 994.09h0M1880.95 1015.21h0M1917.53 872.44h0M1916.91 1014.18h0M1966.64 833.09h0M2076.69 883.14h0M1876.03 933.84h0M1921.51 872.8h0M1949.55 888.86h0M2020.63 1026.89h0M1982.99 917.57h0M1920.36 976.84h0M2086.93 975.09h0M2030.15 948.29h0M2068.78 1091.35h0M1885.19 1102.91h0M1974.42 982.08h0M1953.44 989.33h0M1929.92 1021.78h0M1990.14 869.1h0M2081.6 955.75h0M2003.42 972.72h0M1913.46 1006.27h0M1920.55 1025.82h0M2076.74 1036.56h0M1987.49 1008.12h0M1975.46 1009.63h0M1986.45 988.93h0M2076.09 983.36h0M1942.83 1050.63h0M1892.92 1024.36h0M1965.22 876.84h0M2078.5 1031.65h0M1950.37 1003.88h0M1955.48 926.02h0M1944.74 900.77h0M2148.04 1015.39h0M1838.12 1024.54h0M2027.15 950h0M2090.6 974.58h0M2030.81 1016.07h0M1925.09 837.26h0M2015.69 933.05h0M1849.71 1063.75h0M1988.59 959.52h0M1898.13 1002.28h0M1919.09 1046.84h0M1919.68 1094.5h0M2052.85 889.41h0M1853.48 938.77h0M2007.49 974.64h0M2090.05 1074.87h0M1918.42 1079.22h0M1913.37 931.98h0M2096.31 1044.83h0M1996.9 987.55h0M1915.42 1021.6h0M1841.58 1006.31h0M1913.04 1106.02h0M1854.23 949.07h0M2067.32 988.96h0M2147.94 801.77h0M2049.76 982.23h0M2114.21 1099.82h0M1903.44 1050.85h0M1976.63 953.64h0M2153.64 980.96h0M2053.77 1048.26h0M2038.9 1022.4h0M2120.03 952.67h0M1914.16 1086.2h0M1958.91 938h0M1985.71 1005.17h0M2031.02 956.17h0M1931.43 975.6h0M2109.52 1021.33h0M1982.36 947.37h0M1977.72 979.77h0M2015.99 974.52h0M2082.33 964.84h0M2093.03 1057.55h0M1905.14 976.3h0M1909.62 1021.19h0M1980.41 981.82h0M2058.82 991.12h0M2063.23 1076.31h0M2005.3 1018.08h0M2147.82 1003.79h0M2096.32 1046.39h0M1947.9 1047.58h0M1964.05 1025.31h0M1935.88 886.29h0M2077.37 965.16h0M2124.18 932.5h0M2076.78 1009.63h0M2128.33 991.19h0M2074.36 1034.14h0M1910.27 1083.65h0M1872.27 929.79h0M1983.34 1019.45h0M1839.83 1019.03h0M2073.46 941.32h0M1889.48 1048.72h0M1927.38 967.59h0M1946.43 1047.16h0M2021.74 944.56h0M1892.71 1065.41h0M1912.45 872.19h0M1942.64 996.92h0M1997.06 996.47h0M2059.15 873.59h0M1912.47 973.66h0M2048.9 926.36h0M1997.04 974.73h0M2082.61 1064.52h0M2108.09 885.1h0M2065.51 1087.01h0M1959.5 1016.91h0M2011.07 1019.68h0M2027.96 908.49h0M2086.34 1054.16h0M1887.96 1043.92h0M1917.98 1082.48h0M2015 962.43h0M1913.34 1086.87h0M2065.02 1016.71h0M1962.31 1030.53h0M2005.4 858.43h0M2158.37 908.89h0M1869.17 1033.77h0M2092.72 914.25h0M2059.16 846.02h0M1931.53 964.41h0M2048.06 907.36h0M1959.79 1020.77h0M2106.05 996.32h0M1928.01 1067.18h0M1957.71 1033.77h0M2078.07 1066.68h0M1865.45 962.48h0M2065.5 988.46h0M1923.94 864.5h0M1878.35 886.24h0M2070.6 798.15h0M1925.47 932.52h0M2142.67 1025.2h0M1898.82 1041.7h0M1983.7 1014.66h0M2074.58 1000.97h0M2132.26 783.96h0M1940.86 984h0M1956.55 1030.75h0M2073.58 1041.84h0M2004.26 951.4h0M2085.52 1070.29h0M2120.9 1019.5h0M1927.53 1082.45h0M2048.51 1038.29h0M2073.99 1019.08h0M1930.07 989.59h0M2090.5 852.27h0M2021.93 802.55h0M2064.13 1080.47h0M1890.81 1024.62h0M1911.22 1074.65h0M1935.19 1030.14h0M1997.84 1010.85h0M2127.7 1003.28h0M2065.56 952.44h0M2030.25 996.59h0M2112.82 958.45h0M2042.71 1018.35h0M2093.63 944.23h0M2031.86 993.06h0M2014.26 1008.15h0M1953.85 1028.39h0M2002.71 886.37h0M1972.3 1003.68h0M2060.79 1031.06h0M2052.92 864.58h0M2050.8 1007.03h0M1935.17 984.43h0M1927.74 1086.33h0M2102 963.65h0M1931.01 998.07h0M2101.38 987.04h0M2088.89 1034.56h0M1873.51 1007.11h0M1918.5 1000.49h0M1975.01 871.88h0M2016.48 987.14h0M2112.11 993.31h0M1932.04 1068.79h0M2034.48 940.69h0M1931.01 1085.57h0M1904.49 1002.23h0M1902.63 1081.65h0M1967.84 934.39h0M2015.99 1003.48h0M2068.53 1085.97h0M2064.85 1034.04h0M2083.79 990.05h0M1855.32 900.66h0M2072.65 1077.91h0M2017.66 1022.69h0M1903.31 1075.51h0M1907.45 1105.11h0M1904.43 1055.05h0M2065.25 996h0M1862.76 907.46h0M2052.85 1027.49h0M1924.65 967.39h0M1961.02 964.71h0M1909 1016.38h0M1928.68 974.66h0M1935.72 1011.13h0M2011.07 1004.81h0M2105.31 939.2h0M2084.51 847.69h0M2077.53 1047.31h0M2078.23 980.63h0M1952.47 994.38h0M1946.89 1046.55h0M2024.57 1000.17h0M1906.51 1025.18h0M1968.46 1019.68h0M1999.87 876.28h0M1941.17 958.56h0M2043.7 1003.02h0M1928.95 1068.15h0M1979.65 968.34h0M1955.01 1020.02h0M2108.23 1038.04h0M2038.98 1017.46h0M1914.73 1075.6h0M2005.06 957.38h0M1914.02 978.31h0M1870.08 1079.1h0M2068.99 1047.06h0M1932.98 995.26h0M2119.81 865.77h0M1984.22 959.64h0M2026.48 984.63h0M1970.71 952.19h0M1915.94 1021.14h0M2147.32 1022h0M2099.45 1024.45h0M1915.3 1104.17h0M1988.49 1003.93h0M1978.12 952.7h0M2007.77 1015.14h0M1904.29 972.76h0M1919.05 928.42h0M2160.15 971.42h0M2105.93 1076.53h0M1982.9 942.37h0M1978.68 962.19h0M2030.32 1019.3h0M2062.12 965.53h0M2056.99 877.84h0M1892.1 1027.89h0M2007.24 976.08h0M2078.63 1026.62h0M1933.7 962.94h0M2006.11 925.44h0M1912.91 1014.37h0M2000.21 1010.8h0M1952.2 953.7h0M2084.26 1044.03h0M2086.25 1033.74h0M1908.17 1086.36h0M2071.07 1101.06h0M2021.28 974.01h0M2107.87 932.95h0M2095.1 1032.22h0M1969.3 1018.41h0M1928.64 1070.22h0M1903.37 1093.02h0M2157.45 942.04h0M1848.16 980.09h0M2053.72 1038.56h0M1896.35 984.86h0M2159.55 945.82h0M1927.38 1080.33h0M2018.68 971.77h0M1986.71 992.4h0M1938.48 1018.94h0M1936.75 1026.42h0M2114.46 830.22h0M1936.87 937.77h0M1994.69 1012.89h0M1846.73 938.2h0M1918.47 922.52h0M2044.18 1022.44h0M2024.21 1014.73h0M1995.49 1013.25h0M1932.42 913.27h0M1919.92 973h0M2005.89 997.46h0M1957.15 1037.04h0M2021.37 980.18h0M2025.99 1028.64h0M1950.24 956.66h0M1908.27 1045.08h0M1973.35 1001.4h0M1865.82 1041.38h0M2089.1 1061.25h0M1986.09 974.79h0M1928.45 1064.12h0M2060.68 1067.04h0M2061.75 1051.79h0M1994.89 1009.94h0M2033.5 991.37h0M2088.45 964.59h0M1929.58 955.19h0M1922.22 1049.36h0M2075.38 1082.9h0M1932.81 969.68h0M1987.42 1013.95h0M1916.63 1080.68h0M2046.8 1000.52h0M1926.12 1102.39h0M1905.78 931.8h0M2007.97 1014.94h0M1864.49 993.63h0" stroke="#000" stroke-opacity="0.125" stroke-width="4.1" stroke-linecap="round" fill="none" filter="url(#bl)"/>
<path d="M2072.64 1025.9h0M2046.23 864.8h0M2127.89 1005.22h0M2042.17 974.74h0M2075.9 898.36h0M1949.34 976.89h0M1944.09 1053.4h0M1993.11 819.71h0M2024.38 976.16h0M2097.11 1054.34h0M2089.71 1079.25h0M2069.71 1099.36h0M2079.76 1054.68h0M2026.61 934.25h0M1922.95 872.26h0M1933.63 883.93h0M2072.28 1054.41h0M2048.22 1040.16h0M2149.48 1030.4h0M1970.84 966.65h0M2032.33 951.79h0M2078.79 1011.77h0M1916.59 1037.92h0M1984.39 858.44h0M2111.43 891.98h0M1916.78 1077.36h0M2039.56 1029.9h0M1941.93 1012.57h0M1967.39 978.11h0M1979.65 1013.63h0M2046.29 881.51h0M2120.63 957.98h0M1889.23 1077.38h0M1965.61 908.5h0M1904.72 1093.1h0M2166.18 771.91h0M2115.02 999.49h0M1926.71 1097.35h0M1966.92 1004.53h0M2060.16 910.57h0M1943.35 1007.97h0M2023.1 933.46h0M1906.33 878.93h0M2099.8 1070.58h0M1970.93 1009.29h0M1921.52 1086.34h0M2075.96 1078.82h0M2065.95 1032.97h0M1995.86 919.07h0M1976.96 986.17h0M2082.61 1015.85h0M1977.94 938.72h0M2029.54 952.71h0M2014.48 1004.53h0M2064.98 855.69h0M2140.07 906.06h0M2068.23 1058.9h0M1901.03 849.93h0M1963.81 925.14h0M1986.19 864.07h0M2021.22 979.42h0M2098.79 1048.01h0M1920.39 1048.53h0M2104.51 1088.46h0M1948.11 1032.96h0M1950.5 1039.04h0M1939 892.14h0M1968.99 953.57h0M1886.45 966.85h0M2050.02 1010.8h0M2164.07 995.06h0M2031.2 917.39h0M1948.41 995.49h0M2065.59 1083.61h0M1899.33 983.44h0M1963.44 1011.77h0M2094.74 937.56h0M2015.52 922.46h0M1941.53 960.02h0M1975.73 924.79h0M1906.64 1042.73h0M2068.28 1089.68h0M1973.51 1004.07h0M1942.4 1058.99h0M1902.37 984.51h0M1904.95 947.14h0M2162.08 954.39h0M1948.64 999.52h0M1912.75 973.61h0M1889.45 996.34h0M2083.19 1043.02h0M1992.02 1008.27h0M1921.14 1094.56h0M1996.52 1014.86h0M2089.29 932.36h0M2000.33 923.21h0M2079.81 975.01h0M1984.34 994.81h0M2072.25 935.26h0M2075.11 1041.81h0M1868.13 1061.34h0M2089.75 1039.4h0M2059.38 966.55h0M2046.01 1000.16h0M1925.04 1013.64h0M1982.58 934.28h0M2008.89 859.48h0M1927.47 1029.49h0M1910.28 964.58h0M1931.13 915.61h0M1926.63 949.59h0M2132.47 873.56h0M2104.85 1087.82h0M2049.31 970.98h0M1854.24 857.64h0M1932.15 998.58h0M1935.71 1042.73h0M1851.2 875.87h0M1869.7 1046.71h0M1941.56 1031.94h0M2167.5 1056.7h0M2090.04 1025.88h0M2047.81 944.59h0M1980.17 987.37h0M1968.73 1019.88h0M2105.41 1021.67h0M2133.01 1037.84h0M1951 1014.41h0M2042.84 1004.19h0M2077.34 1066.04h0M2121.56 771.17h0M1919.76 1025.11h0M2003.1 1018.27h0M2076.56 1051.02h0M2066.95 1076.67h0M1903.55 968.72h0M2020.17 991.54h0M1915.16 1094.25h0M2011.58 923.98h0M1932.5 1071.03h0M2016.84 998.11h0M1929.22 1016.78h0M1925.91 1066.46h0M1980.72 971.73h0M2020.57 999.88h0M2015.32 980.61h0M2077.35 1101.96h0M2060.5 1044.08h0M2009.5 950.81h0M1844.45 952.53h0M1894.71 871.88h0M2038.77 951.48h0M2070.87 1065.05h0M2133.09 1025.79h0M1948.28 1033.87h0M2008.25 1016.47h0M1995.77 847.69h0M2119.23 1024.67h0M2092.14 1065.09h0M2067.87 1005.38h0M1977.8 963.2h0M2069.48 918.56h0M1930.96 1023.5h0M2112.72 1004.92h0M1909.16 1030.14h0M2078.42 862.85h0M1909.58 1067.55h0M1974.72 946h0M2068.33 1051.03h0M1911.56 888.11h0M1974.53 919.62h0M1866.69 1014.88h0M2050.52 1026.71h0M1861.16 1000.62h0M2079.86 895.58h0M1997.06 897.78h0M2106.84 982.11h0M1986.42 918.67h0M2074.29 1031.91h0M2009.45 1008.81h0M2068.86 1048.56h0M1957.2 985.57h0M2086.16 990.65h0M1952.7 1016.63h0M1900.97 1032.07h0M2072.58 1063.67h0M1895.84 1064.05h0M2039.9 1022.1h0M1948.17 1051.15h0M1956.9 1013.39h0M1909.87 1084.21h0M1965.25 999.04h0M1948.48 885.96h0M2071.15 1065.59h0M2052.01 994.48h0M1929.3 1043.75h0M2096.33 958.95h0M2102.99 807.05h0M2099.14 1023.95h0M1911.74 959.06h0M1918.7 1035.1h0M2082.33 1037.07h0M1972.53 947.25h0M2029.4 1030.62h0M2088.57 979.74h0M2018.65 1019.41h0M2108.31 1054.17h0M2021.41 1000.97h0M2065.73 995.01h0M2063.19 1060.22h0M2051.65 1033.63h0M1960.91 1027.35h0M1863.94 1081.97h0M1974.88 988.38h0M1924.42 1064.05h0M2057.64 987.36h0M2071.12 910.05h0M1843.45 976.15h0M2082.36 788.67h0M2102.1 1082.92h0M1994.53 891.82h0M1857.12 970.89h0M1879.09 944.41h0M1914.96 1075.65h0M1895.45 1044.11h0M1955.84 861.8h0M2069.89 1084.18h0M1930.31 1058.65h0M1893.19 937.28h0M2111.51 1053.66h0M1969.43 945.89h0M2016.82 917.47h0M2029.19 973.81h0M1843.08 871.95h0M1900.36 1003.94h0M1919.15 880.32h0M2000.17 1002.79h0M2004.16 895.62h0M1925.03 1093.72h0M1894.92 1077.31h0M2077.43 1029.3h0M2009.69 917.66h0M2002.07 971.19h0M1878.75 1027.51h0M2144.25 999.75h0M2070.44 1088.44h0M1950.6 1032.58h0M1842.02 916.08h0M2010.92 1018.92h0M1961.83 966.4h0M1918.17 1022.72h0M2039.6 886.44h0M1973.9 999.93h0M2105.71 1052.44h0M1905.06 1075.64h0M2053.76 1039.81h0M1918.1 1076.28h0M2123.92 973.69h0M2101.05 915.47h0M2077.28 1069.91h0M2048.51 945.65h0M1920.2 1085.78h0M2088.26 907.89h0M1963.36 884.13h0M2011.92 973.8h0M2136.62 1019.87h0M1913.02 1058.6h0M2084.11 945.3h0M1970.11 991.58h0M2051.7 968.55h0M2071 1068.39h0M1889.71 925.1h0M2070.95 1020.52h0M2060.13 1054.82h0M1954.64 1013.11h0M1990.91 991.85h0M2098.71 1041.9h0M1916.21 984.45h0M1872.85 1073.66h0M1978.54 982.21h0M1942.38 985.09h0M2070.14 1006.55h0M2033.49 952.14h0M1910.81 1072.21h0M2041.08 1032.6h0M2093.01 824.49h0M2041.03 1016.06h0M1880.68 1021.39h0M2055.85 1031.13h0M2064.74 1083.69h0M1915.92 995.11h0M2072.09 1092.24h0M1967.87 994.28h0M2092.55 1015.07h0M1925.26 1070.51h0M1960.85 947.6h0M1938 1023.71h0M2088.91 1033.46h0M2048.52 933.33h0M1935.32 1016.29h0M1948.23 975.79h0M1923.04 1099.66h0M2086.48 1103.74h0M1932 1050.51h0M1932.2 922.99h0M2084.11 820.24h0M1916.56 1011.57h0M2039.01 1023.44h0M2054.96 979.16h0M1924.79 923.47h0M1936.09 1051.28h0M1932 964.8h0M1900.68 1071.6h0M2072.01 1085.36h0M2115.41 945.91h0M1927.3 949.21h0M2009.92 936.52h0M1973.48 988.12h0M2085.98 1076.34h0M1844.37 1067.49h0M1990.21 1013.94h0M1890.29 958.76h0M2027.63 912.09h0M1887.1 1081.31h0M2005.55 1008.43h0M2147.69 803.36h0M1967.48 969.07h0M1950.77 1016.81h0M2091.73 945.04h0M2060.89 847.26h0M2087.77 1058.28h0M1985.76 946.92h0M2068.03 975.28h0M1845.71 1037.7h0M2066.35 1059.85h0M1938.38 1062.21h0M1970.03 943.99h0M2054.91 1039.66h0M2039.1 976.42h0M1846.67 932.16h0M2008.71 1010.73h0M1839.59 1017.48h0M2087.8 1060.66h0M2009.71 928.41h0M2100.78 919.86h0M1924.81 1075.88h0M2100.43 884.61h0M2084.4 1032.08h0M1997.99 951.39h0M2018.19 1008.22h0M1926.61 1028.91h0M1903.62 1067.67h0M2113.95 1000h0M2023.04 947.68h0M2040.16 992.51h0M2091.01 1057.51h0M1920.14 1047.6h0M1917.71 1101.08h0M1940.96 1043.7h0M1897.87 1048.45h0M2032.81 893.86h0M1919.72 927.17h0M2000.91 963.46h0M2064.96 988.15h0M2087.84 1057.42h0M2017.25 889.18h0M2107.68 976.03h0M1904.97 977.02h0M2016.32 974.52h0M2090.61 1056.58h0M2132.67 995.59h0M1998.74 974.04h0M1997.31 972.04h0M1970.18 959.81h0M1907.89 1084.8h0M2111.1 1028.87h0M1930.3 1059.4h0M2102.01 1017.84h0M2023.8 1023.78h0M1908.04 1019.34h0M1905.32 1067.23h0M1908.29 1093.38h0M1926.34 993.28h0M1883.67 1062.9h0M2056.57 1047.97h0M1969.03 973.2h0M2038.82 997.99h0M2080.84 1014.12h0M1988.87 935.84h0M2023.59 933.3h0M2028.61 1026.11h0M2053.89 1041.85h0M2140.01 1069.66h0M1949.37 1046.82h0M1853.57 1007.03h0M1885.25 1098.74h0M1981.54 801.7h0M2058.38 1040.45h0M2039.42 1014.28h0M1908.04 1053.72h0M2072.24 904.72h0M1971.96 952.88h0M2096.69 926.12h0M1888.62 873.4h0M1960.27 1010.59h0M2015.75 1002.78h0M1925.54 1103.18h0M2060.08 1000.72h0M1959.3 1007.66h0M1938.83 1039.59h0M1893.42 1012.77h0M1971.47 963.14h0M2046.78 1024.81h0M2063.56 1075.51h0M2013.5 1004.82h0M2056.6 1039.79h0M2040.28 1019.64h0M2023.26 965.53h0M1859.51 946.51h0M2073.67 1056.07h0M2028.2 931.81h0M1870.66 904.74h0M2113.5 1078.17h0M2109.23 1081.14h0M2065.54 871.26h0M2012.97 971.99h0M1945.24 990.24h0M2033.26 1031.63h0M1939.06 849.37h0M1907.46 956.17h0M2028.06 1031.25h0M2080.48 1013.76h0M2018.16 928.57h0" stroke="#000" stroke-opacity="0.125" stroke-width="4.1" stroke-linecap="round" fill="none" filter="url(#bl)"/>
<path d="M1934.3 1061.05h0M2055.06 1009.44h0M2066.79 1088.4h0M2073.3 1059.19h0M2014.83 979.08h0M1912.67 961.39h0M2062.69 1026.82h0M1935.2 1072.35h0M1997.6 980.07h0M1903.92 1065.72h0M2109.3 770.11h0M2041.89 1003.8h0M2104 1026.3h0M2056.83 998.69h0M2132.01 905.97h0M2077.68 1060.26h0M1925.44 867.56h0M1903.04 1061.41h0M1925.27 1056.19h0M2080.02 1072.67h0M1880 976.63h0M1905.52 921.93h0M2078.68 953.23h0M2053.54 1023.12h0M2059.52 1066.94h0M1953.28 1042.65h0M2067.41 1064.92h0M2099.37 1036.41h0M1913.6 1100.79h0M1941.24 945.97h0M1944.85 1051.97h0M1890.91 1030.64h0M1962.18 1015.89h0M1886.86 783.64h0M2011.64 1021.91h0M2125.43 951.91h0M2109.65 1074.14h0M1977.75 1015.53h0M1965.65 1014.19h0M1999.07 773.17h0M2054.03 999.02h0M1869.71 1029.35h0M2140.05 995.35h0M2120.25 899.91h0M1907.68 1041.4h0M1901.19 1054.15h0M2017.34 998.65h0M1927.95 1055.25h0M2069.64 1090.82h0M1908.42 1019.48h0M1942.98 1027.39h0M2044.5 1007.09h0M2134.27 962.76h0M2034.38 976.08h0M1951.13 987.67h0M2049.82 999.16h0M2050.15 985.34h0M2073.42 989.27h0M2091.8 1098.31h0M1914.28 1033.68h0M2078.65 1030.09h0M2014.81 1015.01h0M2157.32 830.71h0M2023.83 1020.36h0M1969.64 935.16h0M2092.33 955.37h0M2000.19 1017.83h0M2113.42 1013.7h0M2028.94 1007.2h0M2010.89 997.25h0M2007.59 964.99h0M1894.19 838.85h0M1896.27 923.84h0M2070.52 1061.49h0M1928.09 1032.74h0M2105.91 1000.34h0M2069.11 920.04h0M1975.88 873.86h0M1916.02 1093.95h0M2001.92 997.35h0M2094.71 909.29h0M1942.59 892.64h0M1984.56 1003.81h0M2051.17 883.42h0M2067.12 1066.8h0M1966 938.68h0M2078.4 904.73h0M1924.12 1039.96h0M2025.79 978.64h0M1999.47 823.38h0M2026.46 1011.46h0M1908.21 1021.38h0M2073.47 1030.43h0M1946.37 987.93h0M2066.96 973.24h0M2014.91 1004.03h0M2027.93 995.56h0M2028.45 1028.43h0M1962.47 992.59h0M1923.76 1096.97h0M2139.21 932.31h0M2005.32 999.15h0M2089.16 1049.5h0M1935.44 1030.67h0M2050.82 1004.19h0M1886.51 1017.32h0M1998.1 994.49h0M2022.95 954h0M1895.76 992.08h0M1963.29 896.77h0M1909.67 1088.98h0M2009.4 1007.38h0M2156.11 967.13h0M2040.58 771.46h0M2107.03 1029.48h0M2101.23 1081.63h0M1842.34 985.69h0M1919.58 893.76h0M2069.45 1032.69h0M1966.35 962.48h0M1962.86 1026.64h0M1945.35 914.69h0M1915.59 949.82h0M2017.97 952.42h0M2114.33 1035.63h0M1885.73 998.95h0M2063.65 1065.73h0M1856.07 1004.57h0M2167.97 963.73h0M2040.82 1016.97h0M2052.31 944.21h0M2056.74 1027.75h0M2160.46 844.41h0M1995.73 775.97h0M1887.21 1011.07h0M2065.22 1081.35h0M2152.43 904.02h0M2003.13 957h0M2034.85 1032.26h0M2005.23 997.55h0M1935.33 1048.3h0M1990.89 923.99h0M1913.49 1047.61h0M2006.55 996.58h0M1869.6 909.66h0M2084.52 819.7h0M1912.26 1072.05h0M2013.4 1019.22h0M1942.34 993.88h0M2116.66 858.1h0M2026.91 1007.09h0M1918.04 913.46h0M2042.22 1019.48h0M2065.11 1000.53h0M1951.02 1021.53h0M1925.88 1085.03h0M2063.44 1040.95h0M2140.46 1042.67h0M2069.37 1035.05h0M1860.54 969.8h0M2054.85 1018.33h0M2116.45 1047.3h0M2053.63 989.68h0M2048.01 960.23h0M2050.07 927.27h0M2017.85 957.15h0M2082.68 991.94h0M2019.68 1017.98h0M2115.6 1088.84h0M2081.87 1025.26h0M2002.96 1003.29h0M1982.62 963.14h0M2161.99 964.62h0M2069.7 988.34h0M2134.66 857.41h0M1892.28 1004.91h0M1969.18 1000.03h0M2061.41 1010.17h0M2030.83 980.51h0M1941.69 973.88h0M1981.39 919.27h0M1878.04 1015.59h0M2050.97 975.14h0M1916.13 1022.79h0M1914.94 1074.15h0M1995.69 987.71h0M1890.8 1046.85h0M2072.19 1098.21h0M1984.41 982.22h0M2070.01 828.09h0M2126.53 976.29h0M1908.54 1076.99h0M2082.14 896.29h0M1862.13 905.24h0M1969.95 961.95h0M1988.48 969.81h0M2058.31 912.6h0M1926.43 1040.57h0M2069.78 1015.61h0M1965.16 1018.29h0M1927.39 1004.12h0M1878.86 1037.12h0M1921.7 1041.46h0M2088.57 1082.75h0M2076.49 900.16h0M1880.01 1026.69h0M2164.2 999.76h0M1904.15 1013h0M1964.27 1032.94h0M1937.61 1047.68h0M1996.45 992.27h0M2001.5 1000.34h0M2085.83 1029.14h0M2113.24 1003.86h0M1935.51 947.58h0M2114.42 832.9h0M2043.63 1033.74h0M1890.99 1021.7h0M1934.49 1049.59h0M1920.47 1006.33h0M2063.71 1021.06h0M1909.63 915.76h0M2155.72 967.52h0M2024.87 1007.09h0M2055.34 1018.04h0M2025.87 1033.06h0M2051.88 980.37h0M1960.66 1019.68h0M2067.11 1059.68h0M1988.7 1003.52h0M1895.96 956.15h0M1900.52 1077.94h0M1961.25 996.35h0M1962.49 1029.97h0M1863.2 890.64h0M1924.59 1023.32h0M1965.29 1020.54h0M2001.98 977.26h0M2166.28 976.11h0M2084.12 1037.34h0M2102.77 1090.89h0M1908.95 1097.84h0M2073.58 1103.62h0M2129.7 1025.16h0M1918.77 1068.56h0M1985.28 959.3h0M2082.33 1091.12h0M1850.22 943.87h0M1994.39 929.73h0M1925.96 1073.84h0M2017.22 777.67h0M2080.1 993.44h0M1915.17 964.36h0M1928.24 1043.74h0M2122.69 1048.86h0M2142.19 1045.65h0M2008.01 962.49h0M2082.91 929.6h0M2043.1 1013.69h0M2048.67 1006.34h0M1878.4 950.43h0M2026.75 1002.8h0M2016.55 1020h0M2096.49 1091.78h0M1950.86 960.3h0M1968.28 881.8h0M1963.57 996.04h0M1974.35 918.81h0M1954.1 990.47h0M1934.79 1036.3h0M2074.89 942.38h0M2031.37 960.54h0M1880.2 991.84h0M1998.51 1013.93h0M1961.06 1025.07h0M1928.6 1078.56h0M1961.8 982.48h0M1896.14 1057.71h0M2127.19 1003.52h0M1887.44 1059.91h0M2073.73 1017.18h0M1840.47 1047.91h0M1870.33 1091.15h0M2039.71 1018.5h0M1866.3 891.24h0M1943.35 962.47h0M2105.74 1019.57h0M2008.91 1018.66h0M2157.72 903.41h0M2155.85 822.38h0M2021.49 937.45h0M2078.6 1051.69h0M2062.09 1014.27h0M2024.99 998.89h0M2016.83 1017.2h0M1931.91 1068.96h0M2112.28 1040.9h0M1927.83 901.19h0M1974.05 927.25h0M1941.36 1009.71h0M1984.07 998.83h0M1993.63 974.26h0M1945.06 919.58h0M1933.72 983.28h0M1887.76 1053.09h0M2069.02 1014.38h0M1949.46 821.43h0M2006.88 912.53h0M1911.98 1020.14h0M1883.39 1074.73h0M2099.44 932.96h0M2043.31 972.27h0M2081.38 1057.04h0M2079.22 1032.1h0M2101.88 976.02h0M2101.32 1008.41h0M1875.92 1012.74h0M1951.65 1036.87h0M2027.92 992.46h0M2027.52 959.87h0M1868.95 838.5h0M1962.21 937.15h0M1995.56 922.16h0M2078.43 1058.62h0M1969.88 986.62h0M1919.79 872.04h0M2063.27 1075.88h0M1921.16 1047.51h0M1974.94 1022.07h0M2016.78 1004.68h0M1939.66 1051.71h0M1910.23 989.55h0M1936.56 1028.7h0M2006.75 1001.74h0M1985.82 1003.23h0M2066.2 883.87h0M2065.28 914.42h0M1949.17 981h0M1977.55 884.7h0M2074.59 1094.61h0M1920.59 898.06h0M1842.17 1073.03h0M1922.67 931.25h0M2092.56 1074.22h0M2056.69 920.96h0M2028.01 1013.54h0M2005.22 979.67h0M1959.63 990.04h0M1944.91 772.48h0M2047.58 843.97h0M1893.37 1036.94h0M1913.96 1034.01h0M2050.08 983.36h0M1912.71 1105.08h0M1925.39 1105.95h0M1903.33 1012.9h0M2094 1060.56h0M2100.43 895.93h0M1931.04 1069.78h0M1837.79 1008.08h0M1869.48 1075.71h0M1998.43 959.69h0M1907.17 1084.09h0M2074.58 866.44h0M1955.5 1035.94h0M2087.03 1008.97h0M1930.82 1075.19h0M2092.82 914.82h0M1975.95 1003.51h0M2101.6 1085.68h0M1864.74 998.91h0M2073.36 957.79h0M1901.01 1028.52h0M1980.28 964.22h0M2057.57 1026.33h0M2052.56 1047.29h0M2055.86 934.75h0M1925.92 1017.72h0M1921.22 902.09h0M1851.13 909.81h0M2035.42 1006.3h0M2071.32 853.57h0M1973.48 963.6h0M1996.06 997.78h0M2058.26 991.96h0M1865.22 1092.67h0M1929.41 1042.93h0M1955.67 973.9h0M2039.8 948.74h0M2036.32 948.77h0M2055.38 1048.14h0M1979.05 1001.23h0M2072.51 1011.01h0M1920.91 994.47h0M2139.22 977.55h0M1929.63 981.63h0M1934.49 1064.97h0M2124.47 1065.72h0M2086.44 1051.03h0M1943.96 1024.49h0M2067.44 1092.38h0M2041.22 1002.93h0M2044.86 990.78h0M1863.14 1040.83h0M1963.26 1012.14h0M2120.8 1050.15h0M2116.05 1033.32h0M1912.25 835.94h0M2051.95 999.96h0M2139.06 910.59h0M1952.84 1037.4h0M1903.09 974.33h0M2041.17 1002.86h0M2134.53 849.42h0M1930.03 1055.17h0M2095.79 1103.58h0M1874.12 1009.36h0M1938.54 1039.64h0M2008.32 986.59h0M1938.1 1054.86h0M2086.59 957.06h0M1848.99 998.25h0M2085.51 1068.73h0M1929.86 1048.1h0M2030.87 945.94h0M2086.12 1089.83h0M1965.83 954.55h0M1941.33 983.8h0M1932.68 919.39h0M2033.08 1008.34h0M1955.14 976.04h0M1970.81 967.13h0M2053.9 986.33h0" stroke="#000" stroke-opacity="0.125" stroke-width="4.1" stroke-linecap="round" fill="none" filter="url(#bl)"/>
<path d="M2075.2 804.3h0M1879.81 942.29h0M1978.36 964.75h0M2031.71 927.2h0M2008.58 931.53h0M1936.34 970.28h0M1957.74 970.12h0M2007.47 1007.51h0M2108.26 1076.35h0M1915 1103.9h0M1960.3 994.15h0M1993.01 902.26h0M1963.39 981.2h0M2104.04 1013.62h0M1895.33 890.28h0M2041.17 1015.62h0M2072.57 1063.65h0M1999.06 900.84h0M1959 770.43h0M2150.51 1024.04h0M2118.38 952.18h0M1903.32 930.52h0M1913.24 1046.48h0M1871.44 1025.97h0M2052.33 969.41h0M1934.9 922.54h0M2162.36 949.67h0M1855.14 1006.19h0M2079.61 1006.52h0M2022.29 1015.85h0M1962.86 1012.2h0M1989.94 973.26h0M1943.58 948.01h0M2055.54 1031.81h0M1908.04 1073h0M2063.5 1016.57h0M2083.24 1015.18h0M2101.49 1084.17h0M1938.48 1038.86h0M2024.23 1029.08h0M1903.28 1082.29h0M2150.43 981.67h0M1996.41 1009.46h0M2047.25 1008.19h0M1914.99 1062.95h0M1978.88 979.8h0M2093.65 1102.49h0M2062.17 1072.2h0M1988.08 1008.51h0M1877.48 1055.45h0M2052.9 867.77h0M1954.49 918.54h0M1996.7 987.65h0M1891.05 1008.86h0M2027.4 1015.04h0M1915.6 1027.96h0M1909.73 1045.38h0M1907.44 842.81h0M2003.94 903.12h0M2025.57 918.64h0M1923.84 1085.84h0M2033.27 946.07h0M1925.68 1043.84h0M2137.92 983.35h0M2050.88 1029.45h0M2068.88 1092.88h0M1965.28 1006.29h0M2012.27 1006.32h0M2111.12 834.99h0M1920.82 1033.83h0M1920.14 1050.63h0M1906.21 971.54h0M1994.52 885.35h0M2051.54 994.42h0M2069.52 1069.78h0M1923.69 1019.89h0M1967.67 922.41h0M1900.72 982.55h0M1870.25 990.1h0M1891.65 902.18h0M2060.8 827.51h0M2102.82 1020.27h0M2060.34 944.45h0M1891.05 961.58h0M2065.57 1072.73h0M2064.3 1041.52h0M2111.36 946.76h0M1895.74 1004.94h0M1992.27 964.59h0M1930.03 1074.59h0M1962.13 992.62h0M1923.14 1100.58h0M1886.92 1033.26h0M1920.42 1103.42h0M2062.33 1078.4h0M2081.94 938.3h0M1857.04 1017.47h0M2029.94 1032.01h0M1912.2 1104.11h0M1911.26 1048.2h0M1904.19 1032.49h0M2146.05 1047.26h0M2077.97 1057.92h0M1907.42 1085.94h0M2021.28 860.69h0M2060.17 1060.55h0M2049.44 1014.86h0M1936.62 1043.82h0M1966.4 890.07h0M1987.24 1008.65h0M2075.45 1068.51h0M1978.77 898.34h0M2066.56 897.75h0M2108.8 945.81h0M1848.17 1028.21h0M2035.78 1022h0M2126.31 799.28h0M1927.44 1094.6h0M2016.33 1011.77h0M2066.82 1049.43h0M2013.74 908.04h0M2004.54 1005.47h0M1920.74 1086.17h0M1839.2 921.59h0M1987.85 971.2h0M2104.56 1058.69h0M1922.65 990.46h0M2088.45 927.78h0M1978.25 991.88h0M1837.96 917.63h0M2008.42 867.37h0M2012.66 908.97h0M1919.14 1099.3h0M2081.61 956.74h0M1947.84 993.42h0M2143.32 802.33h0M1978.75 1008.77h0M1952.69 920.82h0M2115.83 981.97h0M1845.73 990.63h0M2151.46 994.03h0M2094.38 1034.7h0M1974.93 894.19h0M1918.06 1068.17h0M2091.79 950.26h0M1902.89 1038.74h0M2094.82 856.29h0M2009.74 977.85h0M1936.32 975.97h0M2056.75 1019.94h0M1931.13 1033.26h0M2038.61 1008.56h0M1931.25 1077.94h0M1921.32 996.43h0M1991.76 1010.67h0M1903.59 1097.63h0M1915.62 868.73h0M1896.46 966.33h0M1974.13 969.82h0M1916.86 1059.06h0M1900.05 1103.53h0M1952.84 953.63h0M2055.5 986.52h0M1941.83 1030.5h0M1887.43 1006.48h0M1918.4 988.16h0M1939.76 965.54h0M2072.82 916.81h0M1932.37 961.13h0M1966.47 1008.55h0M1943.12 940.31h0M2021.25 955.64h0M2081.13 1054.13h0M2136.74 876.84h0M2086.97 1037.71h0M2146.36 889.99h0M1903.01 1047.42h0M2046.77 1032.28h0M1911.15 1044.48h0M1924.53 1022.81h0M2033.29 979.25h0M2037.39 1024.92h0M2119.78 1015.45h0M1883.35 966.26h0M1927.6 1024.21h0M2009.21 960.02h0M1985.24 857.28h0M2012.12 1008.34h0M2119.11 1022.39h0M1920.12 1100.66h0M2046.41 924h0M1936.73 895.08h0M2087.79 1050.84h0M2072.73 987.62h0M2068.03 1090.39h0M1992.69 955.81h0M1942.73 1011.78h0M2016.73 999.13h0M1876.96 1009.14h0M2066.67 1047.22h0M1895.45 946.62h0M1903.44 962.88h0M2014.58 988.94h0M1976.95 1011.6h0M2057.64 1031.33h0M2029.19 964.67h0M2031.78 903.46h0M2141.47 878.75h0M1897.07 1056.18h0M1880.06 1013.79h0M2054 1050.6h0M1993.13 972.91h0M1930.32 985.49h0M1891.74 1081.81h0M1973.22 873.02h0M1950.92 965.06h0M1918.79 885.08h0M2079.28 786.51h0M2055.97 1044.9h0M1914.35 1100.11h0M1993.55 999.72h0M2005.47 923.55h0M1880.35 1006.72h0M1990.16 1011.85h0M2097.76 1064.28h0M1977.69 914.92h0M1856.16 1026.16h0M2016.52 1008.66h0M1912.24 1097.86h0M2116.04 860.61h0M1902.74 943.31h0M2068.53 1066.94h0M1952.64 782.49h0M1929.31 985.78h0M1982.84 993.96h0M1980.34 980.22h0M2060.39 925.08h0M1878.02 959.1h0M1871.7 1029.99h0M1909.48 1045.27h0M2070.62 1078.64h0M2087.09 988.45h0M2048.03 900.97h0M2087.42 1048.51h0M1888.76 1082.79h0M1914.4 1005.69h0M2061.33 871.14h0M2048.12 943.55h0M1937.86 1056.3h0M1918.68 1062.48h0M2104.42 986.61h0M2110.06 1028.77h0M1926.89 1095.83h0M1905.62 1027.3h0M1976.43 982.5h0M1862.4 961.64h0M2003.62 915.09h0M2164.73 1028.81h0M2090.78 968.09h0M2067.13 939.3h0M1956.64 981.4h0M1858.91 867.43h0M2035.92 981.37h0M2085.31 1088.46h0M2034.77 1013.31h0M2098.44 931.74h0M2080.93 1092.66h0M1923.37 1104.58h0M1920.31 983.11h0M2043.95 988.44h0M2013.19 978.97h0M2072.39 951.79h0M2006.96 995.62h0M2024.74 974.27h0M2045.19 1034.99h0M2042.77 1022.94h0M2049.73 986.91h0M1939.16 1001.37h0M1901.03 1084.69h0M2055.58 992.82h0M2020.33 1015.08h0M1994.07 878.13h0M2102.35 989.54h0M2081.95 986.25h0M2008.91 983.22h0M1887.64 996.59h0M1915.92 1014.23h0M1913.21 1088.13h0M1900.99 974.82h0M1972.41 993.6h0M2032.52 915.94h0M1988.51 919.15h0M1853.75 1065.94h0M2028.16 1022.93h0M2034.98 994.08h0M2114.45 1026.92h0M1872.24 878.86h0M2069.64 964.71h0M1931.63 898.03h0M1996.62 981.95h0M2070.15 873.36h0M1881.2 1050.9h0M2076.35 1018.41h0M1904.15 1088.17h0M2042.53 1005.61h0M1933.58 1040.16h0M2041.02 1005.41h0M2057.17 1009.87h0M2080.86 984.48h0M2057.27 1048.63h0M1925.16 1051.17h0M1894.17 983.59h0M1938.62 1000.62h0M2091.22 1077.12h0M1889.28 1025.14h0M1975.2 977.87h0M1907.12 835.92h0M1945.83 1019.92h0M1894.88 915.73h0M1924.37 1098.13h0M1935.68 1040.96h0M2099.65 1082h0M2100.14 777.4h0M1880.41 990.48h0M1960.45 874.48h0M2057.45 863.63h0M2098.82 1012.63h0M2008.93 990.75h0M2161.04 1028.07h0M1982.25 912.74h0M1927.24 989.86h0M1934.44 997.37h0M1892.84 1093.7h0M1910.91 950.24h0M1894.05 1039.09h0M1865.19 999.13h0M1987.38 984.9h0M2051.03 943.29h0M2039.76 1017.93h0M2018.12 1018.82h0M2051.51 1042.13h0M2002.13 959.94h0M1920.09 893.78h0M2166.53 917.94h0M2092.92 992.96h0M1919.45 943.61h0M2010.7 938.81h0M1931.94 1028.4h0M2044.78 809.06h0M2131.5 947.61h0M2052.46 1035.59h0M1843.73 1048.96h0M2132.46 1024.15h0M1985.44 982.41h0M1936.1 1052h0M1871.94 1019.65h0M1935.05 942.81h0M1927.44 1039.48h0M2001.43 829.8h0M1970.01 994.71h0M1948.08 1046.15h0M1897.26 916.58h0M2099.8 854.44h0M2106.27 1081.19h0M2116.3 1034.57h0M1931.31 1080h0M2072.35 1014.75h0M1920.11 819.4h0M2067.99 815.28h0M1921.47 1073.48h0M2014.96 982.88h0M2012.08 1006.05h0M1937.41 1063.92h0M2014.43 945.15h0M2030.57 1001.63h0M2086.71 1101.89h0M2106.47 968.58h0M1927.19 1105.05h0M2066.34 1052.81h0M1973.92 990.14h0M1840.99 1075.1h0M2002.67 1016.78h0M2076.8 877.43h0M1954.13 872.31h0M1990.11 942.48h0M1926.82 1044.4h0M2025.12 978.92h0M2044.16 936.74h0M1985.23 964.84h0M2027.41 1006.93h0M2032.95 1015.35h0M2007.72 1014.11h0M2053.14 1043.5h0M1909.14 988.62h0M1902.84 997.23h0M1936.54 996.51h0M2051.35 1033.21h0M1934.84 1065.8h0M1957.41 987.86h0M1926.56 1084.18h0M2075.37 1013.91h0M1976.93 1012.46h0M1885.47 1061.75h0M2093.6 969.4h0M1982.11 883.52h0M1936.88 1030.41h0M2079.43 1068.27h0M1918.63 1010.89h0M2056.89 1058.64h0M1938.5 840.21h0M2066.29 920.82h0M1905.76 1082.69h0M2042.36 869.31h0M1882.24 1086.11h0M1877.23 912.4h0M1916.19 1076.66h0M2026.6 1027.95h0M1998.71 853.27h0M2085.52 1064.29h0M1966.48 1017.64h0M2008.06 992.37h0M1982.74 980.13h0M1976.13 963.93h0M1934.73 1072.39h0M2084.59 1095.41h0M1909.6 1069.97h0M2038.34 1007.74h0M2055.51 978.65h0M2059.99 973.48h0M1965.17 970.55h0M1921.18 1081.56h0M2040 941.02h0M1845.73 986.46h0" stroke="#000" stroke-opacity="0.125" stroke-width="4.1" stroke-linecap="round" fill="none" filter="url(#bl)"/>
<path d="M2056.93 918.82h0M1956.55 891.7h0M1943.93 998.34h0M1929.46 1048.76h0M2032.25 963.93h0M1929.81 1031.19h0M1950.85 974.08h0M1977.04 864.23h0M1937.23 991.24h0M2098.01 941.73h0M2105.33 979.69h0M2160.99 1000.76h0M2081.86 1081.08h0M1940.89 1018.74h0M1891.15 1045.41h0M2083.46 1010.35h0M2127.09 1031.73h0M1931.24 1059.32h0M2047.57 1025.8h0M1917.3 1057.96h0M1922.31 1031.75h0M1935.11 1003.6h0M2058.54 1036.67h0M2046.3 972.89h0M1962.52 1035.87h0M2024.84 1026.47h0M2125.65 1042.61h0M2082.4 1028.23h0M2075.77 951.75h0M2057.83 998.04h0M2060.35 978.08h0M2002.41 998.38h0M2054.45 1003.65h0M2101.71 1027.65h0M2062.09 1057.12h0M2109.19 924.09h0M2074.15 1047.13h0M1902.14 989.55h0M2039.19 970.18h0M1908.68 1010.07h0M1943.82 1032.42h0M1921.64 934.99h0M2050.18 1037.31h0M2083.69 1066.77h0M1890.95 986.41h0M1888.72 1004.45h0M2148.46 957.41h0M2005.38 903.06h0M2021.67 885.44h0M1983.35 1015.3h0M1933.37 1021.87h0M1860.15 1001.06h0M1898.33 1086.98h0M1905.4 1067.02h0M2065.87 1049.87h0M2076.78 977.54h0M2028.2 1000.62h0M2156.66 852.18h0M1964.6 909.12h0M1896.9 1045.25h0M1991.49 1001.02h0M2017.67 969.82h0M2010.11 1006.84h0M2086.67 908.46h0M1835.82 845.55h0M1934.3 945.11h0M1875.35 1013.59h0M2118.79 1013.26h0M1975.38 994.66h0M2001.56 980.83h0M1999.17 1003.51h0M1897.95 1036.72h0M2021.35 965.65h0M2128.76 894.68h0M1924.85 1040.78h0M2072.92 1021.45h0M2145.18 1040.41h0M1999.48 1007.14h0M1926.99 1070.9h0M2093.07 957.38h0M2067.41 926.35h0M2028.59 1009.45h0M1902.26 880.92h0M1928.03 905.4h0M2013.31 1020.42h0M1896.6 950.26h0M1894.67 1005.41h0M2031.14 1031.14h0M1918.52 1104.17h0M2038.79 993.49h0M2025.38 924.74h0M1945.23 1039.19h0M1943.17 1055.28h0M1973.95 912.29h0M1994.72 999.43h0M1930.63 1061.86h0M2076.11 1050.42h0M1964.25 1030.03h0M2082.15 886.83h0M2147.69 1001.49h0M2152.29 1082.91h0M2045.42 1031.13h0M2077.5 1091.91h0M2071.02 968h0M2025.82 993.21h0M2076.09 966.53h0M1836.61 970.39h0M2072.83 1088.19h0M1939.8 1042.8h0M1911.31 1031.13h0M1979.81 1011.04h0M2074.95 1061.31h0M1996.45 1011.55h0M2073.28 1055.68h0M2059.08 1063.31h0M2094.59 1080.22h0M1897.66 1094.47h0M2097.49 1042.39h0M2118.98 875.53h0M2004.24 914.73h0M2068.9 1055.23h0M1905.38 1021.01h0M2073.75 864.5h0M1899.29 1007.03h0M1910.75 1103.79h0M1930.99 972.9h0M2051.89 1045.31h0M2087.84 1045.76h0M1906.59 1037.5h0M2050.31 969.79h0M2050.22 967.18h0M1864.72 864.9h0M1989.77 1003.32h0M2164.57 810.14h0M2126.39 976.37h0M1936.2 1067.15h0M2019.2 997.64h0M2038.07 1018.12h0M2071.85 1061.88h0M2043.37 1028.85h0M1877.57 985.68h0M2081.9 1101.93h0M2071.47 1102.05h0M2000.11 910.75h0M2066.48 1049.81h0M2084.21 995.22h0M2098.33 968.73h0M1895.73 1030.86h0M1949.54 984.21h0M2148.9 1023.46h0M1947.92 936.32h0M1913.18 960.2h0M1905.12 1080.23h0M2108.32 1027.16h0M1915.23 1074.12h0M2045.72 1024.7h0M2003.4 888.89h0M1915.63 1067.32h0M1921.42 1081.57h0M1900 1057.06h0M2028.18 970.2h0M1955.2 1034.29h0M2089.92 1039.12h0M1888.85 1054.92h0M1878.09 877.23h0M1987.06 993.94h0M1906.23 1023.29h0M2120.28 1086.71h0M2090.06 916.07h0M2088.12 942.48h0M2098.16 918.18h0M2002.55 972.3h0M2088.89 1087.08h0M1923.5 862.91h0M2139.77 877.29h0M1904.95 1060.89h0M1961.09 940.94h0M2036.75 1016.14h0M2103.26 995.95h0M1966.03 1021.58h0M1973.63 975.66h0M1944.44 1050.62h0M2005.96 1018.76h0M2084.03 873.45h0M2052.16 991.28h0M1924.77 963.62h0M1962.23 1008.79h0M1940.31 1050.08h0M2020.32 1026.54h0M1984.62 888.33h0M1925.37 1040.03h0M1955.82 1024.91h0M1914.29 1005.69h0M1898 960.18h0M1928.53 1038.42h0M1920.24 1103.11h0M2060.25 1065.14h0M1942.16 921.07h0M1940.38 1001.76h0M1969.8 1005.92h0M2064.04 1006.23h0M1958.8 997.3h0M2045.07 979.61h0M2120.37 995.02h0M1860.25 988.89h0M1924.92 993.07h0M1998.72 987.6h0M1945.77 1056.2h0M1927.1 921.96h0M1955.91 1038.51h0M1956.38 992.85h0M1934.71 1060.91h0M2083.74 982.36h0M1871.44 1065.47h0M2110.55 982.1h0M2005.27 968.62h0M1977 805.06h0M1914.54 1043.14h0M2126.44 1059.61h0M2077.5 978.13h0M1935.92 947.68h0M1915.35 1058.78h0M1960.14 801.7h0M2088.46 1058.86h0M1871.3 1014.09h0M2017.58 955.56h0M1953.25 969.77h0M2078.41 938.85h0M2065.44 1054.96h0M1931.76 831.37h0M1919.7 985.18h0M2042.35 1036.73h0M2008.22 997.19h0M1920.83 1030.74h0M2036.49 980.1h0M1970.69 1025.86h0M2076.75 1017.82h0M2049.95 1038.91h0M2081.43 1016.35h0M1931.41 1042.32h0M2042.19 986.95h0M2034.99 1015.36h0M2095.91 944.65h0M1868.46 863.99h0M2063.03 1061.34h0M2045.8 988.37h0M1899.65 1071.69h0M2015.37 984.08h0M2100.67 1050.46h0M2016.22 930.13h0M2008.96 957.91h0M1950.42 968.7h0M2148.07 1013.61h0M1925.95 1049.93h0M2102.56 1089.98h0M2023.17 936.57h0M2099.31 1041.31h0M2126.09 1070.21h0M2031.65 865.77h0M2005.94 1016h0M1971.45 988.72h0M1965.58 984.05h0M2043.06 948.13h0M1961.52 981.01h0M1953.79 989.74h0M1934.58 1073.92h0M2076.49 1038.7h0M1940.15 1042.65h0M1916.96 966.68h0M2064.41 1042.53h0M1994.61 956.94h0M2023.59 1011.74h0M2130.5 1002.27h0M1968.01 814.63h0M1970.48 820.65h0M2102.66 956.19h0M2078.23 1074.29h0M1939.54 914.62h0M1919.32 980.29h0M1976.79 992.28h0M2006.9 818.62h0M2062.87 998.48h0M1944.17 920.74h0M2032.87 988.48h0M2042.27 1022.13h0M1894.48 805.36h0M2100.85 1047.71h0M1936.95 1043.12h0M1930.19 1041.9h0M2079.84 1024.77h0M1956.32 967.88h0M1989.45 928.55h0M2102.98 862.82h0M2024.03 1016.51h0M2087.68 853.93h0M2048.49 996h0M1960.85 987.42h0M1837.29 853.5h0M2070.54 1006.13h0M1980.64 930.38h0M1858.62 1008.77h0M2037.59 975.7h0M1970.26 1015.1h0M2045.27 998.81h0M2046.53 1041.05h0M1911.92 1094.73h0M1949.16 914.39h0M1995.21 1013.95h0M2004.51 1011.08h0M1919.74 915.79h0M1926.82 1035.81h0M2095.04 966.61h0M2100.97 1104.72h0M2046.99 941.64h0M2116.71 975.56h0M1938.09 1044.25h0M1925.1 1101.19h0M1937.22 1028.8h0M1873.15 994.24h0M1961.35 1033.31h0M1918.05 1072.57h0M1954.53 968.31h0M2131.93 948.72h0M1998.97 946.7h0M2023.43 945.92h0M2073.63 1031.8h0M2060.01 980.36h0M2034.76 1033.08h0M1978.11 953.89h0M1922.7 1072.16h0M1937.04 1003.85h0M1949.03 1048.94h0M2078.68 1095.15h0M2013.88 1013.26h0M1965.58 992.58h0M2073.79 1087.28h0M2008.44 995.47h0M1928.41 1059.33h0M1949.41 1023.56h0M2074.93 876.96h0M2023.91 964.49h0M2003.05 983.64h0M2035.68 969.25h0M1994.08 922.07h0M1928.78 1022.32h0M2076.09 1081.5h0M2094.97 964.66h0M1980.89 993.75h0M1884.14 983.39h0M2026.25 986.75h0M1983.7 962.24h0M2001.11 1012.36h0M1992.59 1015.47h0M1910.8 995.23h0M2004.43 941.61h0M1934.76 1034.84h0M2093 1035.46h0M2040.22 1027.82h0M1902.17 1059.16h0M2075.67 1079.37h0M2107.56 1040.74h0M1938.61 1017.45h0M1971.34 923.75h0M1987 909.2h0M2025.08 942.95h0M2050.1 1013.49h0M1953.05 1045.27h0M1957.88 823.36h0M1910.57 879.84h0M1943.69 981.89h0M2010.12 972.55h0M2027.71 1012.92h0M1905.11 1042.88h0M1967.84 969.69h0M2068.4 1039.41h0M1967.18 976.61h0M2137.46 978.93h0M1945.99 1040.27h0M2054.19 1033.99h0M2070.48 1064.79h0M2122.75 1038.62h0M1965.69 918.7h0M1930.19 935.27h0M1958.61 916.74h0M2090.32 1034.19h0M1980.93 958.61h0M2109.72 1082.15h0M2094.55 1087.02h0M1952.59 982.78h0M2054.23 991.6h0M2081.01 1058.69h0M1947.13 988.13h0M1866.02 947.63h0M1944.11 1042.99h0M1861.54 1024.82h0M1969.35 972.8h0M2023.57 1028.37h0M1896.98 1018.15h0M2098.87 1032.69h0M1878.25 998.02h0M1922.31 917.11h0M1981.33 1021.37h0M2069.21 973.06h0M1918.81 1034.08h0M1981.37 892.23h0M2074.89 1019.87h0M1926.36 1054.61h0M1942.08 971.88h0M1917.79 1067.82h0M2089.09 1005.93h0M1865.36 1027.84h0M2075.23 1104.59h0M1922.69 1059.84h0M1972.06 867.44h0M1978.08 940.37h0M1907.21 1092.42h0M1995.03 939.5h0M1997.54 1015.05h0M2014.24 874.57h0M1910.41 1012.99h0M2021.43 1018.36h0M1986.37 1002.98h0M1902.43 846.46h0M2097.92 949.37h0M1963.85 966.24h0M1897.64 1047.29h0M1906.36 1075.96h0M2122.22 1023.81h0M2017.53 984.69h0M1866.95 921.29h0M2066.07 1083.63h0M1948.15 965.25h0M1901.43 1000.9h0" stroke="#000" stroke-opacity="0.125" stroke-width="4.1" stroke-linecap="round" fill="none" filter="url(#bl)"/>
<polygon points="1929.13,1108.9 1929.7,1097.21 1932,1083.57 1939.49,1067.97 1949.85,1049.45 1964.81,1034.83 1979.78,1022.16 1990.14,1017.29 1997.04,1017.29 2008.55,1021.19 2016.61,1028.01 2024.67,1032.88 2041.94,1036.78 2051.15,1045.56 2055.75,1054.33 2059.2,1070.9 2064.96,1088.44 2068.99,1101.11 2069.56,1108.9" fill="#f8f8f8"/>
<g clip-path="url(#c21)">
<rect x="1932.25" y="1091.81" width="17.35" height="17.39" fill="#f2f2f2"/>
<rect x="1949.31" y="1091.81" width="17.35" height="17.39" fill="#d0d0d0"/>
<rect x="1966.36" y="1091.81" width="17.35" height="17.39" fill="#555555"/>
<rect x="1983.42" y="1091.81" width="17.35" height="17.39" fill="#000000"/>
<rect x="2000.47" y="1091.81" width="17.35" height="17.39" fill="#1c1c1c"/>
<rect x="2017.53" y="1091.81" width="17.35" height="17.39" fill="#8c8c8c"/>
<rect x="2034.58" y="1091.81" width="17.35" height="17.39" fill="#d8d8d8"/>
<rect x="1949.31" y="1074.72" width="17.35" height="17.39" fill="#eaeaea"/>
<rect x="1966.36" y="1074.72" width="17.35" height="17.39" fill="#8a8a8a"/>
<rect x="1983.42" y="1074.72" width="17.35" height="17.39" fill="#4a4a4a"/>
<rect x="2000.47" y="1074.72" width="17.35" height="17.39" fill="#666666"/>
<rect x="2017.53" y="1074.72" width="17.35" height="17.39" fill="#999999"/>
<rect x="2034.58" y="1074.72" width="17.35" height="17.39" fill="#e6e6e6"/>
<rect x="1966.36" y="1057.63" width="17.35" height="17.39" fill="#e4e4e4"/>
<rect x="1983.42" y="1057.63" width="17.35" height="17.39" fill="#a8a8a8"/>
<rect x="2000.47" y="1057.63" width="17.35" height="17.39" fill="#b4b4b4"/>
<rect x="2017.53" y="1057.63" width="17.35" height="17.39" fill="#e0e0e0"/>
<rect x="2034.58" y="1057.63" width="17.35" height="17.39" fill="#f2f2f2"/>
<rect x="1966.36" y="1040.54" width="17.35" height="17.39" fill="#eeeeee"/>
<rect x="1983.42" y="1040.54" width="17.35" height="17.39" fill="#e8e8e8"/>
<rect x="2000.47" y="1040.54" width="17.35" height="17.39" fill="#e0e0e0"/>
<rect x="2017.53" y="1040.54" width="17.35" height="17.39" fill="#ececec"/>
</g>
<polyline points="1929.13,1108.9 1929.7,1097.21 1932,1083.57 1939.49,1067.97 1949.85,1049.45 1964.81,1034.83 1979.78,1022.16 1990.14,1017.29 1997.04,1017.29 2008.55,1021.19 2016.61,1028.01 2024.67,1032.88 2041.94,1036.78 2051.15,1045.56 2055.75,1054.33 2059.2,1070.9 2064.96,1088.44 2068.99,1101.11 2069.56,1108.9" fill="none" stroke="#000" stroke-width="3" stroke-linejoin="round"/>
<polyline points="1951.23,1108.9 1951.57,1098.19 1956.75,1083.57 1965.96,1067 1975.17,1058.23 1991.29,1053.35 2005.1,1049.45 2010.86,1048.97 2028.12,1060.18 2033.88,1069.92 2046.54,1080.64 2047.12,1108.9" fill="none" stroke="#000" stroke-width="3" stroke-linejoin="round"/>
<polyline points="1967.69,1108.9 1968.84,1099.16 1975.17,1086.49 1991.29,1073.82 1997.04,1073.82 2026.97,1083.57 2028.12,1108.9" fill="none" stroke="#000" stroke-width="3" stroke-linejoin="round"/>
<rect x="1471.71" y="50.7" width="341.09" height="341.8" fill="none" stroke="#000" stroke-width="2.3"/>
<line x1="1540.56" y1="392.5" x2="1540.56" y2="401.9" stroke="#000" stroke-width="2"/>
<line x1="1623.11" y1="392.5" x2="1623.11" y2="401.9" stroke="#000" stroke-width="2"/>
<line x1="1705.66" y1="392.5" x2="1705.66" y2="401.9" stroke="#000" stroke-width="2"/>
<line x1="1788.2" y1="392.5" x2="1788.2" y2="401.9" stroke="#000" stroke-width="2"/>
<rect x="1471.71" y="408.9" width="341.09" height="341.8" fill="none" stroke="#000" stroke-width="1.5"/>
<line x1="1540.56" y1="750.7" x2="1540.56" y2="760.1" stroke="#000" stroke-width="2"/>
<line x1="1623.11" y1="750.7" x2="1623.11" y2="760.1" stroke="#000" stroke-width="2"/>
<line x1="1705.66" y1="750.7" x2="1705.66" y2="760.1" stroke="#000" stroke-width="2"/>
<line x1="1788.2" y1="750.7" x2="1788.2" y2="760.1" stroke="#000" stroke-width="2"/>
<line x1="1461.31" y1="748.75" x2="1471.71" y2="748.75" stroke="#000" stroke-width="2"/>
<line x1="1461.31" y1="675.77" x2="1471.71" y2="675.77" stroke="#000" stroke-width="2"/>
<line x1="1461.31" y1="602.79" x2="1471.71" y2="602.79" stroke="#000" stroke-width="2"/>
<line x1="1461.31" y1="529.81" x2="1471.71" y2="529.81" stroke="#000" stroke-width="2"/>
<line x1="1461.31" y1="456.82" x2="1471.71" y2="456.82" stroke="#000" stroke-width="2"/>
<rect x="1829.93" y="408.9" width="341.09" height="341.8" fill="none" stroke="#000" stroke-width="2.3"/>
<line x1="1831.87" y1="750.7" x2="1831.87" y2="760.1" stroke="#000" stroke-width="2"/>
<line x1="1904.7" y1="750.7" x2="1904.7" y2="760.1" stroke="#000" stroke-width="2"/>
<line x1="1977.53" y1="750.7" x2="1977.53" y2="760.1" stroke="#000" stroke-width="2"/>
<line x1="2050.36" y1="750.7" x2="2050.36" y2="760.1" stroke="#000" stroke-width="2"/>
<line x1="2123.19" y1="750.7" x2="2123.19" y2="760.1" stroke="#000" stroke-width="2"/>
<rect x="1471.71" y="767.1" width="341.09" height="341.8" fill="none" stroke="#000" stroke-width="1.5"/>
<line x1="1540.56" y1="1108.9" x2="1540.56" y2="1118.3" stroke="#000" stroke-width="2"/>
<line x1="1623.11" y1="1108.9" x2="1623.11" y2="1118.3" stroke="#000" stroke-width="2"/>
<line x1="1705.66" y1="1108.9" x2="1705.66" y2="1118.3" stroke="#000" stroke-width="2"/>
<line x1="1788.2" y1="1108.9" x2="1788.2" y2="1118.3" stroke="#000" stroke-width="2"/>
<line x1="1461.31" y1="1029.53" x2="1471.71" y2="1029.53" stroke="#000" stroke-width="2"/>
<line x1="1461.31" y1="949.03" x2="1471.71" y2="949.03" stroke="#000" stroke-width="2"/>
<line x1="1461.31" y1="868.53" x2="1471.71" y2="868.53" stroke="#000" stroke-width="2"/>
<line x1="1461.31" y1="788.03" x2="1471.71" y2="788.03" stroke="#000" stroke-width="2"/>
<rect x="1829.93" y="767.1" width="341.09" height="341.8" fill="none" stroke="#000" stroke-width="1.5"/>
<line x1="1831.87" y1="1108.9" x2="1831.87" y2="1118.3" stroke="#000" stroke-width="2"/>
<line x1="1904.7" y1="1108.9" x2="1904.7" y2="1118.3" stroke="#000" stroke-width="2"/>
<line x1="1977.53" y1="1108.9" x2="1977.53" y2="1118.3" stroke="#000" stroke-width="2"/>
<line x1="2050.36" y1="1108.9" x2="2050.36" y2="1118.3" stroke="#000" stroke-width="2"/>
<line x1="2123.19" y1="1108.9" x2="2123.19" y2="1118.3" stroke="#000" stroke-width="2"/>
<line x1="1819.53" y1="1029.53" x2="1829.93" y2="1029.53" stroke="#000" stroke-width="2"/>
<line x1="1819.53" y1="949.03" x2="1829.93" y2="949.03" stroke="#000" stroke-width="2"/>
<line x1="1819.53" y1="868.53" x2="1829.93" y2="868.53" stroke="#000" stroke-width="2"/>
<line x1="1819.53" y1="788.03" x2="1829.93" y2="788.03" stroke="#000" stroke-width="2"/>
<rect x="2188.14" y="767.1" width="341.09" height="341.8" fill="none" stroke="#000" stroke-width="2.3"/>
<line x1="2267.35" y1="1108.9" x2="2267.35" y2="1118.3" stroke="#000" stroke-width="2"/>
<line x1="2347.68" y1="1108.9" x2="2347.68" y2="1118.3" stroke="#000" stroke-width="2"/>
<line x1="2428.01" y1="1108.9" x2="2428.01" y2="1118.3" stroke="#000" stroke-width="2"/>
<line x1="2508.34" y1="1108.9" x2="2508.34" y2="1118.3" stroke="#000" stroke-width="2"/>
<text transform="translate(1570.95,1146.68) rotate(-45)" font-family="'DejaVu Sans', 'Liberation Sans', sans-serif" font-size="37" text-anchor="end">0.9</text>
<text transform="translate(1653.5,1146.68) rotate(-45)" font-family="'DejaVu Sans', 'Liberation Sans', sans-serif" font-size="37" text-anchor="end">1.0</text>
<text transform="translate(1736.04,1146.68) rotate(-45)" font-family="'DejaVu Sans', 'Liberation Sans', sans-serif" font-size="37" text-anchor="end">1.1</text>
<text transform="translate(1818.59,1146.68) rotate(-45)" font-family="'DejaVu Sans', 'Liberation Sans', sans-serif" font-size="37" text-anchor="end">1.2</text>
<text transform="translate(1878.9,1146.68) rotate(-45)" font-family="'DejaVu Sans', 'Liberation Sans', sans-serif" font-size="37" text-anchor="end">26.88</text>
<text transform="translate(1951.73,1146.68) rotate(-45)" font-family="'DejaVu Sans', 'Liberation Sans', sans-serif" font-size="37" text-anchor="end">26.94</text>
<text transform="translate(2024.56,1146.68) rotate(-45)" font-family="'DejaVu Sans', 'Liberation Sans', sans-serif" font-size="37" text-anchor="end">27.00</text>
<text transform="translate(2097.39,1146.68) rotate(-45)" font-family="'DejaVu Sans', 'Liberation Sans', sans-serif" font-size="37" text-anchor="end">27.06</text>
<text transform="translate(2170.22,1146.68) rotate(-45)" font-family="'DejaVu Sans', 'Liberation Sans', sans-serif" font-size="37" text-anchor="end">27.12</text>
<text transform="translate(2306.06,1146.68) rotate(-45)" font-family="'DejaVu Sans', 'Liberation Sans', sans-serif" font-size="37" text-anchor="end">0.05</text>
<text transform="translate(2386.39,1146.68) rotate(-45)" font-family="'DejaVu Sans', 'Liberation Sans', sans-serif" font-size="37" text-anchor="end">0.10</text>
<text transform="translate(2466.72,1146.68) rotate(-45)" font-family="'DejaVu Sans', 'Liberation Sans', sans-serif" font-size="37" text-anchor="end">0.15</text>
<text transform="translate(2547.05,1146.68) rotate(-45)" font-family="'DejaVu Sans', 'Liberation Sans', sans-serif" font-size="37" text-anchor="end">0.20</text>
<text transform="translate(1447.38,756.25) rotate(-45)" font-family="'DejaVu Sans', 'Liberation Sans', sans-serif" font-size="37" text-anchor="end">26.88</text>
<text transform="translate(1447.38,683.27) rotate(-45)" font-family="'DejaVu Sans', 'Liberation Sans', sans-serif" font-size="37" text-anchor="end">26.94</text>
<text transform="translate(1447.38,610.29) rotate(-45)" font-family="'DejaVu Sans', 'Liberation Sans', sans-serif" font-size="37" text-anchor="end">27.00</text>
<text transform="translate(1447.38,537.31) rotate(-45)" font-family="'DejaVu Sans', 'Liberation Sans', sans-serif" font-size="37" text-anchor="end">27.06</text>
<text transform="translate(1447.38,464.32) rotate(-45)" font-family="'DejaVu Sans', 'Liberation Sans', sans-serif" font-size="37" text-anchor="end">27.12</text>
<text transform="translate(1447.38,1037.03) rotate(-45)" font-family="'DejaVu Sans', 'Liberation Sans', sans-serif" font-size="37" text-anchor="end">0.05</text>
<text transform="translate(1447.38,956.53) rotate(-45)" font-family="'DejaVu Sans', 'Liberation Sans', sans-serif" font-size="37" text-anchor="end">0.10</text>
<text transform="translate(1447.38,876.03) rotate(-45)" font-family="'DejaVu Sans', 'Liberation Sans', sans-serif" font-size="37" text-anchor="end">0.15</text>
<text transform="translate(1447.38,795.53) rotate(-45)" font-family="'DejaVu Sans', 'Liberation Sans', sans-serif" font-size="37" text-anchor="end">0.20</text>
<text x="1642.26" y="1273.3" font-family="'DejaVu Sans', 'Liberation Sans', sans-serif" font-size="37.8" text-anchor="middle">slope</text>
<text x="2000.47" y="1273.3" font-family="'DejaVu Sans', 'Liberation Sans', sans-serif" font-size="37.8" text-anchor="middle">offset</text>
<text x="2358.69" y="1273.3" font-family="'DejaVu Sans', 'Liberation Sans', sans-serif" font-size="37.8" text-anchor="middle">scatter</text>
<text transform="translate(1326.92,580.1) rotate(-90)" font-family="'DejaVu Sans', 'Liberation Sans', sans-serif" font-size="37.8" text-anchor="middle">offset</text>
<text transform="translate(1326.92,938.3) rotate(-90)" font-family="'DejaVu Sans', 'Liberation Sans', sans-serif" font-size="37.8" text-anchor="middle">scatter</text>
<text id="t0" x="1490.33" y="35.3" font-family="'DejaVu Sans', 'Liberation Sans', sans-serif" font-size="35.7" text-anchor="start">slope = 1.01<tspan font-size="24.6" dy="-13.7" dx="1">+0.04</tspan></text>
<text x="1718.73" y="45.2" font-family="'DejaVu Sans', 'Liberation Sans', sans-serif" font-size="24.6" text-anchor="start">−0.04</text>
<text id="t1" x="1833.89" y="393.5" font-family="'DejaVu Sans', 'Liberation Sans', sans-serif" font-size="35.7" text-anchor="start">offset = 27.02<tspan font-size="24.6" dy="-13.7" dx="1">+0.03</tspan></text>
<text x="2091.6" y="403.4" font-family="'DejaVu Sans', 'Liberation Sans', sans-serif" font-size="24.6" text-anchor="start">−0.03</text>
<text id="t2" x="2191.86" y="751.7" font-family="'DejaVu Sans', 'Liberation Sans', sans-serif" font-size="35.7" text-anchor="start">scatter = 0.02<tspan font-size="24.6" dy="-13.7" dx="1">+0.02</tspan></text>
<text x="2450.05" y="761.6" font-family="'DejaVu Sans', 'Liberation Sans', sans-serif" font-size="24.6" text-anchor="start">−0.01</text>
</g>
</svg></body></html>
